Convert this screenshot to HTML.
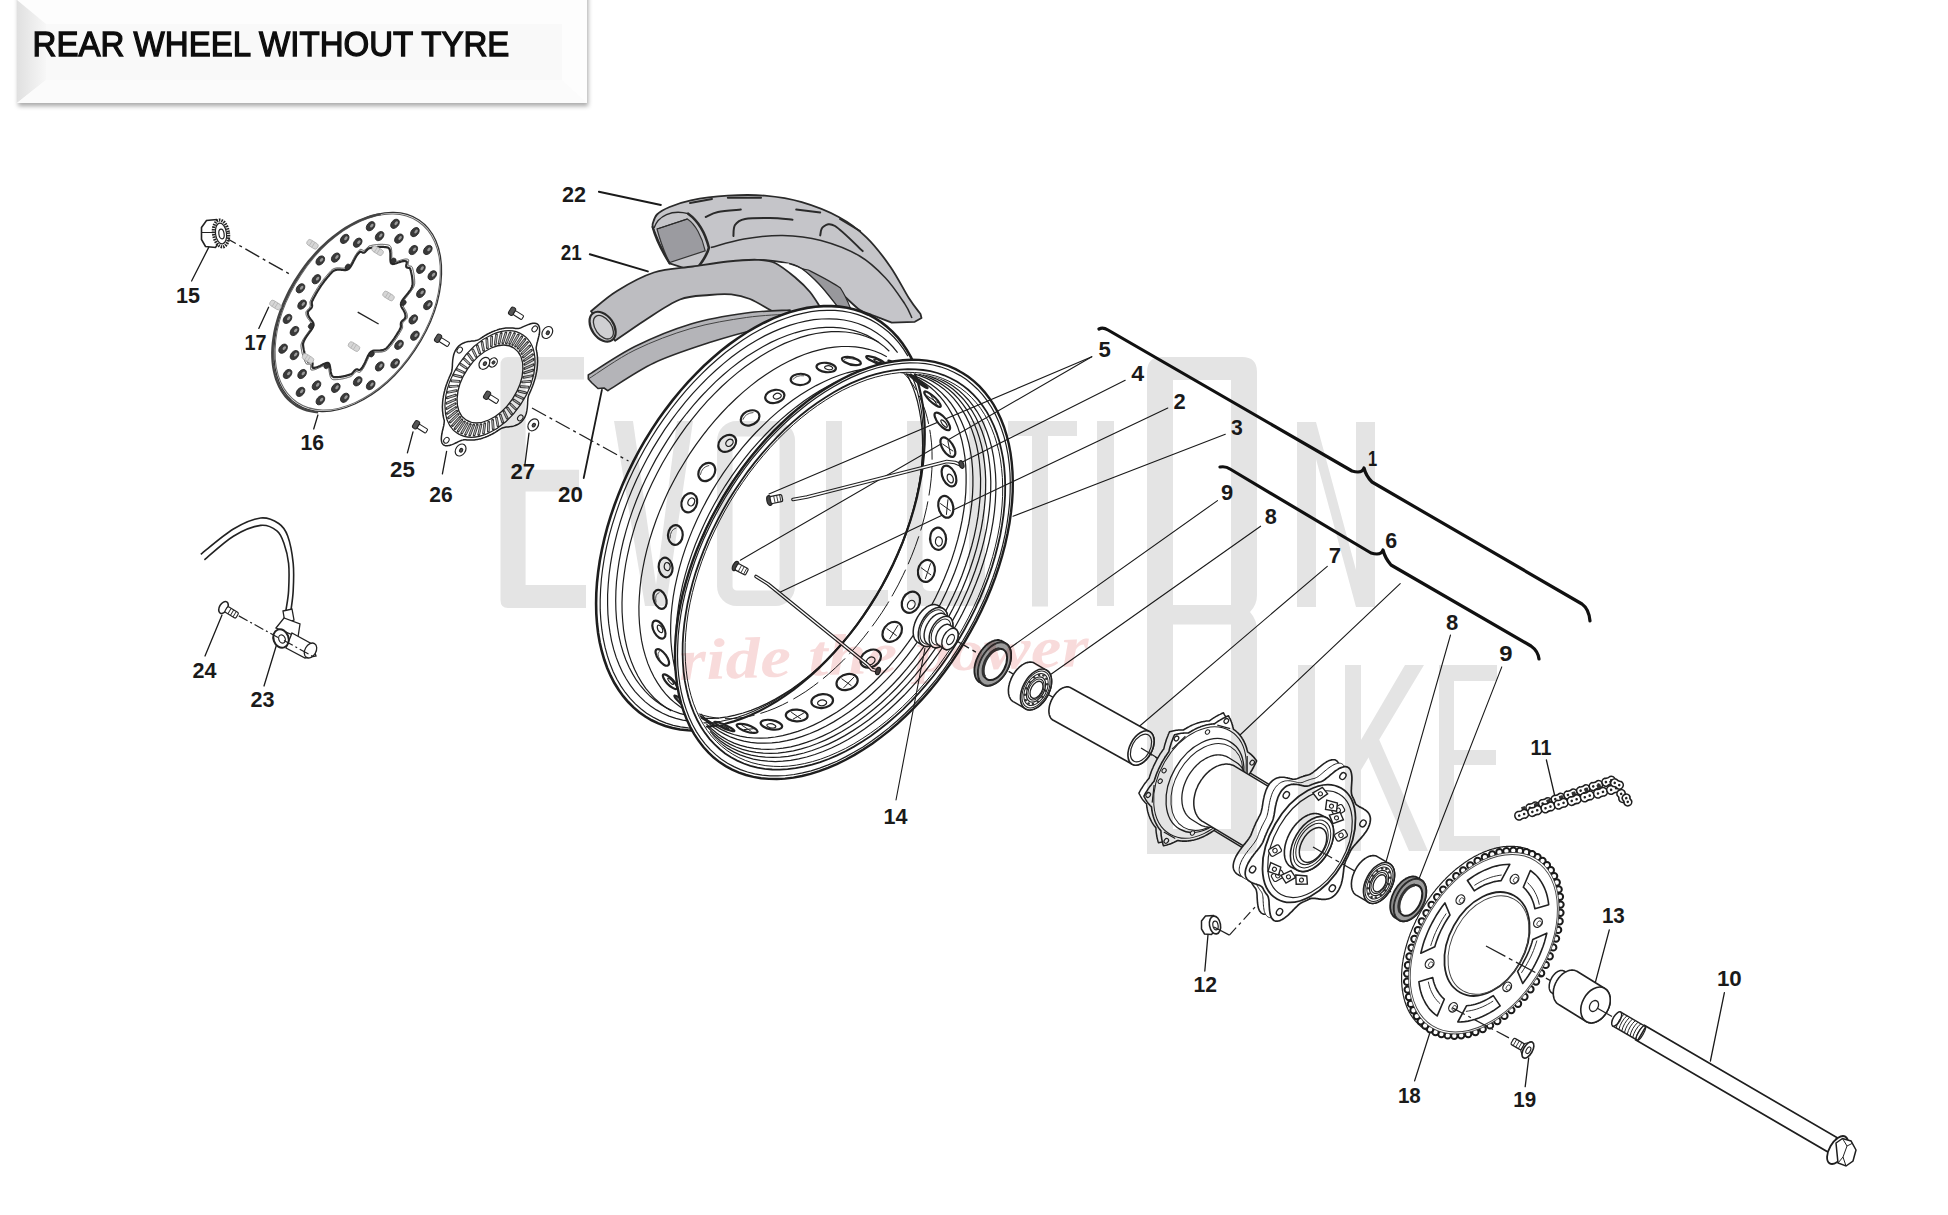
<!DOCTYPE html>
<html><head><meta charset="utf-8"><style>
html,body{margin:0;padding:0;background:#fff;width:1948px;height:1215px;overflow:hidden;}
#wrap{position:relative;width:1948px;height:1215px;background:#fff;}
svg{position:absolute;left:0;top:0;}
.lb{font-family:"Liberation Sans",sans-serif;font-weight:bold;font-size:21.5px;fill:#1a1a1a;}
</style></head><body><div id="wrap">
<svg width="1948" height="1215" viewBox="0 0 1948 1215"><path d="M652.6,224 C653.3,222.4 654.2,217.3 657,214.5 C659.8,211.7 664,209.4 669.6,207 C675.2,204.6 681.2,202.2 690.9,200.3 C700.6,198.4 715.5,196.5 727.8,195.7 C740.1,194.9 752.5,194.6 764.8,195.7 C777.1,196.8 789.5,198.6 801.8,202.2 C814.1,205.8 827.9,211.2 838.7,217 C849.5,222.8 857.8,229 866.4,237.3 C875,245.6 883.4,256.7 890.5,266.9 C897.6,277.1 904,290.4 909,298.3 C914,306.2 918.6,311.4 920.5,314 L921.5,318 L914.8,321.8 L891.7,322.6 C888.4,321.3 877.4,317.1 872,315 C866.6,312.9 864.4,313.1 859.6,309.8 C854.8,306.5 848.4,299.7 843,295 C837.6,290.3 834.4,286 827.5,281.6 C820.6,277.2 808.3,271.8 801.9,268.8 C795.5,265.8 796.5,265.1 789,263.6 C781.5,262.1 767.7,259.9 757,259.8 C746.3,259.7 735.7,261.1 725,263 C714.3,264.9 698.2,269.9 692.8,271.3 L694.8,271.5 L669.6,263.4 L660,245 L652.6,227 Z" fill="#c5c5c9" stroke="#2a2a2a" stroke-width="1.8" stroke-linejoin="round"/>
<path d="M657,229 L687.4,219 C695,224 702,236 705.2,250.8 L669.6,262.6 C664,252 660,240 657,229 Z" fill="#9b9ba0" stroke="#333" stroke-width="1.2" />
<path d="M654,228 C658,216 672,209 688.2,213.7" fill="none" stroke="#2a2a2a" stroke-width="1.4" />
<path d="M657,229 L687.4,219" fill="none" stroke="#2a2a2a" stroke-width="1.2" />
<path d="M688.2,213.7 C697,220 705,232 708.9,247.8 C707,256 700,265 694.8,271.5" fill="none" stroke="#2a2a2a" stroke-width="2.6" stroke-linecap="round"/>
<path d="M652.6,227 C656,240 663,253 669.6,263.4" fill="none" stroke="#2a2a2a" stroke-width="2.2" stroke-linecap="round"/>
<path d="M710.8,247.6 C716.3,246.2 732,241 744,239 C756,237 769.8,235.2 782.6,235.4 C795.4,235.7 808.2,237.1 821,240.5 C833.8,243.9 848.9,249.8 859.6,256 C870.3,262.2 877.8,269.8 885.3,277.7 C892.8,285.6 900,296.7 904.5,303.4 C909,310.1 910.8,315.6 912,318" fill="none" stroke="#2a2a2a" stroke-width="1.5" />
<path d="M705.7,217 C707.8,216.2 712.1,213.2 718,212 C723.9,210.8 737,210 740.8,209.6" fill="none" stroke="#2a2a2a" stroke-width="2.0" stroke-linecap="round"/>
<path d="M733.4,236 C733.7,234.2 733.1,227.8 735,225 C736.9,222.2 739.2,220.2 745,219 C750.8,217.8 762.1,217.9 770,218 C777.9,218.1 788.8,219.4 792.5,219.7" fill="none" stroke="#2a2a2a" stroke-width="2.0" stroke-linecap="round"/>
<path d="M796.2,209.6 C800.2,210.1 816.2,212 820.2,212.5" fill="none" stroke="#2a2a2a" stroke-width="2.0" stroke-linecap="round"/>
<path d="M820.2,235.4 C820.7,234 820.5,228.6 823,227 C825.5,225.4 828.4,222 835,226 C841.6,230 858.1,246.9 862.7,251.1" fill="none" stroke="#2a2a2a" stroke-width="2.0" stroke-linecap="round"/>
<path d="M727.8,197.8 C733.3,197.8 755.5,197.8 761,197.8" fill="none" stroke="#2a2a2a" stroke-width="2.0" stroke-linecap="round"/>
<path d="M690,203 C693.7,202.3 708.3,199.7 712,199" fill="none" stroke="#2a2a2a" stroke-width="2.0" stroke-linecap="round"/>
<path d="M840,219 C843.3,221 856.7,229 860,231" fill="none" stroke="#2a2a2a" stroke-width="2.0" stroke-linecap="round"/>
<path d="M801.9,268.8 L808.3,270 C820,276 832,282 840.4,288 C845,295 848,302 850.6,308.5 L839,308.5 C830,297 818,282 801.9,268.8 Z" fill="#98989c" stroke="#2a2a2a" stroke-width="1.2" />
<path d="M775,263 L789,263.6 L801.9,268.8 C818,282 830,297 839,308.5 L821,308.5 C812,296 805,287 795.5,277.7 C788,271 782,266 775,263 Z" fill="#fff" stroke="none" stroke-width="0" />
<path d="M789,263.6 C791.1,264.5 796.7,265.2 801.9,268.8 C807.1,272.4 813.8,278.4 820,285 C826.2,291.6 835.8,304.6 839,308.5" fill="none" stroke="#2a2a2a" stroke-width="1.3" />
<path d="M591,311.2 C595.3,307.8 606.5,297.3 617,290.9 C627.5,284.4 641.3,276.6 653.9,272.5 C666.5,268.4 680.5,268.3 692.8,266.5 C705.1,264.7 717.1,262.6 727.8,261.5 C738.5,260.4 749.1,259.6 757,259.8 C764.9,260.1 768.6,260 775,263 C781.4,266 789.7,272.9 795.5,277.7 C801.3,282.5 805.6,286.6 810,292 C814.4,297.4 820,307 822,310 L800,318 L785,318 C782.5,316.6 775.6,313 769.8,309.8 C764,306.6 756.4,301.6 750,299 C743.6,296.4 738.1,295.1 731.3,294.4 C724.5,293.7 717.9,294.1 709.4,295 C700.9,295.9 690.8,295.3 680,299.5 C669.2,303.7 655.5,313.5 644.7,320.4 C633.9,327.3 620,337.4 615.1,340.8 Z" fill="#bdbdc1" stroke="#2a2a2a" stroke-width="1.8" stroke-linejoin="round"/>
<ellipse cx="602.6" cy="326.7" rx="16.5" ry="11" transform="rotate(55 602.6 326.7)" fill="#cfcfd2" stroke="#2a2a2a" stroke-width="2.2" />
<ellipse cx="603.4" cy="327.2" rx="13.2" ry="8" transform="rotate(55 603.4 327.2)" fill="none" stroke="#333" stroke-width="1.3" />
<path d="M588.3,375 C596.1,370.2 618.3,354.8 635.4,346.3 C652.5,337.8 672.4,329.6 690.9,324 C709.4,318.4 729.8,315.3 746.3,313 C762.8,310.7 782.7,310.5 790,310 L790,325 C784.3,325.8 769,326.8 755.6,329.7 C742.2,332.6 726.4,337.1 709.4,342.6 C692.4,348.2 670.8,355 653.9,363 C637,371 615.4,386.1 607.7,390.7 L604,388 L598,388.5 L592,383 L588.3,379 Z" fill="#b4b4b8" stroke="#2a2a2a" stroke-width="1.6" stroke-linejoin="round"/>
<path d="M588.3,379 C596.1,374.2 617.9,358.4 635,350 C652.1,341.6 672.4,333.9 690.9,328.5 C709.4,323.1 729.8,319.9 746.3,317.5 C762.8,315.1 782.7,314.6 790,314" fill="none" stroke="#444" stroke-width="1.0" />
<ellipse cx="761.7" cy="518.3" rx="230" ry="140" transform="rotate(-61 761.7 518.3)" fill="#fff"/>
<ellipse cx="843.9" cy="569.4" rx="229.5" ry="140.8" transform="rotate(-59 843.9 569.4)" fill="#fff"/>
<path d="M873.2,317.1 L962.1,372.7 L725.7,766.1 L650.2,719.5 Z" fill="#fff"/>
<text x="562" y="201.7" textLength="24" lengthAdjust="spacingAndGlyphs" class="lb">22</text>
<text x="560.8" y="260.3" textLength="20.9" lengthAdjust="spacingAndGlyphs" class="lb">21</text>
<text x="176" y="303.4" textLength="24" lengthAdjust="spacingAndGlyphs" class="lb">15</text>
<text x="244.5" y="350" textLength="22" lengthAdjust="spacingAndGlyphs" class="lb">17</text>
<text x="300.5" y="450" textLength="23.5" lengthAdjust="spacingAndGlyphs" class="lb">16</text>
<text x="390.1" y="477" textLength="24.8" lengthAdjust="spacingAndGlyphs" class="lb">25</text>
<text x="429.3" y="501.8" textLength="23.4" lengthAdjust="spacingAndGlyphs" class="lb">26</text>
<text x="510.5" y="479.4" textLength="24.7" lengthAdjust="spacingAndGlyphs" class="lb">27</text>
<text x="558" y="502" textLength="24.8" lengthAdjust="spacingAndGlyphs" class="lb">20</text>
<text x="1098.5" y="357.2" textLength="12.3" lengthAdjust="spacingAndGlyphs" class="lb">5</text>
<text x="1131.3" y="381.3" textLength="12.9" lengthAdjust="spacingAndGlyphs" class="lb">4</text>
<text x="1173.5" y="408.5" textLength="12.2" lengthAdjust="spacingAndGlyphs" class="lb">2</text>
<text x="1230.9" y="435.2" textLength="11.8" lengthAdjust="spacingAndGlyphs" class="lb">3</text>
<text x="1367.9" y="465.7" textLength="9.2" lengthAdjust="spacingAndGlyphs" class="lb">1</text>
<text x="1221.1" y="499.5" textLength="12.2" lengthAdjust="spacingAndGlyphs" class="lb">9</text>
<text x="1264.8" y="524.2" textLength="12.1" lengthAdjust="spacingAndGlyphs" class="lb">8</text>
<text x="1385.3" y="547.8" textLength="11.9" lengthAdjust="spacingAndGlyphs" class="lb">6</text>
<text x="1328.8" y="563.2" textLength="12.3" lengthAdjust="spacingAndGlyphs" class="lb">7</text>
<text x="1445.9" y="629.9" textLength="12.3" lengthAdjust="spacingAndGlyphs" class="lb">8</text>
<text x="1499.2" y="660.7" textLength="13.3" lengthAdjust="spacingAndGlyphs" class="lb">9</text>
<text x="1530.6" y="754.6" textLength="20.8" lengthAdjust="spacingAndGlyphs" class="lb">11</text>
<text x="883.5" y="824" textLength="24" lengthAdjust="spacingAndGlyphs" class="lb">14</text>
<text x="192.5" y="678" textLength="24" lengthAdjust="spacingAndGlyphs" class="lb">24</text>
<text x="250.5" y="707" textLength="24" lengthAdjust="spacingAndGlyphs" class="lb">23</text>
<text x="1193.5" y="991.8" textLength="23.5" lengthAdjust="spacingAndGlyphs" class="lb">12</text>
<text x="1601.9" y="923" textLength="22.9" lengthAdjust="spacingAndGlyphs" class="lb">13</text>
<text x="1716.9" y="985.6" textLength="24.8" lengthAdjust="spacingAndGlyphs" class="lb">10</text>
<text x="1397.9" y="1102.8" textLength="22.9" lengthAdjust="spacingAndGlyphs" class="lb">18</text>
<text x="1513.2" y="1107.4" textLength="22.9" lengthAdjust="spacingAndGlyphs" class="lb">19</text>
<line x1="598.9" y1="191.7" x2="660.9" y2="204.9" stroke="#1a1a1a" stroke-width="2.0" stroke-linecap="round"/>
<line x1="589.8" y1="254.2" x2="647.8" y2="271.4" stroke="#1a1a1a" stroke-width="2.0" stroke-linecap="round"/>
<line x1="191.6" y1="281" x2="208.7" y2="247.4" stroke="#1a1a1a" stroke-width="1.3" stroke-linecap="round"/>
<line x1="258.8" y1="328.4" x2="268.6" y2="307.3" stroke="#1a1a1a" stroke-width="1.3" stroke-linecap="round"/>
<line x1="317.9" y1="415" x2="313.7" y2="429" stroke="#1a1a1a" stroke-width="1.3" stroke-linecap="round"/>
<line x1="407.4" y1="452.8" x2="413" y2="431.8" stroke="#1a1a1a" stroke-width="1.3" stroke-linecap="round"/>
<line x1="442.4" y1="473.8" x2="446.6" y2="451.4" stroke="#1a1a1a" stroke-width="1.3" stroke-linecap="round"/>
<line x1="525" y1="464" x2="529" y2="433.2" stroke="#1a1a1a" stroke-width="1.3" stroke-linecap="round"/>
<line x1="583.7" y1="478" x2="601.9" y2="389.9" stroke="#1a1a1a" stroke-width="1.8" stroke-linecap="round"/>
<line x1="1091.8" y1="356.7" x2="769" y2="494" stroke="#1a1a1a" stroke-width="1.1" stroke-linecap="round"/>
<line x1="1091.8" y1="356.7" x2="740.3" y2="560.2" stroke="#1a1a1a" stroke-width="1.1" stroke-linecap="round"/>
<line x1="1125.2" y1="380.3" x2="962.9" y2="461.7" stroke="#1a1a1a" stroke-width="1.1" stroke-linecap="round"/>
<line x1="1167.8" y1="408" x2="779.9" y2="592.3" stroke="#1a1a1a" stroke-width="1.1" stroke-linecap="round"/>
<line x1="1225.3" y1="434.2" x2="1013" y2="516.3" stroke="#1a1a1a" stroke-width="1.1" stroke-linecap="round"/>
<line x1="1217.5" y1="500.6" x2="1000" y2="655" stroke="#1a1a1a" stroke-width="1.1" stroke-linecap="round"/>
<line x1="1260.6" y1="526.2" x2="1040" y2="682" stroke="#1a1a1a" stroke-width="1.1" stroke-linecap="round"/>
<line x1="1327.3" y1="566.3" x2="1135" y2="730" stroke="#1a1a1a" stroke-width="1.1" stroke-linecap="round"/>
<line x1="1400.2" y1="583.7" x2="1240" y2="735" stroke="#1a1a1a" stroke-width="1.1" stroke-linecap="round"/>
<line x1="1450.5" y1="635" x2="1386" y2="862" stroke="#1a1a1a" stroke-width="1.1" stroke-linecap="round"/>
<line x1="1501.8" y1="666.9" x2="1417" y2="884" stroke="#1a1a1a" stroke-width="1.1" stroke-linecap="round"/>
<line x1="1546.4" y1="760" x2="1554.8" y2="796" stroke="#1a1a1a" stroke-width="1.3" stroke-linecap="round"/>
<line x1="1204.8" y1="971" x2="1208" y2="934.6" stroke="#1a1a1a" stroke-width="1.3" stroke-linecap="round"/>
<line x1="1609.3" y1="929.9" x2="1595.5" y2="981.8" stroke="#1a1a1a" stroke-width="1.3" stroke-linecap="round"/>
<line x1="1724.4" y1="992.6" x2="1710.4" y2="1061" stroke="#1a1a1a" stroke-width="1.3" stroke-linecap="round"/>
<line x1="1414.6" y1="1080.9" x2="1429.6" y2="1033.6" stroke="#1a1a1a" stroke-width="1.3" stroke-linecap="round"/>
<line x1="1525.2" y1="1086.6" x2="1528.7" y2="1057.8" stroke="#1a1a1a" stroke-width="1.3" stroke-linecap="round"/>
<line x1="896" y1="800" x2="925" y2="648" stroke="#1a1a1a" stroke-width="1.1" stroke-linecap="round"/>
<line x1="205" y1="656" x2="222" y2="615" stroke="#1a1a1a" stroke-width="1.3" stroke-linecap="round"/>
<line x1="264" y1="686" x2="278" y2="640" stroke="#1a1a1a" stroke-width="1.3" stroke-linecap="round"/>
<path d="M1099,329 Q1103,327 1108,330 L1352,471 Q1362,474 1364,468 Q1366,476 1372,482 L1582,604 Q1589,609 1590,621" fill="none" stroke="#111" stroke-width="3.2" stroke-linejoin="round" stroke-linecap="round"/>
<path d="M1220,467 Q1226,466 1230,469 L1371,553 Q1381,556 1383,550 Q1385,558 1391,565 L1531,646 Q1538,651 1539,659" fill="none" stroke="#111" stroke-width="3.2" stroke-linejoin="round" stroke-linecap="round"/>
<defs>
<mask id="mOut" maskUnits="userSpaceOnUse" x="0" y="0" width="1948" height="1215"><rect width="1948" height="1215" fill="#fff"/><ellipse cx="843.9" cy="569.4" rx="229.5" ry="140.8" transform="rotate(-59.0 843.9 569.4)" fill="#000"/></mask>
<clipPath id="cIn"><ellipse cx="843.9" cy="569.4" rx="214.6" ry="131.6" transform="rotate(-59.0 843.9 569.4)"/></clipPath>
</defs>
<g mask="url(#mOut)">
<path d="M755,716 L746.3,719.8 L737.6,723.1 L729,725.7 L720.5,727.8 L712,729.3 L703.8,730.3 L695.7,730.6 L687.8,730.3 L680,729.5 L672.5,728.1 L665.3,726 L658.3,723.4 L651.7,720.3 L645.3,716.5 L639.2,712.2 L633.5,707.4 L628.2,702 L623.2,696.2 L618.6,689.8 L614.4,683 L610.6,675.7 L607.2,667.9 L604.3,659.8 L601.8,651.2 L599.7,642.3 L598.1,633 L597,623.5 L596.3,613.6 L596.1,603.4 L596.3,593 L597,582.5 L598.2,571.7 L599.8,560.8 L601.9,549.7 L604.4,538.6 L607.3,527.4 L610.7,516.2 L614.5,505 L618.7,493.9 L623.3,482.8 L628.3,471.8 L633.7,460.9 L639.4,450.2 L645.4,439.7 L651.8,429.4 L658.5,419.3 L665.5,409.6 L672.7,400.1 L680.2,391 L688,382.2 L695.9,373.8 L704,365.8 L712.3,358.2 L720.7,351.1 L729.2,344.4 L737.8,338.2 L746.5,332.5 L755.2,327.4 L764,322.7 L772.7,318.6 L781.4,315.1 L790,312.1 L798.6,309.8 L807.1,307.9 L815.4,306.7 L823.6,306.1 L831.6,306.1 L839.5,306.6 L847.1,307.7 L854.4,309.5 L861.5,311.8 L868.4,314.7 L874.9,318.1 L881.1,322.1 L887,326.7 L892.6,331.8 L897.7,337.4 L902.5,343.5 L906.9,350.1 L910.9,357.2 L914.5,364.7" fill="none" stroke="#1e1e1e" stroke-width="2.6" />
<path d="M728.4,724.3 L720,726.2 L711.8,727.5 L703.7,728.2 L695.7,728.4 L688,727.9 L680.5,726.9 L673.2,725.3 L666.1,723.1 L659.3,720.4 L652.8,717.1 L646.6,713.2 L640.8,708.8 L635.3,703.9 L630.1,698.4 L625.3,692.5 L620.9,686.1 L616.9,679.2 L613.3,671.9 L610.1,664.1 L607.4,655.9 L605.1,647.4 L603.2,638.5 L601.8,629.2 L600.8,619.7 L600.2,609.9 L600.2,599.8 L600.6,589.5 L601.4,579 L602.7,568.3 L604.4,557.5 L606.6,546.6 L609.2,535.7 L612.3,524.6 L615.8,513.6 L619.6,502.6 L623.9,491.6 L628.6,480.7 L633.6,469.9 L639.1,459.2 L644.8,448.7 L650.9,438.5 L657.3,428.4 L664,418.6 L671,409 L678.2,399.8 L685.7,390.9 L693.4,382.4 L701.2,374.3 L709.3,366.5 L717.5,359.2 L725.8,352.3 L734.3,345.9 L742.8,340 L751.4,334.6 L760,329.7 L768.6,325.3 L777.2,321.4 L785.7,318.2 L794.3,315.4 L802.7,313.3 L811,311.7 L819.1,310.7 L827.2,310.3 L835,310.4 L842.6,311.2 L850.1,312.5 L857.2,314.4 L864.2,316.9 L870.8,319.9 L877.1,323.5 L883.1,327.7 L888.8,332.3 L894.2,337.5 L899.1,343.2 L903.7,349.4 L907.9,356.1" fill="none" stroke="#1e1e1e" stroke-width="1.2" />
<path d="M705,721.9 L697.4,721.8 L689.9,721.2 L682.7,720.1 L675.8,718.3 L669,716.1 L662.6,713.3 L656.4,709.9 L650.5,706 L645,701.6 L639.8,696.7 L634.9,691.3 L630.4,685.4 L626.3,679 L622.5,672.3 L619.2,665 L616.2,657.4 L613.7,649.4 L611.6,641.1 L610,632.4 L608.7,623.4 L607.9,614.1 L607.6,604.5 L607.6,594.7 L608.2,584.7 L609.1,574.5 L610.5,564.2 L612.3,553.7 L614.6,543.2 L617.2,532.6 L620.3,521.9 L623.8,511.3 L627.7,500.6 L632,490.1 L636.6,479.6 L641.6,469.2 L646.9,459 L652.6,448.9 L658.6,439.1 L664.8,429.4 L671.4,420.1 L678.2,411 L685.3,402.2 L692.6,393.7 L700.1,385.6 L707.7,377.9 L715.6,370.5 L723.5,363.6 L731.6,357.1 L739.8,351.1 L748,345.6 L756.3,340.5 L764.6,335.9 L773,331.9 L781.3,328.4 L789.5,325.4 L797.7,323 L805.8,321.1 L813.8,319.7 L821.6,319 L829.3,318.8 L836.8,319.1 L844.1,320 L851.2,321.5 L858,323.5 L864.6,326.1 L870.9,329.2 L876.9,332.9 L882.6,337.1 L888,341.8 L893,347 L897.6,352.6" fill="none" stroke="#1e1e1e" stroke-width="1.2" />
<path d="M686.3,715.2 L679.6,713.4 L673.2,711 L667,708.1 L661.1,704.7 L655.5,700.8 L650.2,696.3 L645.3,691.4 L640.7,686 L636.4,680.2 L632.6,673.9 L629.1,667.2 L625.9,660 L623.2,652.5 L620.9,644.7 L619,636.5 L617.6,627.9 L616.5,619.1 L615.9,610 L615.7,600.7 L615.9,591.1 L616.5,581.4 L617.6,571.5 L619.1,561.4 L621,551.2 L623.3,541 L626.1,530.7 L629.2,520.4 L632.7,510.1 L636.6,499.8 L640.9,489.6 L645.5,479.5 L650.5,469.5 L655.7,459.6 L661.4,449.9 L667.3,440.4 L673.4,431.2 L679.9,422.2 L686.6,413.5 L693.5,405.1 L700.7,397 L708,389.3 L715.5,381.9 L723.1,375 L730.9,368.4 L738.8,362.3 L746.7,356.6 L754.8,351.4 L762.8,346.7 L770.9,342.4 L778.9,338.7 L787,335.5 L795,332.8 L802.9,330.6 L810.7,329 L818.4,327.9 L825.9,327.3 L833.3,327.3 L840.5,327.9 L847.5,329 L854.3,330.6 L860.8,332.7 L867.1,335.4 L873.1,338.7 L878.8,342.4 L884.3,346.6 L889.3,351.3" fill="none" stroke="#1e1e1e" stroke-width="1.2" />
<path d="M671.3,710.9 L665.5,707.3 L660.1,703.3 L655,698.8 L650.2,693.7 L645.7,688.3 L641.6,682.4 L637.9,676 L634.5,669.3 L631.5,662.1 L628.9,654.6 L626.8,646.8 L625,638.6 L623.6,630.1 L622.7,621.3 L622.1,612.2 L622,603 L622.3,593.5 L623,583.8 L624.2,574 L625.7,564 L627.7,554 L630,543.8 L632.8,533.6 L635.9,523.4 L639.5,513.2 L643.4,503.1 L647.6,493 L652.2,483 L657.2,473.1 L662.4,463.3 L668,453.8 L673.9,444.4 L680,435.3 L686.4,426.4 L693.1,417.8 L700,409.4 L707,401.4 L714.3,393.8 L721.7,386.5 L729.3,379.6 L737,373.1 L744.8,367 L752.7,361.4 L760.6,356.2 L768.6,351.4 L776.6,347.2 L784.6,343.4 L792.6,340.2 L800.5,337.4 L808.4,335.2 L816.1,333.5 L823.8,332.3 L831.3,331.7 L838.6,331.6 L845.8,332 L852.8,333 L859.6,334.4 L866.1,336.5 L872.4,339 L878.4,342" fill="none" stroke="#1e1e1e" stroke-width="1.2" />
<path d="M685.9,710.5 L680.4,707 L675.2,703.1 L670.2,698.7 L665.6,693.9 L661.4,688.6 L657.5,682.9 L653.9,676.8 L650.7,670.3 L647.8,663.4 L645.4,656.2 L643.3,648.6 L641.6,640.7 L640.4,632.5 L639.5,624 L639,615.3 L638.9,606.4 L639.3,597.3 L640,588 L641.1,578.5 L642.7,569 L644.6,559.3 L646.9,549.6 L649.6,539.8 L652.7,530 L656.1,520.2 L659.9,510.4 L664.1,500.7 L668.5,491.1 L673.3,481.7 L678.4,472.3 L683.9,463.2 L689.5,454.2 L695.5,445.4 L701.7,436.9 L708.1,428.6 L714.8,420.7 L721.6,413 L728.6,405.7 L735.8,398.7 L743.1,392.1 L750.6,385.9 L758.1,380.1 L765.7,374.7 L773.4,369.7 L781.1,365.2 L788.8,361.2 L796.5,357.6 L804.2,354.5 L811.9,351.9 L819.4,349.8 L826.9,348.2 L834.3,347.1 L841.5,346.5 L848.6,346.5 L855.5,346.9 L862.2,347.9 L868.7,349.3 L875,351.3 L881.1,353.8 L886.8,356.8" fill="none" stroke="#1e1e1e" stroke-width="1.2" />
<path d="M716.4,729.4 L710.9,725.8 L705.7,721.8 L700.9,717.4 L696.3,712.4 L692.1,707.1 L688.3,701.3 L684.8,695.2 L681.6,688.6 L678.9,681.7 L676.5,674.4 L674.5,666.8 L673,658.9 L671.8,650.7 L671,642.2 L670.6,633.5 L670.7,624.6 L671.1,615.5 L672,606.2 L673.2,596.8 L674.9,587.2 L677,577.6 L679.4,567.9 L682.2,558.1 L685.4,548.4 L689,538.6 L692.9,528.9 L697.2,519.3 L701.8,509.8 L706.7,500.4 L711.9,491.1 L717.5,482 L723.3,473.1 L729.4,464.5 L735.7,456.1 L742.2,447.9 L749,440 L755.9,432.5 L763.1,425.3 L770.3,418.4 L777.7,411.9 L785.3,405.8 L792.9,400.1 L800.6,394.8 L808.3,390 L816.1,385.6 L823.9,381.7 L831.6,378.2 L839.4,375.3 L847.1,372.8 L854.7,370.8 L862.2,369.3 L869.6,368.3 L876.8,367.9 L883.9,367.9 L890.8,368.5 L897.5,369.5 L904,371.1 L910.3,373.2 L916.3,375.7 L922.1,378.8" fill="none" stroke="#1e1e1e" stroke-width="1.2" />
<path d="M723,742.9 L717.3,739.2 L711.9,735 L706.9,730.3 L702.2,725.2 L697.8,719.6 L693.9,713.6 L690.2,707.1 L687,700.3 L684.2,693.1 L681.8,685.5 L679.7,677.6 L678.1,669.4 L676.9,660.8 L676.2,652 L675.8,643 L675.9,633.7 L676.4,624.2 L677.4,614.6 L678.7,604.8 L680.5,594.9 L682.6,584.9 L685.2,574.8 L688.2,564.7 L691.6,554.6 L695.3,544.5 L699.5,534.4 L704,524.4 L708.8,514.5 L714,504.8 L719.4,495.2 L725.2,485.8 L731.3,476.6 L737.7,467.6 L744.3,458.9 L751.1,450.4 L758.2,442.3 L765.5,434.5 L772.9,427 L780.5,419.9 L788.2,413.2 L796.1,406.9 L804,401 L812.1,395.6 L820.1,390.6 L828.2,386.1 L836.4,382 L844.5,378.5 L852.5,375.5 L860.5,372.9 L868.4,370.9 L876.2,369.4 L883.9,368.4 L891.5,368 L898.8,368.1 L906,368.7 L913,369.8 L919.8,371.5 L926.3,373.7 L932.5,376.4 L938.5,379.6" fill="none" stroke="#1e1e1e" stroke-width="1.2" />
<path d="M725.8,748.6 L720,744.9 L714.6,740.6 L709.5,735.8 L704.7,730.6 L700.3,724.9 L696.2,718.8 L692.6,712.3 L689.3,705.3 L686.5,698 L684,690.3 L682,682.2 L680.3,673.8 L679.1,665.2 L678.4,656.2 L678.1,647 L678.2,637.6 L678.7,628 L679.7,618.1 L681,608.2 L682.9,598.1 L685.1,588 L687.7,577.7 L690.8,567.5 L694.2,557.2 L698.1,546.9 L702.3,536.7 L706.9,526.6 L711.8,516.6 L717.1,506.7 L722.7,496.9 L728.6,487.4 L734.8,478 L741.2,468.9 L748,460.1 L755,451.5 L762.2,443.2 L769.6,435.3 L777.1,427.8 L784.9,420.6 L792.8,413.8 L800.8,407.4 L808.8,401.4 L817,395.9 L825.2,390.9 L833.5,386.3 L841.7,382.2 L850,378.6 L858.2,375.5 L866.3,373 L874.3,370.9 L882.3,369.4 L890.1,368.5 L897.8,368 L905.3,368.1 L912.6,368.8 L919.7,370 L926.5,371.7 L933.2,373.9 L939.5,376.7 L945.6,379.9" fill="none" stroke="#1e1e1e" stroke-width="1.2" />
<ellipse cx="0" cy="0" rx="1" ry="1" transform="matrix(-4.8 -3.6 6.6 4 697.7 717.5)" fill="#fff" stroke="#222" stroke-width="2.2" vector-effect="non-scaling-stroke"/>
<ellipse cx="0.18" cy="0.18" rx="0.42" ry="0.42" transform="matrix(-4.8 -3.6 6.6 4 697.7 717.5)" fill="none" stroke="#222" stroke-width="1.2" vector-effect="non-scaling-stroke"/>
<ellipse cx="0" cy="0" rx="1" ry="1" transform="matrix(-3.8 -5 6.6 4 682 702)" fill="#fff" stroke="#222" stroke-width="2.2" vector-effect="non-scaling-stroke"/>
<path d="M-0.6,-0.5 Q0.2,-0.9 0.7,-0.2" transform="matrix(-3.8 -5 6.6 4 682 702)" fill="none" stroke="#444" stroke-width="0.9" vector-effect="non-scaling-stroke"/>
<ellipse cx="0" cy="0" rx="1" ry="1" transform="matrix(-2.7 -6.2 6.6 4 670 681.7)" fill="#fff" stroke="#222" stroke-width="2.2" vector-effect="non-scaling-stroke"/>
<ellipse cx="0.18" cy="0.18" rx="0.42" ry="0.42" transform="matrix(-2.7 -6.2 6.6 4 670 681.7)" fill="none" stroke="#222" stroke-width="1.2" vector-effect="non-scaling-stroke"/>
<ellipse cx="0" cy="0" rx="1" ry="1" transform="matrix(-1.5 -7.3 6.6 4 662.3 657.4)" fill="#fff" stroke="#222" stroke-width="2.2" vector-effect="non-scaling-stroke"/>
<path d="M-0.6,-0.5 Q0.2,-0.9 0.7,-0.2" transform="matrix(-1.5 -7.3 6.6 4 662.3 657.4)" fill="none" stroke="#444" stroke-width="0.9" vector-effect="non-scaling-stroke"/>
<ellipse cx="0" cy="0" rx="1" ry="1" transform="matrix(-0.3 -8.1 6.6 4 658.9 629.6)" fill="#fff" stroke="#222" stroke-width="2.2" vector-effect="non-scaling-stroke"/>
<ellipse cx="0.18" cy="0.18" rx="0.42" ry="0.42" transform="matrix(-0.3 -8.1 6.6 4 658.9 629.6)" fill="none" stroke="#222" stroke-width="1.2" vector-effect="non-scaling-stroke"/>
<ellipse cx="0" cy="0" rx="1" ry="1" transform="matrix(1 -8.6 6.6 4 660 599.4)" fill="#fff" stroke="#222" stroke-width="2.2" vector-effect="non-scaling-stroke"/>
<path d="M-0.6,-0.5 Q0.2,-0.9 0.7,-0.2" transform="matrix(1 -8.6 6.6 4 660 599.4)" fill="none" stroke="#444" stroke-width="0.9" vector-effect="non-scaling-stroke"/>
<ellipse cx="0" cy="0" rx="1" ry="1" transform="matrix(2.2 -8.9 6.6 4 665.6 567.5)" fill="#fff" stroke="#222" stroke-width="2.2" vector-effect="non-scaling-stroke"/>
<ellipse cx="0.18" cy="0.18" rx="0.42" ry="0.42" transform="matrix(2.2 -8.9 6.6 4 665.6 567.5)" fill="none" stroke="#222" stroke-width="1.2" vector-effect="non-scaling-stroke"/>
<ellipse cx="0" cy="0" rx="1" ry="1" transform="matrix(3.3 -9 6.6 4 675.4 535)" fill="#fff" stroke="#222" stroke-width="2.2" vector-effect="non-scaling-stroke"/>
<path d="M-0.6,-0.5 Q0.2,-0.9 0.7,-0.2" transform="matrix(3.3 -9 6.6 4 675.4 535)" fill="none" stroke="#444" stroke-width="0.9" vector-effect="non-scaling-stroke"/>
<ellipse cx="0" cy="0" rx="1" ry="1" transform="matrix(4.4 -8.7 6.6 4 689.3 502.8)" fill="#fff" stroke="#222" stroke-width="2.2" vector-effect="non-scaling-stroke"/>
<ellipse cx="0.18" cy="0.18" rx="0.42" ry="0.42" transform="matrix(4.4 -8.7 6.6 4 689.3 502.8)" fill="none" stroke="#222" stroke-width="1.2" vector-effect="non-scaling-stroke"/>
<ellipse cx="0" cy="0" rx="1" ry="1" transform="matrix(5.3 -8.2 6.6 4 706.8 472)" fill="#fff" stroke="#222" stroke-width="2.2" vector-effect="non-scaling-stroke"/>
<path d="M-0.6,-0.5 Q0.2,-0.9 0.7,-0.2" transform="matrix(5.3 -8.2 6.6 4 706.8 472)" fill="none" stroke="#444" stroke-width="0.9" vector-effect="non-scaling-stroke"/>
<ellipse cx="0" cy="0" rx="1" ry="1" transform="matrix(6 -7.5 6.6 4 727.2 443.4)" fill="#fff" stroke="#222" stroke-width="2.2" vector-effect="non-scaling-stroke"/>
<ellipse cx="0.18" cy="0.18" rx="0.42" ry="0.42" transform="matrix(6 -7.5 6.6 4 727.2 443.4)" fill="none" stroke="#222" stroke-width="1.2" vector-effect="non-scaling-stroke"/>
<ellipse cx="0" cy="0" rx="1" ry="1" transform="matrix(6.6 -6.5 6.6 4 750.1 417.9)" fill="#fff" stroke="#222" stroke-width="2.2" vector-effect="non-scaling-stroke"/>
<path d="M-0.6,-0.5 Q0.2,-0.9 0.7,-0.2" transform="matrix(6.6 -6.5 6.6 4 750.1 417.9)" fill="none" stroke="#444" stroke-width="0.9" vector-effect="non-scaling-stroke"/>
<ellipse cx="0" cy="0" rx="1" ry="1" transform="matrix(7 -5.3 6.6 4 774.8 396.4)" fill="#fff" stroke="#222" stroke-width="2.2" vector-effect="non-scaling-stroke"/>
<ellipse cx="0.18" cy="0.18" rx="0.42" ry="0.42" transform="matrix(7 -5.3 6.6 4 774.8 396.4)" fill="none" stroke="#222" stroke-width="1.2" vector-effect="non-scaling-stroke"/>
<ellipse cx="0" cy="0" rx="1" ry="1" transform="matrix(7.1 -4 6.6 4 800.4 379.4)" fill="#fff" stroke="#222" stroke-width="2.2" vector-effect="non-scaling-stroke"/>
<path d="M-0.6,-0.5 Q0.2,-0.9 0.7,-0.2" transform="matrix(7.1 -4 6.6 4 800.4 379.4)" fill="none" stroke="#444" stroke-width="0.9" vector-effect="non-scaling-stroke"/>
<ellipse cx="0" cy="0" rx="1" ry="1" transform="matrix(7.1 -2.5 6.6 4 826.2 367.5)" fill="#fff" stroke="#222" stroke-width="2.2" vector-effect="non-scaling-stroke"/>
<ellipse cx="0.18" cy="0.18" rx="0.42" ry="0.42" transform="matrix(7.1 -2.5 6.6 4 826.2 367.5)" fill="none" stroke="#222" stroke-width="1.2" vector-effect="non-scaling-stroke"/>
<ellipse cx="0" cy="0" rx="1" ry="1" transform="matrix(6.8 -1 6.6 4 851.4 361)" fill="#fff" stroke="#222" stroke-width="2.2" vector-effect="non-scaling-stroke"/>
<path d="M-0.6,-0.5 Q0.2,-0.9 0.7,-0.2" transform="matrix(6.8 -1 6.6 4 851.4 361)" fill="none" stroke="#444" stroke-width="0.9" vector-effect="non-scaling-stroke"/>
<ellipse cx="0" cy="0" rx="1" ry="1" transform="matrix(6.3 0.6 6.6 4 875.3 360.1)" fill="#fff" stroke="#222" stroke-width="2.2" vector-effect="non-scaling-stroke"/>
<ellipse cx="0.18" cy="0.18" rx="0.42" ry="0.42" transform="matrix(6.3 0.6 6.6 4 875.3 360.1)" fill="none" stroke="#222" stroke-width="1.2" vector-effect="non-scaling-stroke"/>
<ellipse cx="0" cy="0" rx="1" ry="1" transform="matrix(5.6 2.1 6.6 4 897.1 365)" fill="#fff" stroke="#222" stroke-width="2.2" vector-effect="non-scaling-stroke"/>
<path d="M-0.6,-0.5 Q0.2,-0.9 0.7,-0.2" transform="matrix(5.6 2.1 6.6 4 897.1 365)" fill="none" stroke="#444" stroke-width="0.9" vector-effect="non-scaling-stroke"/>
</g>
<g clip-path="url(#cIn)">
<path d="M848.9,311.6 L856.1,313.5 L863,316 L869.6,319.1 L875.9,322.8 L881.9,327 L887.6,331.7 L892.9,336.9 L897.8,342.7 L902.4,348.9 L906.6,355.7 L910.3,362.8 L913.7,370.5 L916.6,378.5 L919.1,386.9 L921.1,395.7 L922.7,404.8 L923.9,414.2 L924.6,424 L924.8,434 L924.6,444.2 L923.9,454.7 L922.8,465.3 L921.3,476 L919.2,486.9 L916.8,497.9 L913.9,508.9 L910.6,520 L906.8,531 L902.7,542.1 L898.1,553 L893.2,563.9 L887.9,574.6 L882.3,585.2 L876.3,595.5 L870,605.7 L863.4,615.6 L856.6,625.3 L849.4,634.6 L842,643.6 L834.4,652.3 L826.6,660.6 L818.6,668.5 L810.4,676 L802.1,683 L793.7,689.6 L785.2,695.7 L776.6,701.3 L768,706.4 L759.4,711 L750.8,715 L742.2,718.5 L733.7,721.4 L725.2,723.8 L716.8,725.5 L708.6,726.7 L700.5,727.3 L692.6,727.4 L684.9,726.8 L677.4,725.7 L670.1,723.9 L663.1,721.6 L656.4,718.8 L650,715.4 L643.8,711.4 L638,706.9 L632.6,701.8" fill="none" stroke="#1e1e1e" stroke-width="2.2" />
<path d="M849.8,320 L856.8,321.9 L863.5,324.4 L869.9,327.4 L876,330.9 L881.8,335 L887.3,339.6 L892.4,344.7 L897.2,350.3 L901.6,356.4 L905.7,362.9 L909.3,369.8 L912.5,377.2 L915.4,385 L917.8,393.2 L919.7,401.7 L921.3,410.5 L922.4,419.7 L923,429.1 L923.3,438.8 L923.1,448.8 L922.4,458.9 L921.3,469.2 L919.8,479.6 L917.8,490.2 L915.4,500.8 L912.6,511.5 L909.3,522.2 L905.7,532.9 L901.7,543.6 L897.3,554.2 L892.5,564.7 L887.3,575.1 L881.9,585.3 L876.1,595.4 L869.9,605.2 L863.5,614.9 L856.8,624.2 L849.9,633.3 L842.7,642 L835.3,650.4 L827.7,658.4 L820,666.1 L812,673.3 L804,680.1 L795.8,686.5 L787.6,692.4 L779.2,697.8 L770.9,702.7 L762.5,707.1 L754.2,711 L745.8,714.4 L737.5,717.2 L729.3,719.5 L721.2,721.2 L713.3,722.3 L705.4,722.9 L697.8,722.9 L690.3,722.4 L683,721.3 L676,719.6 L669.2,717.3 L662.6,714.6 L656.4,711.2 L650.5,707.4 L644.8,703 L639.6,698.1" fill="none" stroke="#1e1e1e" stroke-width="1.1" />
<path d="M852,330.6 L858.7,332.5 L865.2,334.9 L871.3,337.8 L877.2,341.2 L882.8,345.1 L888.1,349.6 L893,354.5 L897.6,359.9 L901.9,365.7 L905.8,372 L909.2,378.7 L912.4,385.9 L915.1,393.4 L917.4,401.2 L919.2,409.5 L920.7,418 L921.8,426.8 L922.4,435.9 L922.6,445.2 L922.4,454.8 L921.7,464.5 L920.6,474.5 L919.1,484.5 L917.2,494.7 L914.9,504.9 L912.1,515.2 L909,525.5 L905.5,535.8 L901.6,546.1 L897.3,556.3 L892.7,566.4 L887.7,576.4 L882.4,586.3 L876.8,596 L870.9,605.4 L864.7,614.7 L858.2,623.7 L851.5,632.4 L844.6,640.8 L837.5,648.8 L830.1,656.6 L822.6,663.9 L815,670.9 L807.2,677.4 L799.3,683.5 L791.4,689.2 L783.3,694.4 L775.3,699.1 L767.2,703.4 L759.1,707.1 L751.1,710.3 L743.1,713 L735.2,715.2 L727.4,716.8 L719.7,717.9 L712.2,718.4 L704.8,718.4 L697.6,717.9 L690.6,716.8 L683.8,715.1 L677.2,713 L670.9,710.3 L664.9,707.1 L659.2,703.3 L653.8,699.1 L648.7,694.4" fill="none" stroke="#1e1e1e" stroke-width="1.25" />
<path d="M865.7,350.9 L872,352.7 L878.1,355 L884,357.8 L889.6,361.1 L894.9,364.9 L899.9,369.2 L904.6,373.9 L908.9,379 L912.9,384.6 L916.6,390.7 L919.8,397.1 L922.7,403.9 L925.3,411 L927.4,418.5 L929.2,426.3 L930.5,434.5 L931.5,442.9 L932,451.5 L932.1,460.4 L931.9,469.5 L931.2,478.8 L930.1,488.2 L928.6,497.7 L926.7,507.4 L924.4,517.1 L921.8,526.9 L918.7,536.6 L915.3,546.4 L911.5,556.2 L907.4,565.9 L902.9,575.4 L898.2,584.9 L893.1,594.2 L887.7,603.4 L882,612.4 L876,621.1 L869.8,629.6 L863.4,637.8 L856.7,645.8 L849.9,653.4 L842.9,660.7 L835.7,667.6 L828.4,674.2 L820.9,680.4 L813.4,686.1 L805.8,691.5 L798.1,696.3 L790.4,700.8 L782.7,704.7 L775,708.2 L767.3,711.2 L759.7,713.7 L752.2,715.7 L744.7,717.2 L737.4,718.2 L730.2,718.7 L723.2,718.6 L716.3,718 L709.7,716.9 L703.2,715.3 L697,713.2 L691,710.6 L685.3,707.5 L679.9,703.9 L674.8,699.9 L670,695.3" fill="none" stroke="#1e1e1e" stroke-width="1.0" stroke-dasharray="30 6"/>
<path d="M901,372.6 L907.3,374.5 L913.4,376.9 L919.2,379.8 L924.8,383.2 L930,387 L935,391.4 L939.6,396.2 L943.9,401.4 L947.8,407 L951.4,413.1 L954.6,419.6 L957.5,426.4 L959.9,433.6 L962,441.1 L963.6,449 L964.9,457.1 L965.7,465.5 L966.1,474.2 L966.1,483.1 L965.8,492.2 L965,501.4 L963.7,510.8 L962.1,520.4 L960.1,530 L957.7,539.7 L954.9,549.4 L951.8,559.1 L948.2,568.8 L944.3,578.5 L940.1,588.1 L935.5,597.7 L930.5,607.1 L925.3,616.3 L919.8,625.4 L914,634.3 L907.9,642.9 L901.6,651.3 L895.1,659.4 L888.3,667.3 L881.3,674.8 L874.2,682 L866.9,688.8 L859.5,695.3 L852,701.3 L844.4,706.9 L836.7,712.2 L828.9,716.9 L821.2,721.2 L813.4,725.1 L805.7,728.5 L797.9,731.4 L790.3,733.7 L782.7,735.6 L775.2,737 L767.9,737.9 L760.7,738.2 L753.6,738 L746.8,737.4 L740.1,736.2 L733.7,734.5 L727.5,732.3 L721.6,729.6 L715.9,726.4 L710.5,722.7 L705.4,718.6 L700.7,713.9" fill="none" stroke="#1e1e1e" stroke-width="1.25" />
<path d="M907.2,373.8 L913.6,375.7 L919.8,378.1 L925.7,381.1 L931.3,384.5 L936.6,388.5 L941.6,392.9 L946.2,397.7 L950.6,403 L954.5,408.7 L958.2,414.9 L961.4,421.4 L964.2,428.3 L966.7,435.6 L968.8,443.3 L970.4,451.2 L971.7,459.4 L972.5,467.9 L972.9,476.7 L972.9,485.7 L972.5,494.9 L971.7,504.2 L970.4,513.7 L968.8,523.4 L966.7,533.1 L964.3,542.9 L961.4,552.7 L958.2,562.6 L954.6,572.4 L950.6,582.2 L946.3,591.9 L941.7,601.5 L936.7,611 L931.4,620.3 L925.8,629.5 L919.9,638.5 L913.7,647.2 L907.3,655.7 L900.7,663.9 L893.8,671.8 L886.8,679.4 L879.5,686.6 L872.2,693.5 L864.7,700 L857,706.1 L849.3,711.8 L841.5,717.1 L833.7,721.9 L825.8,726.2 L818,730.1 L810.1,733.5 L802.3,736.4 L794.5,738.8 L786.9,740.7 L779.3,742.1 L771.9,742.9 L764.6,743.2 L757.5,743.1 L750.5,742.4 L743.8,741.1 L737.3,739.4 L731,737.2 L725,734.4 L719.3,731.2 L713.9,727.4 L708.7,723.2 L703.9,718.6" fill="none" stroke="#1e1e1e" stroke-width="1.25" />
<path d="M913.9,373.9 L920.4,375.9 L926.7,378.4 L932.7,381.4 L938.4,384.9 L943.8,388.9 L948.8,393.4 L953.6,398.4 L958,403.8 L962,409.6 L965.7,415.9 L968.9,422.5 L971.8,429.6 L974.3,437 L976.4,444.7 L978.1,452.8 L979.3,461.2 L980.1,469.8 L980.6,478.8 L980.5,487.9 L980.1,497.2 L979.2,506.7 L978,516.4 L976.3,526.2 L974.2,536.1 L971.7,546 L968.7,556 L965.4,566 L961.8,576 L957.7,585.9 L953.3,595.8 L948.5,605.6 L943.4,615.2 L938,624.7 L932.3,634 L926.3,643.1 L920,652 L913.5,660.6 L906.7,668.9 L899.7,677 L892.5,684.7 L885.2,692 L877.7,699 L870,705.6 L862.2,711.8 L854.4,717.6 L846.4,722.9 L838.5,727.8 L830.5,732.2 L822.4,736.1 L814.5,739.5 L806.5,742.4 L798.6,744.9 L790.8,746.8 L783.1,748.1 L775.5,749 L768.1,749.3 L760.9,749.1 L753.8,748.4 L747,747.1 L740.4,745.4 L734,743.1 L727.9,740.3 L722.1,736.9 L716.6,733.1 L711.4,728.8 L706.5,724.1" fill="none" stroke="#1e1e1e" stroke-width="1.25" />
<path d="M918.4,374 L925,376 L931.3,378.6 L937.4,381.6 L943.1,385.2 L948.6,389.3 L953.7,393.8 L958.5,398.8 L962.9,404.3 L967,410.2 L970.7,416.5 L974,423.2 L976.9,430.4 L979.4,437.9 L981.5,445.7 L983.2,453.9 L984.4,462.4 L985.3,471.1 L985.7,480.1 L985.6,489.4 L985.2,498.8 L984.3,508.4 L983,518.2 L981.3,528.1 L979.1,538.1 L976.6,548.1 L973.6,558.2 L970.3,568.3 L966.5,578.4 L962.4,588.5 L957.9,598.4 L953.1,608.3 L947.9,618.1 L942.5,627.6 L936.7,637 L930.6,646.2 L924.2,655.2 L917.6,663.9 L910.7,672.3 L903.7,680.4 L896.4,688.2 L888.9,695.6 L881.3,702.7 L873.6,709.3 L865.7,715.6 L857.7,721.4 L849.7,726.8 L841.6,731.7 L833.5,736.1 L825.4,740.1 L817.3,743.5 L809.3,746.5 L801.3,748.9 L793.4,750.8 L785.6,752.2 L778,753.1 L770.5,753.4 L763.2,753.2 L756,752.4 L749.1,751.1 L742.4,749.3 L736,747 L729.8,744.1 L723.9,740.8 L718.4,736.9 L713.1,732.6 L708.2,727.8" fill="none" stroke="#1e1e1e" stroke-width="1.25" />
<path d="M922.9,374.1 L929.5,376.2 L935.9,378.8 L942,381.9 L947.9,385.5 L953.4,389.6 L958.5,394.2 L963.4,399.2 L967.9,404.8 L972,410.8 L975.7,417.2 L979,424 L982,431.2 L984.5,438.8 L986.6,446.7 L988.3,455 L989.5,463.5 L990.4,472.4 L990.8,481.5 L990.7,490.8 L990.2,500.4 L989.3,510.1 L988,520 L986.3,530 L984.1,540.1 L981.5,550.3 L978.5,560.5 L975.1,570.7 L971.3,580.9 L967.1,591 L962.6,601.1 L957.7,611.1 L952.4,620.9 L946.9,630.6 L941,640.1 L934.8,649.4 L928.4,658.4 L921.7,667.2 L914.8,675.7 L907.6,683.9 L900.2,691.7 L892.7,699.2 L885,706.3 L877.1,713.1 L869.2,719.4 L861.1,725.2 L853,730.6 L844.8,735.6 L836.6,740.1 L828.4,744.1 L820.2,747.5 L812.1,750.5 L804,753 L796,754.9 L788.2,756.3 L780.4,757.1 L772.8,757.4 L765.4,757.2 L758.2,756.4 L751.2,755.1 L744.5,753.3 L738,750.9 L731.7,748 L725.8,744.6 L720.2,740.7 L714.8,736.3 L709.9,731.4" fill="none" stroke="#1e1e1e" stroke-width="1.25" />
<path d="M927.4,374.2 L934.1,376.3 L940.5,378.9 L946.7,382.1 L952.6,385.7 L958.2,389.9 L963.4,394.6 L968.3,399.7 L972.8,405.3 L976.9,411.3 L980.7,417.8 L984.1,424.7 L987,432 L989.6,439.7 L991.7,447.7 L993.4,456.1 L994.6,464.7 L995.5,473.7 L995.9,482.9 L995.8,492.3 L995.3,502 L994.4,511.8 L993,521.8 L991.2,531.9 L989,542.1 L986.4,552.4 L983.3,562.7 L979.9,573 L976,583.3 L971.8,593.6 L967.2,603.7 L962.3,613.8 L956.9,623.7 L951.3,633.5 L945.4,643.1 L939.1,652.5 L932.6,661.6 L925.8,670.5 L918.8,679.1 L911.5,687.3 L904.1,695.3 L896.4,702.8 L888.6,710 L880.7,716.8 L872.6,723.1 L864.5,729.1 L856.3,734.5 L848,739.5 L839.7,744 L831.4,748 L823.1,751.5 L814.9,754.5 L806.7,757 L798.7,758.9 L790.7,760.3 L782.9,761.2 L775.2,761.5 L767.7,761.2 L760.4,760.4 L753.3,759.1 L746.5,757.2 L739.9,754.8 L733.6,751.9 L727.6,748.4 L722,744.5 L716.6,740 L711.6,735.1" fill="none" stroke="#1e1e1e" stroke-width="1.25" />
<ellipse cx="0" cy="0" rx="1" ry="1" transform="matrix(4.9 4.8 7.4 4.5 918.7 381.5)" fill="#fff" stroke="#222" stroke-width="2.2" vector-effect="non-scaling-stroke"/>
<ellipse cx="0.18" cy="0.18" rx="0.42" ry="0.42" transform="matrix(4.9 4.8 7.4 4.5 918.7 381.5)" fill="none" stroke="#222" stroke-width="1.2" vector-effect="non-scaling-stroke"/>
<ellipse cx="0" cy="0" rx="1" ry="1" transform="matrix(3.7 6.3 7.4 4.5 932.5 399.2)" fill="#fff" stroke="#222" stroke-width="2.2" vector-effect="non-scaling-stroke"/>
<path d="M-0.8,0.1 L0.7,0.25 M0,-0.75 L0.1,0.7" transform="matrix(3.7 6.3 7.4 4.5 932.5 399.2)" fill="none" stroke="#222" stroke-width="1.0" vector-effect="non-scaling-stroke"/>
<ellipse cx="0" cy="0" rx="1" ry="1" transform="matrix(2.4 7.6 7.4 4.5 942.3 421.4)" fill="#fff" stroke="#222" stroke-width="2.2" vector-effect="non-scaling-stroke"/>
<ellipse cx="0.18" cy="0.18" rx="0.42" ry="0.42" transform="matrix(2.4 7.6 7.4 4.5 942.3 421.4)" fill="none" stroke="#222" stroke-width="1.2" vector-effect="non-scaling-stroke"/>
<ellipse cx="0" cy="0" rx="1" ry="1" transform="matrix(1 8.6 7.4 4.5 947.9 447.2)" fill="#fff" stroke="#222" stroke-width="2.2" vector-effect="non-scaling-stroke"/>
<path d="M-0.8,0.1 L0.7,0.25 M0,-0.75 L0.1,0.7" transform="matrix(1 8.6 7.4 4.5 947.9 447.2)" fill="none" stroke="#222" stroke-width="1.0" vector-effect="non-scaling-stroke"/>
<ellipse cx="0" cy="0" rx="1" ry="1" transform="matrix(-0.4 9.4 7.4 4.5 949 476)" fill="#fff" stroke="#222" stroke-width="2.2" vector-effect="non-scaling-stroke"/>
<ellipse cx="0.18" cy="0.18" rx="0.42" ry="0.42" transform="matrix(-0.4 9.4 7.4 4.5 949 476)" fill="none" stroke="#222" stroke-width="1.2" vector-effect="non-scaling-stroke"/>
<ellipse cx="0" cy="0" rx="1" ry="1" transform="matrix(-1.8 9.9 7.4 4.5 945.8 506.8)" fill="#fff" stroke="#222" stroke-width="2.2" vector-effect="non-scaling-stroke"/>
<path d="M-0.8,0.1 L0.7,0.25 M0,-0.75 L0.1,0.7" transform="matrix(-1.8 9.9 7.4 4.5 945.8 506.8)" fill="none" stroke="#222" stroke-width="1.0" vector-effect="non-scaling-stroke"/>
<ellipse cx="0" cy="0" rx="1" ry="1" transform="matrix(-3.1 10.1 7.4 4.5 938.1 538.8)" fill="#fff" stroke="#222" stroke-width="2.2" vector-effect="non-scaling-stroke"/>
<ellipse cx="0.18" cy="0.18" rx="0.42" ry="0.42" transform="matrix(-3.1 10.1 7.4 4.5 938.1 538.8)" fill="none" stroke="#222" stroke-width="1.2" vector-effect="non-scaling-stroke"/>
<ellipse cx="0" cy="0" rx="1" ry="1" transform="matrix(-4.3 10 7.4 4.5 926.4 570.9)" fill="#fff" stroke="#222" stroke-width="2.2" vector-effect="non-scaling-stroke"/>
<path d="M-0.8,0.1 L0.7,0.25 M0,-0.75 L0.1,0.7" transform="matrix(-4.3 10 7.4 4.5 926.4 570.9)" fill="none" stroke="#222" stroke-width="1.0" vector-effect="non-scaling-stroke"/>
<ellipse cx="0" cy="0" rx="1" ry="1" transform="matrix(-5.4 9.6 7.4 4.5 910.9 602.2)" fill="#fff" stroke="#222" stroke-width="2.2" vector-effect="non-scaling-stroke"/>
<ellipse cx="0.18" cy="0.18" rx="0.42" ry="0.42" transform="matrix(-5.4 9.6 7.4 4.5 910.9 602.2)" fill="none" stroke="#222" stroke-width="1.2" vector-effect="non-scaling-stroke"/>
<ellipse cx="0" cy="0" rx="1" ry="1" transform="matrix(-6.4 8.9 7.4 4.5 892.2 631.8)" fill="#fff" stroke="#222" stroke-width="2.2" vector-effect="non-scaling-stroke"/>
<path d="M-0.8,0.1 L0.7,0.25 M0,-0.75 L0.1,0.7" transform="matrix(-6.4 8.9 7.4 4.5 892.2 631.8)" fill="none" stroke="#222" stroke-width="1.0" vector-effect="non-scaling-stroke"/>
<ellipse cx="0" cy="0" rx="1" ry="1" transform="matrix(-7.1 7.9 7.4 4.5 870.7 658.6)" fill="#fff" stroke="#222" stroke-width="2.2" vector-effect="non-scaling-stroke"/>
<ellipse cx="0.18" cy="0.18" rx="0.42" ry="0.42" transform="matrix(-7.1 7.9 7.4 4.5 870.7 658.6)" fill="none" stroke="#222" stroke-width="1.2" vector-effect="non-scaling-stroke"/>
<ellipse cx="0" cy="0" rx="1" ry="1" transform="matrix(-7.6 6.7 7.4 4.5 847.1 682)" fill="#fff" stroke="#222" stroke-width="2.2" vector-effect="non-scaling-stroke"/>
<path d="M-0.8,0.1 L0.7,0.25 M0,-0.75 L0.1,0.7" transform="matrix(-7.6 6.7 7.4 4.5 847.1 682)" fill="none" stroke="#222" stroke-width="1.0" vector-effect="non-scaling-stroke"/>
<ellipse cx="0" cy="0" rx="1" ry="1" transform="matrix(-7.9 5.3 7.4 4.5 822.2 701.1)" fill="#fff" stroke="#222" stroke-width="2.2" vector-effect="non-scaling-stroke"/>
<ellipse cx="0.18" cy="0.18" rx="0.42" ry="0.42" transform="matrix(-7.9 5.3 7.4 4.5 822.2 701.1)" fill="none" stroke="#222" stroke-width="1.2" vector-effect="non-scaling-stroke"/>
<ellipse cx="0" cy="0" rx="1" ry="1" transform="matrix(-8 3.7 7.4 4.5 796.7 715.5)" fill="#fff" stroke="#222" stroke-width="2.2" vector-effect="non-scaling-stroke"/>
<path d="M-0.8,0.1 L0.7,0.25 M0,-0.75 L0.1,0.7" transform="matrix(-8 3.7 7.4 4.5 796.7 715.5)" fill="none" stroke="#222" stroke-width="1.0" vector-effect="non-scaling-stroke"/>
<ellipse cx="0" cy="0" rx="1" ry="1" transform="matrix(-7.8 2 7.4 4.5 771.4 724.7)" fill="#fff" stroke="#222" stroke-width="2.2" vector-effect="non-scaling-stroke"/>
<ellipse cx="0.18" cy="0.18" rx="0.42" ry="0.42" transform="matrix(-7.8 2 7.4 4.5 771.4 724.7)" fill="none" stroke="#222" stroke-width="1.2" vector-effect="non-scaling-stroke"/>
<ellipse cx="0" cy="0" rx="1" ry="1" transform="matrix(-7.4 0.2 7.4 4.5 747.1 728.4)" fill="#fff" stroke="#222" stroke-width="2.2" vector-effect="non-scaling-stroke"/>
<path d="M-0.8,0.1 L0.7,0.25 M0,-0.75 L0.1,0.7" transform="matrix(-7.4 0.2 7.4 4.5 747.1 728.4)" fill="none" stroke="#222" stroke-width="1.0" vector-effect="non-scaling-stroke"/>
<ellipse cx="0" cy="0" rx="1" ry="1" transform="matrix(-6.7 -1.5 7.4 4.5 724.4 726.5)" fill="#fff" stroke="#222" stroke-width="2.2" vector-effect="non-scaling-stroke"/>
<ellipse cx="0.18" cy="0.18" rx="0.42" ry="0.42" transform="matrix(-6.7 -1.5 7.4 4.5 724.4 726.5)" fill="none" stroke="#222" stroke-width="1.2" vector-effect="non-scaling-stroke"/>
<ellipse cx="0" cy="0" rx="1" ry="1" transform="matrix(-5.9 -3.2 7.4 4.5 704.2 719)" fill="#fff" stroke="#222" stroke-width="2.2" vector-effect="non-scaling-stroke"/>
<path d="M-0.8,0.1 L0.7,0.25 M0,-0.75 L0.1,0.7" transform="matrix(-5.9 -3.2 7.4 4.5 704.2 719)" fill="none" stroke="#222" stroke-width="1.0" vector-effect="non-scaling-stroke"/>
</g>
<path d="M962.1,372.7 L968.3,376.7 L974.1,381.3 L979.5,386.4 L984.6,392.1 L989.3,398.2 L993.6,404.7 L997.5,411.7 L1001,419.2 L1004,427 L1006.6,435.3 L1008.8,443.9 L1010.5,452.9 L1011.7,462.2 L1012.5,471.7 L1012.8,481.6 L1012.7,491.7 L1012.1,502 L1011,512.4 L1009.5,523.1 L1007.5,533.8 L1005.1,544.7 L1002.2,555.6 L998.9,566.6 L995.2,577.6 L991.1,588.5 L986.5,599.4 L981.6,610.3 L976.3,621 L970.6,631.5 L964.6,641.9 L958.2,652.1 L951.6,662.1 L944.6,671.8 L937.4,681.2 L929.9,690.4 L922.2,699.2 L914.2,707.6 L906.1,715.7 L897.8,723.3 L889.3,730.6 L880.7,737.4 L872.1,743.7 L863.3,749.6 L854.5,754.9 L845.7,759.8 L836.8,764.1 L828,767.9 L819.2,771.2 L810.5,773.9 L801.9,776 L793.4,777.6 L785,778.6 L776.8,779 L768.8,778.9 L761,778.2 L753.4,776.9 L746,775 L739,772.6 L732.2,769.6 L725.7,766.1 L719.5,762.1 L713.7,757.5 L708.3,752.4 L703.2,746.7 L698.5,740.6 L694.2,734.1 L690.3,727.1 L686.8,719.6 L683.8,711.8 L681.2,703.5 L679,694.9 L677.3,685.9 L676.1,676.6 L675.3,667.1 L675,657.2 L675.1,647.1 L675.7,636.8 L676.8,626.4 L678.3,615.7 L680.3,605 L682.7,594.1 L685.6,583.2 L688.9,572.2 L692.6,561.2 L696.7,550.3 L701.3,539.4 L706.2,528.5 L711.5,517.8 L717.2,507.3 L723.2,496.9 L729.6,486.7 L736.2,476.7 L743.2,467 L750.4,457.6 L757.9,448.4 L765.6,439.6 L773.6,431.2 L781.7,423.1 L790,415.5 L798.5,408.2 L807.1,401.4 L815.7,395.1 L824.5,389.2 L833.3,383.9 L842.1,379 L851,374.7 L859.8,370.9 L868.6,367.6 L877.3,364.9 L885.9,362.8 L894.4,361.2 L902.8,360.2 L911,359.8 L919,359.9 L926.8,360.6 L934.4,361.9 L941.8,363.8 L948.8,366.2 L955.6,369.2 L962.1,372.7" fill="none" stroke="#1e1e1e" stroke-width="2.4" />
<path d="M960.3,375.6 L966.4,379.6 L972.1,384.2 L977.5,389.2 L982.5,394.7 L987.1,400.7 L991.4,407.2 L995.2,414.1 L998.6,421.4 L1001.6,429.2 L1004.2,437.3 L1006.3,445.8 L1008,454.6 L1009.2,463.8 L1010,473.2 L1010.3,482.9 L1010.1,492.8 L1009.6,503 L1008.5,513.3 L1007,523.8 L1005.1,534.4 L1002.7,545.1 L999.9,555.8 L996.6,566.6 L992.9,577.5 L988.9,588.2 L984.4,599 L979.5,609.6 L974.3,620.2 L968.7,630.6 L962.8,640.8 L956.5,650.9 L950,660.7 L943.1,670.3 L936,679.6 L928.6,688.5 L921,697.2 L913.2,705.5 L905.1,713.5 L897,721 L888.6,728.1 L880.2,734.8 L871.6,741.1 L863,746.9 L854.3,752.1 L845.6,756.9 L836.9,761.2 L828.2,764.9 L819.6,768.1 L811,770.8 L802.5,772.9 L794.1,774.5 L785.9,775.5 L777.8,775.9 L769.9,775.8 L762.2,775.1 L754.7,773.8 L747.5,772 L740.5,769.6 L733.9,766.6 L727.5,763.2 L721.4,759.2 L715.7,754.6 L710.3,749.6 L705.3,744.1 L700.7,738.1 L696.4,731.6 L692.6,724.7 L689.2,717.4 L686.2,709.6 L683.6,701.5 L681.5,693 L679.8,684.2 L678.6,675 L677.8,665.6 L677.5,655.9 L677.7,646 L678.2,635.8 L679.3,625.5 L680.8,615 L682.7,604.4 L685.1,593.7 L687.9,583 L691.2,572.2 L694.9,561.3 L698.9,550.6 L703.4,539.8 L708.3,529.2 L713.5,518.6 L719.1,508.2 L725,498 L731.3,487.9 L737.8,478.1 L744.7,468.5 L751.8,459.2 L759.2,450.3 L766.8,441.6 L774.6,433.3 L782.7,425.3 L790.8,417.8 L799.2,410.7 L807.6,404 L816.2,397.7 L824.8,391.9 L833.5,386.7 L842.2,381.9 L850.9,377.6 L859.6,373.9 L868.2,370.7 L876.8,368 L885.3,365.9 L893.7,364.3 L901.9,363.3 L910,362.9 L917.9,363 L925.6,363.7 L933.1,365 L940.3,366.8 L947.3,369.2 L953.9,372.2 L960.3,375.6" fill="none" stroke="#1e1e1e" stroke-width="1.2" />
<path d="M956.8,381.5 L962.7,385.4 L968.2,389.8 L973.4,394.7 L978.3,400 L982.8,405.9 L986.9,412.1 L990.6,418.8 L993.9,425.9 L996.8,433.4 L999.3,441.3 L1001.3,449.6 L1003,458.1 L1004.2,467 L1004.9,476.1 L1005.2,485.5 L1005.1,495.2 L1004.5,505 L1003.5,515 L1002,525.2 L1000.2,535.4 L997.8,545.8 L995.1,556.3 L992,566.7 L988.4,577.2 L984.4,587.7 L980.1,598.1 L975.4,608.4 L970.3,618.6 L964.9,628.7 L959.2,638.7 L953.1,648.4 L946.7,657.9 L940.1,667.2 L933.2,676.2 L926,684.9 L918.6,693.3 L911,701.4 L903.3,709.1 L895.3,716.4 L887.3,723.3 L879.1,729.8 L870.8,735.9 L862.4,741.4 L854,746.6 L845.6,751.2 L837.1,755.4 L828.7,759 L820.3,762.1 L812,764.7 L803.8,766.7 L795.6,768.2 L787.7,769.2 L779.8,769.6 L772.2,769.5 L764.7,768.8 L757.4,767.6 L750.4,765.8 L743.7,763.5 L737.2,760.6 L731,757.3 L725.1,753.4 L719.6,749 L714.4,744.1 L709.5,738.8 L705,732.9 L700.9,726.7 L697.2,720 L693.9,712.9 L691,705.4 L688.5,697.5 L686.5,689.2 L684.8,680.7 L683.6,671.8 L682.9,662.7 L682.6,653.3 L682.7,643.6 L683.3,633.8 L684.3,623.8 L685.8,613.6 L687.6,603.4 L690,593 L692.7,582.5 L695.8,572.1 L699.4,561.6 L703.4,551.1 L707.7,540.7 L712.4,530.4 L717.5,520.2 L722.9,510.1 L728.6,500.1 L734.7,490.4 L741.1,480.9 L747.7,471.6 L754.6,462.6 L761.8,453.9 L769.2,445.5 L776.8,437.4 L784.5,429.7 L792.5,422.4 L800.5,415.5 L808.7,409 L817,402.9 L825.4,397.4 L833.8,392.2 L842.2,387.6 L850.7,383.4 L859.1,379.8 L867.5,376.7 L875.8,374.1 L884,372.1 L892.2,370.6 L900.1,369.6 L908,369.2 L915.6,369.3 L923.1,370 L930.4,371.2 L937.4,373 L944.1,375.3 L950.6,378.2 L956.8,381.5" fill="none" stroke="#1e1e1e" stroke-width="1.8" />
<path d="M955,384.5 L960.8,388.3 L966.3,392.6 L971.4,397.4 L976.2,402.7 L980.6,408.4 L984.6,414.6 L988.3,421.2 L991.5,428.2 L994.4,435.6 L996.8,443.3 L998.9,451.4 L1000.5,459.9 L1001.6,468.6 L1002.4,477.6 L1002.7,486.8 L1002.6,496.3 L1002,506 L1001,515.9 L999.6,525.9 L997.7,536 L995.4,546.2 L992.7,556.5 L989.6,566.8 L986.1,577.1 L982.2,587.4 L978,597.6 L973.3,607.8 L968.3,617.9 L963,627.8 L957.3,637.6 L951.4,647.2 L945.1,656.5 L938.6,665.7 L931.8,674.5 L924.7,683.1 L917.5,691.4 L910,699.3 L902.3,706.9 L894.5,714.1 L886.6,720.9 L878.5,727.3 L870.4,733.2 L862.1,738.7 L853.9,743.8 L845.6,748.4 L837.2,752.4 L828.9,756 L820.7,759.1 L812.5,761.6 L804.4,763.6 L796.4,765.1 L788.5,766.1 L780.8,766.5 L773.3,766.3 L765.9,765.7 L758.8,764.4 L751.9,762.7 L745.3,760.4 L738.9,757.6 L732.8,754.3 L727,750.5 L721.5,746.2 L716.4,741.4 L711.6,736.1 L707.2,730.4 L703.2,724.2 L699.5,717.6 L696.3,710.6 L693.4,703.2 L691,695.5 L688.9,687.4 L687.3,678.9 L686.2,670.2 L685.4,661.2 L685.1,652 L685.2,642.5 L685.8,632.8 L686.8,622.9 L688.2,612.9 L690.1,602.8 L692.4,592.6 L695.1,582.3 L698.2,572 L701.7,561.7 L705.6,551.4 L709.8,541.2 L714.5,531 L719.5,520.9 L724.8,511 L730.5,501.2 L736.4,491.6 L742.7,482.3 L749.2,473.1 L756,464.3 L763.1,455.7 L770.3,447.4 L777.8,439.5 L785.5,431.9 L793.3,424.7 L801.2,417.9 L809.3,411.5 L817.4,405.6 L825.7,400.1 L833.9,395 L842.2,390.4 L850.6,386.4 L858.9,382.8 L867.1,379.7 L875.3,377.2 L883.4,375.2 L891.4,373.7 L899.3,372.7 L907,372.3 L914.5,372.5 L921.9,373.1 L929,374.4 L935.9,376.1 L942.5,378.4 L948.9,381.2 L955,384.5" fill="none" stroke="#1e1e1e" stroke-width="1.0" />
<line x1="221.9" y1="235.6" x2="292" y2="275.5" stroke="#222" stroke-width="1.4" stroke-dasharray="16 4 3 4"/>
<ellipse cx="357.7" cy="312" rx="110.5" ry="68.8" transform="rotate(-56.3 357.7 312)" fill="#fff" stroke="#333" stroke-width="1.3" />
<ellipse cx="357.7" cy="312" rx="108.8" ry="67.8" transform="rotate(-56.3 357.7 312)" fill="none" stroke="#666" stroke-width="1.0" />
<path d="M318.2,412.2 L314.3,411.9 L310.5,411.2 L306.8,410.3 L303.3,409.1 L299.9,407.6 L296.7,405.9 L293.7,403.9 L290.8,401.6 L288.1,399.1 L285.6,396.4 L283.3,393.4 L281.2,390.2 L279.3,386.8 L277.7,383.1 L276.2,379.3 L275,375.3 L274,371.1 L273.2,366.7 L272.7,362.2 L272.4,357.6 L272.3,352.8 L272.5,347.9 L272.9,342.9 L273.6,337.9 L274.4,332.7 L275.5,327.5 L276.9,322.3 L278.4,317.1 L280.2,311.8 L282.2,306.5 L284.4,301.3 L286.8,296 L289.3,290.9 L292.1,285.8 L295.1,280.7 L298.2,275.8 L301.5,270.9 L304.9,266.2 L308.5,261.6 L312.2,257.2 L316.1,252.9 L320,248.7 L324.1,244.8 L328.3,241 L332.5,237.5 L336.8,234.2 L341.1,231 L345.5,228.1 L349.9,225.5 L354.4,223.1 L358.8,220.9 L363.3,219 L367.7,217.4 L372.1,216 L376.4,214.9 L380.7,214.1" fill="none" stroke="#444" stroke-width="2.4" />
<ellipse cx="414.9" cy="232.1" rx="5.2" ry="3.6" transform="rotate(-50 414.9 232.1)" fill="#3a3a3a" stroke="#222" stroke-width="0.8" />
<ellipse cx="416.1" cy="231.5" rx="2.2" ry="1.3" transform="rotate(-50 416.1 231.5)" fill="#9a9a9a" stroke="none" stroke-width="0" />
<ellipse cx="427.8" cy="250" rx="5.2" ry="3.6" transform="rotate(-50 427.8 250)" fill="#3a3a3a" stroke="#222" stroke-width="0.8" />
<ellipse cx="429" cy="249.4" rx="2.2" ry="1.3" transform="rotate(-50 429 249.4)" fill="#9a9a9a" stroke="none" stroke-width="0" />
<ellipse cx="432.3" cy="275.3" rx="5.2" ry="3.6" transform="rotate(-50 432.3 275.3)" fill="#3a3a3a" stroke="#222" stroke-width="0.8" />
<ellipse cx="433.5" cy="274.7" rx="2.2" ry="1.3" transform="rotate(-50 433.5 274.7)" fill="#9a9a9a" stroke="none" stroke-width="0" />
<ellipse cx="427.9" cy="305.1" rx="5.2" ry="3.6" transform="rotate(-50 427.9 305.1)" fill="#3a3a3a" stroke="#222" stroke-width="0.8" />
<ellipse cx="429.1" cy="304.5" rx="2.2" ry="1.3" transform="rotate(-50 429.1 304.5)" fill="#9a9a9a" stroke="none" stroke-width="0" />
<ellipse cx="414.9" cy="335.7" rx="5.2" ry="3.6" transform="rotate(-50 414.9 335.7)" fill="#3a3a3a" stroke="#222" stroke-width="0.8" />
<ellipse cx="416.1" cy="335.1" rx="2.2" ry="1.3" transform="rotate(-50 416.1 335.1)" fill="#9a9a9a" stroke="none" stroke-width="0" />
<ellipse cx="395.1" cy="363.5" rx="5.2" ry="3.6" transform="rotate(-50 395.1 363.5)" fill="#3a3a3a" stroke="#222" stroke-width="0.8" />
<ellipse cx="396.3" cy="362.9" rx="2.2" ry="1.3" transform="rotate(-50 396.3 362.9)" fill="#9a9a9a" stroke="none" stroke-width="0" />
<ellipse cx="370.7" cy="385.1" rx="5.2" ry="3.6" transform="rotate(-50 370.7 385.1)" fill="#3a3a3a" stroke="#222" stroke-width="0.8" />
<ellipse cx="371.9" cy="384.5" rx="2.2" ry="1.3" transform="rotate(-50 371.9 384.5)" fill="#9a9a9a" stroke="none" stroke-width="0" />
<ellipse cx="344.8" cy="397.8" rx="5.2" ry="3.6" transform="rotate(-50 344.8 397.8)" fill="#3a3a3a" stroke="#222" stroke-width="0.8" />
<ellipse cx="346" cy="397.2" rx="2.2" ry="1.3" transform="rotate(-50 346 397.2)" fill="#9a9a9a" stroke="none" stroke-width="0" />
<ellipse cx="320.4" cy="400.2" rx="5.2" ry="3.6" transform="rotate(-50 320.4 400.2)" fill="#3a3a3a" stroke="#222" stroke-width="0.8" />
<ellipse cx="321.6" cy="399.6" rx="2.2" ry="1.3" transform="rotate(-50 321.6 399.6)" fill="#9a9a9a" stroke="none" stroke-width="0" />
<ellipse cx="300.5" cy="391.9" rx="5.2" ry="3.6" transform="rotate(-50 300.5 391.9)" fill="#3a3a3a" stroke="#222" stroke-width="0.8" />
<ellipse cx="301.7" cy="391.3" rx="2.2" ry="1.3" transform="rotate(-50 301.7 391.3)" fill="#9a9a9a" stroke="none" stroke-width="0" />
<ellipse cx="287.6" cy="374" rx="5.2" ry="3.6" transform="rotate(-50 287.6 374)" fill="#3a3a3a" stroke="#222" stroke-width="0.8" />
<ellipse cx="288.8" cy="373.4" rx="2.2" ry="1.3" transform="rotate(-50 288.8 373.4)" fill="#9a9a9a" stroke="none" stroke-width="0" />
<ellipse cx="283.1" cy="348.7" rx="5.2" ry="3.6" transform="rotate(-50 283.1 348.7)" fill="#3a3a3a" stroke="#222" stroke-width="0.8" />
<ellipse cx="284.3" cy="348.1" rx="2.2" ry="1.3" transform="rotate(-50 284.3 348.1)" fill="#9a9a9a" stroke="none" stroke-width="0" />
<ellipse cx="287.5" cy="318.9" rx="5.2" ry="3.6" transform="rotate(-50 287.5 318.9)" fill="#3a3a3a" stroke="#222" stroke-width="0.8" />
<ellipse cx="288.7" cy="318.3" rx="2.2" ry="1.3" transform="rotate(-50 288.7 318.3)" fill="#9a9a9a" stroke="none" stroke-width="0" />
<ellipse cx="300.5" cy="288.3" rx="5.2" ry="3.6" transform="rotate(-50 300.5 288.3)" fill="#3a3a3a" stroke="#222" stroke-width="0.8" />
<ellipse cx="301.7" cy="287.7" rx="2.2" ry="1.3" transform="rotate(-50 301.7 287.7)" fill="#9a9a9a" stroke="none" stroke-width="0" />
<ellipse cx="320.3" cy="260.5" rx="5.2" ry="3.6" transform="rotate(-50 320.3 260.5)" fill="#3a3a3a" stroke="#222" stroke-width="0.8" />
<ellipse cx="321.5" cy="259.9" rx="2.2" ry="1.3" transform="rotate(-50 321.5 259.9)" fill="#9a9a9a" stroke="none" stroke-width="0" />
<ellipse cx="344.7" cy="238.9" rx="5.2" ry="3.6" transform="rotate(-50 344.7 238.9)" fill="#3a3a3a" stroke="#222" stroke-width="0.8" />
<ellipse cx="345.9" cy="238.3" rx="2.2" ry="1.3" transform="rotate(-50 345.9 238.3)" fill="#9a9a9a" stroke="none" stroke-width="0" />
<ellipse cx="370.6" cy="226.2" rx="5.2" ry="3.6" transform="rotate(-50 370.6 226.2)" fill="#3a3a3a" stroke="#222" stroke-width="0.8" />
<ellipse cx="371.8" cy="225.6" rx="2.2" ry="1.3" transform="rotate(-50 371.8 225.6)" fill="#9a9a9a" stroke="none" stroke-width="0" />
<ellipse cx="395" cy="223.8" rx="5.2" ry="3.6" transform="rotate(-50 395 223.8)" fill="#3a3a3a" stroke="#222" stroke-width="0.8" />
<ellipse cx="396.2" cy="223.2" rx="2.2" ry="1.3" transform="rotate(-50 396.2 223.2)" fill="#9a9a9a" stroke="none" stroke-width="0" />
<ellipse cx="413.3" cy="250" rx="5.2" ry="3.6" transform="rotate(-50 413.3 250)" fill="#3a3a3a" stroke="#222" stroke-width="0.8" />
<ellipse cx="414.5" cy="249.4" rx="2.2" ry="1.3" transform="rotate(-50 414.5 249.4)" fill="#9a9a9a" stroke="none" stroke-width="0" />
<ellipse cx="420.9" cy="268.9" rx="5.2" ry="3.6" transform="rotate(-50 420.9 268.9)" fill="#3a3a3a" stroke="#222" stroke-width="0.8" />
<ellipse cx="422.1" cy="268.3" rx="2.2" ry="1.3" transform="rotate(-50 422.1 268.3)" fill="#9a9a9a" stroke="none" stroke-width="0" />
<ellipse cx="420.9" cy="293" rx="5.2" ry="3.6" transform="rotate(-50 420.9 293)" fill="#3a3a3a" stroke="#222" stroke-width="0.8" />
<ellipse cx="422.1" cy="292.4" rx="2.2" ry="1.3" transform="rotate(-50 422.1 292.4)" fill="#9a9a9a" stroke="none" stroke-width="0" />
<ellipse cx="413.3" cy="319.4" rx="5.2" ry="3.6" transform="rotate(-50 413.3 319.4)" fill="#3a3a3a" stroke="#222" stroke-width="0.8" />
<ellipse cx="414.5" cy="318.8" rx="2.2" ry="1.3" transform="rotate(-50 414.5 318.8)" fill="#9a9a9a" stroke="none" stroke-width="0" />
<ellipse cx="399" cy="344.8" rx="5.2" ry="3.6" transform="rotate(-50 399 344.8)" fill="#3a3a3a" stroke="#222" stroke-width="0.8" />
<ellipse cx="400.2" cy="344.2" rx="2.2" ry="1.3" transform="rotate(-50 400.2 344.2)" fill="#9a9a9a" stroke="none" stroke-width="0" />
<ellipse cx="379.7" cy="366.4" rx="5.2" ry="3.6" transform="rotate(-50 379.7 366.4)" fill="#3a3a3a" stroke="#222" stroke-width="0.8" />
<ellipse cx="380.9" cy="365.8" rx="2.2" ry="1.3" transform="rotate(-50 380.9 365.8)" fill="#9a9a9a" stroke="none" stroke-width="0" />
<ellipse cx="357.7" cy="381.3" rx="5.2" ry="3.6" transform="rotate(-50 357.7 381.3)" fill="#3a3a3a" stroke="#222" stroke-width="0.8" />
<ellipse cx="358.9" cy="380.7" rx="2.2" ry="1.3" transform="rotate(-50 358.9 380.7)" fill="#9a9a9a" stroke="none" stroke-width="0" />
<ellipse cx="335.8" cy="387.9" rx="5.2" ry="3.6" transform="rotate(-50 335.8 387.9)" fill="#3a3a3a" stroke="#222" stroke-width="0.8" />
<ellipse cx="337" cy="387.3" rx="2.2" ry="1.3" transform="rotate(-50 337 387.3)" fill="#9a9a9a" stroke="none" stroke-width="0" />
<ellipse cx="316.5" cy="385.4" rx="5.2" ry="3.6" transform="rotate(-50 316.5 385.4)" fill="#3a3a3a" stroke="#222" stroke-width="0.8" />
<ellipse cx="317.7" cy="384.8" rx="2.2" ry="1.3" transform="rotate(-50 317.7 384.8)" fill="#9a9a9a" stroke="none" stroke-width="0" />
<ellipse cx="302.1" cy="374" rx="5.2" ry="3.6" transform="rotate(-50 302.1 374)" fill="#3a3a3a" stroke="#222" stroke-width="0.8" />
<ellipse cx="303.3" cy="373.4" rx="2.2" ry="1.3" transform="rotate(-50 303.3 373.4)" fill="#9a9a9a" stroke="none" stroke-width="0" />
<ellipse cx="294.5" cy="355.1" rx="5.2" ry="3.6" transform="rotate(-50 294.5 355.1)" fill="#3a3a3a" stroke="#222" stroke-width="0.8" />
<ellipse cx="295.7" cy="354.5" rx="2.2" ry="1.3" transform="rotate(-50 295.7 354.5)" fill="#9a9a9a" stroke="none" stroke-width="0" />
<ellipse cx="294.5" cy="331" rx="5.2" ry="3.6" transform="rotate(-50 294.5 331)" fill="#3a3a3a" stroke="#222" stroke-width="0.8" />
<ellipse cx="295.7" cy="330.4" rx="2.2" ry="1.3" transform="rotate(-50 295.7 330.4)" fill="#9a9a9a" stroke="none" stroke-width="0" />
<ellipse cx="302.1" cy="304.6" rx="5.2" ry="3.6" transform="rotate(-50 302.1 304.6)" fill="#3a3a3a" stroke="#222" stroke-width="0.8" />
<ellipse cx="303.3" cy="304" rx="2.2" ry="1.3" transform="rotate(-50 303.3 304)" fill="#9a9a9a" stroke="none" stroke-width="0" />
<ellipse cx="316.4" cy="279.2" rx="5.2" ry="3.6" transform="rotate(-50 316.4 279.2)" fill="#3a3a3a" stroke="#222" stroke-width="0.8" />
<ellipse cx="317.6" cy="278.6" rx="2.2" ry="1.3" transform="rotate(-50 317.6 278.6)" fill="#9a9a9a" stroke="none" stroke-width="0" />
<ellipse cx="335.7" cy="257.6" rx="5.2" ry="3.6" transform="rotate(-50 335.7 257.6)" fill="#3a3a3a" stroke="#222" stroke-width="0.8" />
<ellipse cx="336.9" cy="257" rx="2.2" ry="1.3" transform="rotate(-50 336.9 257)" fill="#9a9a9a" stroke="none" stroke-width="0" />
<ellipse cx="357.7" cy="242.7" rx="5.2" ry="3.6" transform="rotate(-50 357.7 242.7)" fill="#3a3a3a" stroke="#222" stroke-width="0.8" />
<ellipse cx="358.9" cy="242.1" rx="2.2" ry="1.3" transform="rotate(-50 358.9 242.1)" fill="#9a9a9a" stroke="none" stroke-width="0" />
<ellipse cx="379.6" cy="236.1" rx="5.2" ry="3.6" transform="rotate(-50 379.6 236.1)" fill="#3a3a3a" stroke="#222" stroke-width="0.8" />
<ellipse cx="380.8" cy="235.5" rx="2.2" ry="1.3" transform="rotate(-50 380.8 235.5)" fill="#9a9a9a" stroke="none" stroke-width="0" />
<ellipse cx="398.9" cy="238.6" rx="5.2" ry="3.6" transform="rotate(-50 398.9 238.6)" fill="#3a3a3a" stroke="#222" stroke-width="0.8" />
<ellipse cx="400.1" cy="238" rx="2.2" ry="1.3" transform="rotate(-50 400.1 238)" fill="#9a9a9a" stroke="none" stroke-width="0" />
<path d="M390.8,262.4 L390.9,262.8 L391.1,263.1 L391.3,263.3 L391.5,263.6 L391.8,263.7 L392.1,263.8 L392.5,263.9 L392.9,264 L393.3,263.9 L393.7,263.9 L394.2,263.8 L394.7,263.7 L395.2,263.5 L395.8,263.4 L396.4,263.2 L397,263 L397.6,262.7 L398.2,262.5 L398.9,262.3 L399.5,262.1 L400.2,261.9 L400.8,261.7 L401.5,261.5 L402.1,261.3 L402.7,261.2 L403.3,261.1 L403.9,261.1 L404.4,261 L405,261 L405.4,261.1 L405.9,261.2 L406.3,261.4 L406.6,261.6 L406.8,262 L406.8,262.6 L406.7,263.2 L406.5,264 L406.4,264.7 L406.2,265.3 L406.2,266 L406.2,266.5 L406.3,266.9 L406.5,267.2 L406.9,267.5 L407.3,267.6 L407.8,267.7 L408.3,267.8 L408.8,267.9 L409.3,268 L409.7,268.2 L410,268.5 L410.2,268.8 L410.4,269.3 L410.5,269.7 L410.6,270.1 L410.8,270.6 L410.9,271 L411,271.5 L411.1,271.9 L411.2,272.4 L411.3,272.8 L411.4,273.3 L411.5,273.7 L411.6,274.2 L411.7,274.6 L411.8,275.1 L411.9,275.6 L412,276.1 L412,276.5 L412.1,277 L412.2,277.5 L412.2,278 L412.3,278.5 L412.3,279 L412.4,279.4 L412.4,279.9 L412.5,280.4 L412.5,280.9 L412.5,281.4 L412.6,281.9 L412.6,282.5 L412.6,283 L412.6,283.5 L412.6,284 L412.6,284.5 L412.5,285.1 L412.4,285.6 L412.2,286.2 L412,286.9 L411.8,287.5 L411.4,288.1 L411.1,288.8 L410.7,289.5 L410.3,290.1 L409.8,290.8 L409.3,291.5 L408.8,292.2 L408.3,292.9 L407.8,293.6 L407.2,294.2 L406.7,294.9 L406.2,295.6 L405.6,296.2 L405.1,296.8 L404.6,297.4 L404.1,298 L403.6,298.6 L403.2,299.2 L402.8,299.8 L402.4,300.3 L402.1,300.8 L401.8,301.3 L401.6,301.8 L401.3,302.3 L401.2,302.8 L401.1,303.3 L401,303.7 L400.9,304.2 L400.9,304.6 L401,305 L401.1,305.5 L401.2,305.9 L401.3,306.3 L401.5,306.8 L401.7,307.2 L402,307.7 L402.2,308.1 L402.5,308.6 L402.8,309 L403.1,309.5 L403.4,310 L403.7,310.5 L403.9,311 L404.2,311.5 L404.5,312.1 L404.7,312.6 L404.9,313.1 L405.1,313.7 L405.2,314.3 L405.4,314.8 L405.4,315.4 L405.5,316 L405.5,316.6 L405.4,317.1 L405.3,317.7 L405,318.3 L404.6,318.8 L404.1,319.3 L403.5,319.8 L402.9,320.3 L402.4,320.8 L401.9,321.3 L401.5,321.8 L401.2,322.3 L401,322.9 L400.9,323.4 L400.8,324 L400.8,324.7 L400.9,325.3 L400.9,325.9 L400.9,326.6 L400.8,327.2 L400.7,327.8 L400.4,328.4 L400.1,328.9 L399.8,329.5 L399.5,330 L399.2,330.6 L398.9,331.1 L398.5,331.7 L398.2,332.2 L397.9,332.7 L397.6,333.3 L397.2,333.8 L396.9,334.4 L396.6,334.9 L396.2,335.4 L395.9,335.9 L395.5,336.5 L395.2,337 L394.8,337.5 L394.5,338.1 L394.1,338.6 L393.8,339.1 L393.4,339.6 L393,340.1 L392.7,340.6 L392.3,341.1 L391.9,341.7 L391.5,342.2 L391.2,342.7 L390.8,343.2 L390.4,343.7 L390,344.2 L389.6,344.6 L389.2,345.1 L388.8,345.6 L388.4,346.1 L388,346.6 L387.6,347.1 L387.2,347.5 L386.8,348 L386.3,348.4 L385.8,348.7 L385.3,349 L384.8,349.3 L384.2,349.6 L383.6,349.8 L383.1,350 L382.5,350.1 L381.9,350.2 L381.3,350.3 L380.6,350.4 L380,350.5 L379.4,350.5 L378.8,350.5 L378.2,350.5 L377.6,350.5 L377,350.5 L376.5,350.5 L375.9,350.5 L375.4,350.5 L374.8,350.5 L374.3,350.6 L373.8,350.6 L373.4,350.7 L372.9,350.8 L372.5,351 L372,351.2 L371.6,351.4 L371.2,351.6 L370.8,351.9 L370.5,352.2 L370.1,352.6 L369.8,353 L369.4,353.5 L369.1,354 L368.8,354.5 L368.5,355.1 L368.2,355.7 L367.8,356.3 L367.5,357 L367.2,357.7 L366.9,358.4 L366.6,359.1 L366.2,359.9 L365.9,360.6 L365.5,361.4 L365.2,362.2 L364.8,363 L364.4,363.7 L364,364.5 L363.6,365.2 L363.2,365.9 L362.8,366.6 L362.4,367.3 L362,367.9 L361.5,368.4 L361,369 L360.6,369.5 L360.1,369.8 L359.6,370 L359.2,370 L358.7,369.9 L358.2,369.8 L357.7,369.6 L357.3,369.4 L356.8,369.3 L356.4,369.4 L355.9,369.5 L355.4,369.8 L355,370.2 L354.5,370.7 L354,371.3 L353.5,371.9 L353,372.5 L352.5,373.1 L352,373.6 L351.5,374 L351,374.2 L350.6,374.4 L350.1,374.5 L349.6,374.7 L349.1,374.8 L348.7,375 L348.2,375.1 L347.7,375.3 L347.2,375.4 L346.8,375.5 L346.3,375.7 L345.8,375.8 L345.4,375.9 L344.9,376 L344.4,376.1 L344,376.2 L343.5,376.3 L343,376.4 L342.6,376.5 L342.1,376.6 L341.7,376.6 L341.2,376.7 L340.8,376.8 L340.3,376.8 L339.8,376.9 L339.4,377 L338.9,377 L338.5,377 L338,377.1 L337.6,377.1 L337.1,377.1 L336.7,377.2 L336.3,377.2 L335.8,377.2 L335.4,377.2 L334.9,377.2 L334.5,377.2 L334.1,377.2 L333.7,377.1 L333.3,376.9 L333,376.7 L332.6,376.4 L332.3,376.1 L332.1,375.7 L331.8,375.3 L331.6,374.8 L331.4,374.3 L331.2,373.7 L331,373.1 L330.9,372.5 L330.8,371.9 L330.6,371.2 L330.5,370.6 L330.5,369.9 L330.4,369.3 L330.3,368.6 L330.2,368 L330.1,367.4 L330,366.8 L329.9,366.2 L329.8,365.7 L329.7,365.2 L329.6,364.8 L329.4,364.3 L329.2,364 L329,363.7 L328.8,363.4 L328.6,363.2 L328.3,363 L328,362.9 L327.6,362.9 L327.3,362.9 L326.9,362.9 L326.4,363 L326,363.1 L325.5,363.3 L324.9,363.5 L324.4,363.7 L323.8,364 L323.2,364.3 L322.6,364.6 L322,364.9 L321.4,365.2 L320.7,365.6 L320.1,365.9 L319.4,366.2 L318.7,366.5 L318.1,366.8 L317.4,367 L316.8,367.3 L316.2,367.5 L315.6,367.6 L315,367.7 L314.5,367.8 L314,367.8 L313.5,367.8 L313,367.8 L312.7,367.6 L312.5,367.2 L312.4,366.7 L312.4,366.1 L312.4,365.4 L312.5,364.7 L312.6,364.1 L312.6,363.5 L312.5,363 L312.3,362.6 L312,362.4 L311.7,362.2 L311.2,362.1 L310.7,362.1 L310.1,362.2 L309.5,362.2 L309,362.2 L308.6,362.1 L308.2,361.9 L307.9,361.5 L307.7,361.2 L307.5,360.8 L307.3,360.4 L307.1,360 L307,359.6 L306.8,359.3 L306.6,358.9 L306.4,358.5 L306.3,358.1 L306.1,357.7 L305.9,357.3 L305.8,356.8 L305.6,356.4 L305.5,356 L305.3,355.6 L305.2,355.2 L305,354.7 L304.9,354.3 L304.8,353.9 L304.6,353.4 L304.5,353 L304.4,352.5 L304.3,352.1 L304.2,351.6 L304.1,351.2 L304,350.7 L303.9,350.3 L303.8,349.8 L303.7,349.4 L303.6,348.9 L303.5,348.4 L303.4,347.9 L303.4,347.5 L303.3,347 L303.2,346.5 L303.2,346 L303.1,345.5 L303.1,345 L303,344.5 L303.1,344 L303.1,343.4 L303.3,342.8 L303.5,342.2 L303.7,341.6 L304,340.9 L304.3,340.3 L304.6,339.6 L305,338.9 L305.4,338.2 L305.9,337.5 L306.3,336.7 L306.8,336 L307.3,335.3 L307.8,334.6 L308.3,333.9 L308.8,333.2 L309.3,332.6 L309.8,331.9 L310.3,331.2 L310.8,330.6 L311.2,330 L311.6,329.4 L312,328.8 L312.3,328.3 L312.6,327.7 L312.9,327.2 L313.1,326.7 L313.3,326.2 L313.4,325.7 L313.5,325.3 L313.5,324.8 L313.6,324.4 L313.5,324 L313.4,323.6 L313.3,323.2 L313.1,322.8 L312.9,322.4 L312.7,322 L312.5,321.6 L312.2,321.2 L311.9,320.8 L311.6,320.4 L311.2,320 L310.9,319.5 L310.6,319.1 L310.2,318.7 L309.9,318.2 L309.6,317.7 L309.3,317.3 L309,316.8 L308.7,316.3 L308.5,315.8 L308.3,315.2 L308.1,314.7 L308,314.2 L307.9,313.6 L307.9,313.1 L307.8,312.5 L307.9,311.9 L308.2,311.4 L308.6,310.8 L309.1,310.3 L309.6,309.7 L310.2,309.2 L310.7,308.7 L311.2,308.1 L311.6,307.6 L311.8,307.1 L312,306.5 L312.1,306 L312.1,305.4 L312,304.8 L311.9,304.2 L311.8,303.6 L311.8,303 L311.8,302.3 L311.9,301.8 L312.1,301.2 L312.4,300.6 L312.7,300.1 L313,299.5 L313.2,298.9 L313.5,298.4 L313.8,297.8 L314.1,297.3 L314.4,296.7 L314.7,296.2 L315,295.6 L315.3,295.1 L315.6,294.5 L315.9,294 L316.2,293.4 L316.5,292.9 L316.9,292.3 L317.2,291.8 L317.5,291.3 L317.8,290.7 L318.2,290.2 L318.5,289.6 L318.8,289.1 L319.2,288.6 L319.5,288.1 L319.9,287.5 L320.2,287 L320.6,286.5 L320.9,285.9 L321.3,285.4 L321.6,284.9 L322,284.4 L322.4,283.9 L322.7,283.4 L323.1,282.9 L323.5,282.3 L323.9,281.8 L324.2,281.3 L324.6,280.8 L325,280.3 L325.4,279.8 L325.8,279.4 L326.2,278.9 L326.6,278.4 L327,277.9 L327.4,277.4 L327.8,276.9 L328.2,276.4 L328.6,276 L329,275.5 L329.4,275 L329.8,274.6 L330.2,274.1 L330.6,273.6 L331,273.2 L331.5,272.7 L331.9,272.3 L332.3,271.8 L332.8,271.4 L333.3,271.1 L333.8,270.8 L334.3,270.5 L334.8,270.3 L335.4,270.1 L335.9,269.9 L336.5,269.8 L337.1,269.7 L337.7,269.6 L338.3,269.6 L338.8,269.6 L339.4,269.6 L340,269.7 L340.6,269.7 L341.2,269.8 L341.7,269.8 L342.3,269.9 L342.8,270 L343.4,270 L343.9,270.1 L344.4,270.1 L344.9,270.1 L345.4,270.1 L345.8,270.1 L346.3,270 L346.7,269.9 L347.1,269.8 L347.6,269.6 L348,269.4 L348.3,269.2 L348.7,268.9 L349.1,268.5 L349.5,268.1 L349.8,267.7 L350.2,267.2 L350.5,266.7 L350.9,266.2 L351.2,265.6 L351.6,265 L351.9,264.3 L352.3,263.6 L352.7,262.9 L353,262.2 L353.4,261.4 L353.8,260.7 L354.2,259.9 L354.6,259.2 L355,258.4 L355.4,257.7 L355.9,256.9 L356.3,256.2 L356.8,255.5 L357.2,254.9 L357.7,254.2 L358.1,253.7 L358.6,253.1 L359.1,252.6 L359.6,252.2 L360.1,251.8 L360.5,251.7 L361,251.7 L361.4,251.9 L361.9,252.1 L362.3,252.4 L362.7,252.6 L363.2,252.7 L363.6,252.7 L364.1,252.6 L364.5,252.4 L365,252.1 L365.5,251.6 L366,251 L366.5,250.4 L367.1,249.9 L367.6,249.3 L368.1,248.9 L368.6,248.5 L369.1,248.3 L369.6,248.2 L370,248.1 L370.5,248 L371,247.9 L371.4,247.8 L371.9,247.7 L372.4,247.6 L372.8,247.5 L373.3,247.4 L373.7,247.4 L374.2,247.3 L374.6,247.2 L375.1,247.2 L375.6,247.1 L376,247 L376.5,247 L376.9,247 L377.4,246.9 L377.8,246.9 L378.3,246.9 L378.7,246.8 L379.1,246.8 L379.6,246.8 L380,246.8 L380.5,246.8 L380.9,246.8 L381.3,246.8 L381.8,246.8 L382.2,246.8 L382.6,246.9 L383,246.9 L383.5,246.9 L383.9,247 L384.3,247 L384.7,247.1 L385.1,247.1 L385.6,247.2 L386,247.2 L386.4,247.3 L386.8,247.4 L387.2,247.4 L387.6,247.5 L388,247.6 L388.3,247.8 L388.7,248.1 L389,248.3 L389.2,248.7 L389.5,249.1 L389.7,249.6 L389.9,250.1 L390,250.6 L390.1,251.2 L390.2,251.8 L390.3,252.5 L390.4,253.1 L390.4,253.8 L390.4,254.5 L390.4,255.2 L390.4,255.9 L390.4,256.6 L390.4,257.3 L390.4,258 L390.4,258.7 L390.4,259.3 L390.4,259.9 L390.5,260.5 L390.5,261 L390.6,261.5 L390.7,262 L390.8,262.4Z" fill="none" stroke="#2a2a2a" stroke-width="2.2" />
<path d="M392.3,260.1 L392.5,260.5 L392.7,260.8 L392.9,261.1 L393.1,261.3 L393.4,261.5 L393.7,261.6 L394.1,261.7 L394.5,261.7 L394.9,261.7 L395.4,261.7 L395.9,261.6 L396.4,261.5 L396.9,261.4 L397.5,261.2 L398.1,261 L398.7,260.8 L399.3,260.6 L400,260.4 L400.6,260.2 L401.3,260 L402,259.8 L402.6,259.6 L403.3,259.4 L403.9,259.3 L404.5,259.2 L405.1,259.1 L405.7,259 L406.3,259 L406.8,259.1 L407.3,259.1 L407.7,259.3 L408.2,259.4 L408.5,259.7 L408.6,260.1 L408.7,260.7 L408.6,261.4 L408.4,262.1 L408.3,262.8 L408.2,263.5 L408.1,264.1 L408.1,264.7 L408.2,265.1 L408.5,265.4 L408.8,265.7 L409.2,265.9 L409.7,266 L410.3,266.1 L410.8,266.2 L411.3,266.3 L411.7,266.5 L412,266.8 L412.2,267.2 L412.4,267.6 L412.5,268.1 L412.7,268.5 L412.8,269 L412.9,269.4 L413,269.9 L413.2,270.4 L413.3,270.8 L413.4,271.3 L413.5,271.8 L413.6,272.3 L413.7,272.7 L413.8,273.2 L413.9,273.7 L413.9,274.2 L414,274.7 L414.1,275.2 L414.2,275.7 L414.2,276.2 L414.3,276.7 L414.4,277.2 L414.4,277.7 L414.5,278.2 L414.5,278.7 L414.6,279.2 L414.6,279.8 L414.6,280.3 L414.7,280.8 L414.7,281.3 L414.7,281.9 L414.7,282.4 L414.7,282.9 L414.7,283.5 L414.6,284 L414.5,284.6 L414.3,285.2 L414.1,285.9 L413.9,286.5 L413.5,287.2 L413.2,287.9 L412.8,288.6 L412.4,289.3 L411.9,290 L411.4,290.7 L410.9,291.4 L410.4,292.1 L409.9,292.8 L409.3,293.5 L408.8,294.2 L408.2,294.9 L407.7,295.5 L407.2,296.2 L406.7,296.8 L406.2,297.4 L405.7,298 L405.3,298.6 L404.9,299.2 L404.5,299.8 L404.1,300.3 L403.8,300.8 L403.6,301.4 L403.4,301.9 L403.2,302.4 L403.1,302.8 L403,303.3 L403,303.8 L403,304.3 L403,304.7 L403.1,305.2 L403.2,305.6 L403.3,306.1 L403.5,306.5 L403.7,307 L403.9,307.5 L404.2,307.9 L404.5,308.4 L404.7,308.9 L405,309.4 L405.3,309.9 L405.6,310.4 L405.9,311 L406.1,311.5 L406.4,312.1 L406.6,312.6 L406.8,313.2 L407,313.8 L407.1,314.3 L407.2,314.9 L407.3,315.5 L407.3,316.1 L407.3,316.7 L407.3,317.3 L407.1,317.9 L406.8,318.5 L406.4,319.1 L405.9,319.6 L405.3,320.1 L404.7,320.6 L404.1,321.1 L403.6,321.7 L403.2,322.2 L402.9,322.7 L402.7,323.3 L402.6,323.9 L402.5,324.5 L402.5,325.2 L402.6,325.8 L402.6,326.5 L402.6,327.1 L402.5,327.8 L402.3,328.4 L402,329 L401.7,329.6 L401.4,330.1 L401.1,330.7 L400.8,331.3 L400.4,331.8 L400.1,332.4 L399.8,333 L399.4,333.5 L399.1,334.1 L398.8,334.7 L398.4,335.2 L398.1,335.8 L397.7,336.3 L397.3,336.9 L397,337.4 L396.6,338 L396.3,338.5 L395.9,339 L395.5,339.6 L395.1,340.1 L394.8,340.7 L394.4,341.2 L394,341.7 L393.6,342.3 L393.2,342.8 L392.8,343.3 L392.4,343.8 L392.1,344.4 L391.7,344.9 L391.3,345.4 L390.8,345.9 L390.4,346.4 L390,346.9 L389.6,347.4 L389.2,347.9 L388.8,348.4 L388.4,348.9 L387.9,349.3 L387.4,349.8 L386.9,350.1 L386.4,350.5 L385.8,350.8 L385.3,351 L384.7,351.3 L384.1,351.5 L383.5,351.6 L382.8,351.8 L382.2,351.9 L381.6,352 L381,352 L380.3,352.1 L379.7,352.1 L379.1,352.1 L378.5,352.2 L377.9,352.2 L377.3,352.2 L376.7,352.2 L376.2,352.2 L375.6,352.3 L375.1,352.3 L374.6,352.4 L374.1,352.5 L373.6,352.6 L373.1,352.8 L372.7,353 L372.3,353.2 L371.9,353.5 L371.5,353.8 L371.1,354.1 L370.7,354.5 L370.3,354.9 L370,355.4 L369.6,355.9 L369.3,356.4 L369,357 L368.6,357.6 L368.3,358.3 L368,359 L367.6,359.7 L367.3,360.4 L366.9,361.2 L366.6,361.9 L366.2,362.7 L365.9,363.5 L365.5,364.3 L365.1,365.1 L364.7,365.8 L364.3,366.6 L363.9,367.3 L363.5,368.1 L363,368.8 L362.6,369.4 L362.1,370 L361.7,370.6 L361.2,371.2 L360.7,371.7 L360.2,372 L359.7,372.2 L359.2,372.3 L358.7,372.2 L358.2,372 L357.7,371.8 L357.3,371.7 L356.8,371.6 L356.3,371.6 L355.8,371.8 L355.4,372.1 L354.9,372.5 L354.4,373 L353.9,373.6 L353.4,374.2 L352.8,374.9 L352.3,375.4 L351.8,375.9 L351.3,376.3 L350.8,376.6 L350.3,376.7 L349.8,376.9 L349.3,377.1 L348.8,377.2 L348.3,377.4 L347.8,377.5 L347.3,377.7 L346.8,377.8 L346.4,378 L345.9,378.1 L345.4,378.2 L344.9,378.3 L344.4,378.5 L343.9,378.6 L343.5,378.7 L343,378.8 L342.5,378.9 L342,379 L341.5,379 L341.1,379.1 L340.6,379.2 L340.1,379.3 L339.6,379.3 L339.2,379.4 L338.7,379.4 L338.2,379.5 L337.8,379.5 L337.3,379.6 L336.8,379.6 L336.4,379.6 L335.9,379.6 L335.4,379.7 L335,379.7 L334.5,379.7 L334.1,379.7 L333.6,379.7 L333.2,379.6 L332.8,379.5 L332.4,379.4 L332,379.2 L331.7,378.9 L331.3,378.6 L331.1,378.2 L330.8,377.7 L330.5,377.3 L330.3,376.7 L330.1,376.2 L330,375.6 L329.8,375 L329.6,374.3 L329.5,373.7 L329.4,373 L329.3,372.4 L329.2,371.7 L329.1,371.1 L329,370.4 L328.9,369.8 L328.8,369.2 L328.7,368.7 L328.6,368.1 L328.4,367.6 L328.3,367.2 L328.1,366.8 L327.9,366.4 L327.7,366.1 L327.5,365.8 L327.2,365.6 L326.9,365.4 L326.6,365.3 L326.2,365.3 L325.8,365.2 L325.4,365.3 L325,365.4 L324.5,365.5 L324,365.6 L323.5,365.8 L322.9,366.1 L322.3,366.3 L321.7,366.6 L321.1,366.9 L320.5,367.2 L319.8,367.5 L319.1,367.8 L318.5,368.1 L317.8,368.4 L317.1,368.7 L316.5,369 L315.8,369.3 L315.2,369.5 L314.5,369.7 L313.9,369.8 L313.3,369.9 L312.8,370 L312.3,370 L311.8,370 L311.3,369.9 L310.9,369.7 L310.7,369.3 L310.6,368.8 L310.6,368.2 L310.7,367.5 L310.7,366.8 L310.8,366.1 L310.8,365.5 L310.7,365 L310.5,364.6 L310.2,364.4 L309.8,364.2 L309.3,364.1 L308.8,364.1 L308.2,364.1 L307.7,364.1 L307.1,364.1 L306.7,364 L306.3,363.8 L306,363.4 L305.8,363 L305.6,362.7 L305.4,362.3 L305.2,361.9 L305,361.5 L304.8,361.1 L304.6,360.6 L304.5,360.2 L304.3,359.8 L304.1,359.4 L303.9,359 L303.8,358.6 L303.6,358.1 L303.5,357.7 L303.3,357.2 L303.2,356.8 L303,356.4 L302.9,355.9 L302.7,355.5 L302.6,355 L302.5,354.6 L302.4,354.1 L302.2,353.6 L302.1,353.2 L302,352.7 L301.9,352.2 L301.8,351.7 L301.7,351.3 L301.6,350.8 L301.5,350.3 L301.5,349.8 L301.4,349.3 L301.3,348.8 L301.2,348.3 L301.2,347.8 L301.1,347.3 L301,346.8 L301,346.3 L301,345.8 L301,345.2 L301.1,344.6 L301.2,344 L301.4,343.4 L301.6,342.7 L301.9,342.1 L302.2,341.4 L302.5,340.7 L302.9,339.9 L303.3,339.2 L303.8,338.5 L304.2,337.8 L304.7,337 L305.2,336.3 L305.7,335.6 L306.2,334.9 L306.7,334.1 L307.3,333.4 L307.7,332.8 L308.2,332.1 L308.7,331.4 L309.1,330.8 L309.5,330.2 L309.9,329.6 L310.2,329 L310.5,328.5 L310.8,327.9 L311,327.4 L311.2,326.9 L311.3,326.4 L311.4,325.9 L311.5,325.4 L311.5,325 L311.5,324.5 L311.4,324.1 L311.3,323.7 L311.1,323.3 L310.9,322.8 L310.7,322.4 L310.4,322 L310.2,321.6 L309.9,321.2 L309.6,320.7 L309.2,320.3 L308.9,319.9 L308.6,319.4 L308.2,318.9 L307.9,318.5 L307.6,318 L307.3,317.5 L307,317 L306.8,316.4 L306.5,315.9 L306.3,315.4 L306.2,314.8 L306,314.3 L306,313.7 L305.9,313.1 L305.9,312.5 L306,311.9 L306.3,311.4 L306.7,310.8 L307.2,310.2 L307.8,309.6 L308.3,309.1 L308.9,308.5 L309.3,308 L309.7,307.4 L310,306.9 L310.2,306.3 L310.3,305.7 L310.3,305.1 L310.2,304.5 L310.1,303.9 L310.1,303.2 L310,302.6 L310,302 L310.2,301.4 L310.4,300.8 L310.7,300.2 L311,299.6 L311.2,299 L311.5,298.4 L311.8,297.9 L312.1,297.3 L312.4,296.7 L312.7,296.1 L313,295.6 L313.4,295 L313.7,294.4 L314,293.9 L314.3,293.3 L314.6,292.7 L315,292.2 L315.3,291.6 L315.6,291 L316,290.5 L316.3,289.9 L316.6,289.3 L317,288.8 L317.3,288.2 L317.7,287.7 L318.1,287.1 L318.4,286.6 L318.8,286 L319.1,285.5 L319.5,285 L319.9,284.4 L320.3,283.9 L320.6,283.3 L321,282.8 L321.4,282.3 L321.8,281.7 L322.2,281.2 L322.6,280.7 L323,280.2 L323.3,279.6 L323.7,279.1 L324.1,278.6 L324.6,278.1 L325,277.6 L325.4,277.1 L325.8,276.6 L326.2,276.1 L326.6,275.6 L327,275.1 L327.4,274.6 L327.9,274.1 L328.3,273.6 L328.7,273.1 L329.2,272.6 L329.6,272.2 L330,271.7 L330.5,271.2 L330.9,270.7 L331.3,270.3 L331.8,269.9 L332.3,269.5 L332.8,269.2 L333.4,268.9 L333.9,268.6 L334.5,268.4 L335.1,268.3 L335.7,268.1 L336.3,268 L336.9,267.9 L337.5,267.9 L338.1,267.9 L338.7,267.9 L339.3,267.9 L339.9,267.9 L340.5,268 L341.1,268 L341.6,268.1 L342.2,268.1 L342.7,268.2 L343.3,268.2 L343.8,268.2 L344.3,268.2 L344.8,268.2 L345.3,268.2 L345.8,268.1 L346.2,268 L346.7,267.8 L347.1,267.7 L347.5,267.4 L347.9,267.2 L348.3,266.9 L348.7,266.5 L349.1,266.1 L349.5,265.7 L349.8,265.2 L350.2,264.6 L350.6,264.1 L350.9,263.5 L351.3,262.8 L351.7,262.2 L352.1,261.5 L352.4,260.8 L352.8,260 L353.2,259.3 L353.6,258.5 L354,257.7 L354.5,257 L354.9,256.2 L355.3,255.4 L355.8,254.7 L356.2,254 L356.7,253.3 L357.2,252.6 L357.7,252 L358.2,251.4 L358.6,250.8 L359.1,250.3 L359.6,249.9 L360.1,249.5 L360.6,249.4 L361.1,249.4 L361.6,249.5 L362,249.8 L362.5,250 L362.9,250.2 L363.4,250.4 L363.8,250.4 L364.3,250.3 L364.8,250 L365.3,249.7 L365.8,249.2 L366.3,248.6 L366.9,248 L367.4,247.5 L368,246.9 L368.5,246.4 L369,246.1 L369.5,245.9 L370,245.8 L370.5,245.7 L371,245.5 L371.5,245.4 L371.9,245.3 L372.4,245.2 L372.9,245.1 L373.4,245 L373.9,245 L374.3,244.9 L374.8,244.8 L375.3,244.7 L375.8,244.7 L376.2,244.6 L376.7,244.6 L377.2,244.5 L377.6,244.5 L378.1,244.4 L378.6,244.4 L379,244.4 L379.5,244.4 L380,244.3 L380.4,244.3 L380.9,244.3 L381.3,244.3 L381.8,244.3 L382.2,244.3 L382.7,244.3 L383.1,244.4 L383.6,244.4 L384,244.4 L384.4,244.4 L384.9,244.5 L385.3,244.5 L385.8,244.6 L386.2,244.6 L386.6,244.7 L387,244.8 L387.5,244.8 L387.9,244.9 L388.3,245 L388.7,245.1 L389.1,245.2 L389.5,245.4 L389.9,245.6 L390.2,245.9 L390.4,246.3 L390.7,246.7 L390.9,247.1 L391.1,247.6 L391.3,248.2 L391.4,248.8 L391.5,249.4 L391.6,250.1 L391.7,250.7 L391.7,251.4 L391.8,252.1 L391.8,252.8 L391.8,253.6 L391.8,254.3 L391.8,255 L391.8,255.7 L391.8,256.3 L391.9,257 L391.9,257.6 L391.9,258.2 L392,258.7 L392.1,259.2 L392.2,259.7 L392.3,260.1Z" fill="none" stroke="#444" stroke-width="1.0" />
<ellipse cx="393.4" cy="260.8" rx="3" ry="2.4" transform="rotate(-50 393.4 260.8)" fill="#333" stroke="#222" stroke-width="0.6" />
<ellipse cx="403.5" cy="302.8" rx="3" ry="2.4" transform="rotate(-50 403.5 302.8)" fill="#333" stroke="#222" stroke-width="0.6" />
<ellipse cx="371.6" cy="354.2" rx="3" ry="2.4" transform="rotate(-50 371.6 354.2)" fill="#333" stroke="#222" stroke-width="0.6" />
<ellipse cx="326.6" cy="365.9" rx="3" ry="2.4" transform="rotate(-50 326.6 365.9)" fill="#333" stroke="#222" stroke-width="0.6" />
<ellipse cx="311" cy="326" rx="3" ry="2.4" transform="rotate(-50 311 326)" fill="#333" stroke="#222" stroke-width="0.6" />
<ellipse cx="347.8" cy="266.8" rx="3" ry="2.4" transform="rotate(-50 347.8 266.8)" fill="#333" stroke="#222" stroke-width="0.6" />
<line x1="357.7" y1="312.2" x2="378.6" y2="324" stroke="#222" stroke-width="1.4" />
<g transform="translate(312.5 244.3) rotate(32)"><rect x="-6" y="-3" width="12" height="6" rx="2.5" fill="#d6d6d6" stroke="#b0b0b0" stroke-width="0.8"/><line x1="-2" y1="-3" x2="-2" y2="3" stroke="#b0b0b0" stroke-width="0.7"/><line x1="1" y1="-3" x2="1" y2="3" stroke="#b0b0b0" stroke-width="0.7"/></g>
<g transform="translate(275.4 305) rotate(32)"><rect x="-6" y="-3" width="12" height="6" rx="2.5" fill="#d6d6d6" stroke="#b0b0b0" stroke-width="0.8"/><line x1="-2" y1="-3" x2="-2" y2="3" stroke="#b0b0b0" stroke-width="0.7"/><line x1="1" y1="-3" x2="1" y2="3" stroke="#b0b0b0" stroke-width="0.7"/></g>
<g transform="translate(377.6 250.7) rotate(32)"><rect x="-6" y="-3" width="12" height="6" rx="2.5" fill="#d6d6d6" stroke="#b0b0b0" stroke-width="0.8"/><line x1="-2" y1="-3" x2="-2" y2="3" stroke="#b0b0b0" stroke-width="0.7"/><line x1="1" y1="-3" x2="1" y2="3" stroke="#b0b0b0" stroke-width="0.7"/></g>
<g transform="translate(388.5 296) rotate(32)"><rect x="-6" y="-3" width="12" height="6" rx="2.5" fill="#d6d6d6" stroke="#b0b0b0" stroke-width="0.8"/><line x1="-2" y1="-3" x2="-2" y2="3" stroke="#b0b0b0" stroke-width="0.7"/><line x1="1" y1="-3" x2="1" y2="3" stroke="#b0b0b0" stroke-width="0.7"/></g>
<g transform="translate(354 346.6) rotate(32)"><rect x="-6" y="-3" width="12" height="6" rx="2.5" fill="#d6d6d6" stroke="#b0b0b0" stroke-width="0.8"/><line x1="-2" y1="-3" x2="-2" y2="3" stroke="#b0b0b0" stroke-width="0.7"/><line x1="1" y1="-3" x2="1" y2="3" stroke="#b0b0b0" stroke-width="0.7"/></g>
<g transform="translate(308 358.4) rotate(32)"><rect x="-6" y="-3" width="12" height="6" rx="2.5" fill="#d6d6d6" stroke="#b0b0b0" stroke-width="0.8"/><line x1="-2" y1="-3" x2="-2" y2="3" stroke="#b0b0b0" stroke-width="0.7"/><line x1="1" y1="-3" x2="1" y2="3" stroke="#b0b0b0" stroke-width="0.7"/></g>
<g transform="translate(215.5 233.5)"><path d="M-14,-6 L-9,-13 L1,-14 L4,-8 L4,8 L0,14 L-10,13 L-14,6 Z" fill="#fff" stroke="#222" stroke-width="1.6"/><line x1="-14" y1="-1" x2="4" y2="-1" stroke="#222" stroke-width="1"/><ellipse cx="5.5" cy="0" rx="7.5" ry="13.5" transform="rotate(-8 5.5 0)" fill="#fff" stroke="#222" stroke-width="3.2" stroke-dasharray="1.5 1.0"/><ellipse cx="5.5" cy="0" rx="5.5" ry="10.5" transform="rotate(-8 5.5 0)" fill="#fff" stroke="#222" stroke-width="1.2"/><ellipse cx="6" cy="0.5" rx="2.6" ry="5" transform="rotate(-8 6 0.5)" fill="#fff" stroke="#222" stroke-width="1.2"/></g>
<path d="M530.6,323.8 L531.8,323.5 L532.9,323.3 L533.9,323.2 L534.9,323.3 L535.9,323.4 L536.7,323.7 L537.4,324.1 L538.1,324.7 L538.6,325.4 L539,326.2 L539.3,327.1 L539.5,328.1 L539.6,329.3 L539.6,330.5 L539.6,331.8 L539.4,333.1 L539.2,334.5 L538.9,335.9 L538.5,337.4 L538.2,338.8 L537.8,340.2 L537.5,341.5 L537.1,342.8 L536.8,344.1 L536.6,345.3 L536.4,346.4 L536.2,347.4 L536.2,348.4 L536.2,349.3 L536.4,350.1 L536.6,350.9 L536.7,351.7 L536.9,352.5 L537,353.3 L537.1,354.1 L537.2,355 L537.3,355.8 L537.4,356.7 L537.5,357.5 L537.5,358.4 L537.5,359.3 L537.6,360.1 L537.6,361 L537.6,361.9 L537.5,362.8 L537.5,363.8 L537.4,364.7 L537.4,365.6 L537.3,366.5 L537.2,367.5 L537.1,368.4 L537,369.3 L536.8,370.3 L536.7,371.2 L536.5,372.2 L536.3,373.2 L536.1,374.1 L535.9,375.1 L535.7,376 L535.4,377 L535.2,378 L534.9,379 L534.6,379.9 L534.4,380.9 L534,381.9 L533.7,382.9 L533.4,383.9 L533,384.8 L532.7,385.8 L532.3,386.8 L531.9,387.8 L531.5,388.8 L531.1,389.7 L530.7,390.7 L530.3,391.7 L529.8,392.6 L529.4,393.6 L528.9,394.6 L528.6,395.6 L528.3,396.6 L528.1,397.7 L527.9,398.8 L527.8,400 L527.7,401.1 L527.6,402.4 L527.6,403.7 L527.5,405 L527.4,406.3 L527.3,407.7 L527.1,409 L526.9,410.4 L526.6,411.8 L526.3,413.2 L525.9,414.5 L525.4,415.8 L524.8,417.1 L524.1,418.3 L523.4,419.4 L522.6,420.5 L521.7,421.5 L520.8,422.4 L519.7,423.2 L518.7,423.9 L517.6,424.5 L516.4,425 L515.3,425.5 L514.1,425.9 L512.9,426.2 L511.7,426.4 L510.6,426.6 L509.4,426.7 L508.3,426.9 L507.2,427 L506.2,427.1 L505.1,427.3 L504.2,427.5 L503.2,427.7 L502.3,428 L501.4,428.4 L500.6,428.8 L499.7,429.3 L498.9,429.9 L498.1,430.5 L497.3,431 L496.5,431.5 L495.6,432.1 L494.8,432.6 L494,433 L493.2,433.5 L492.3,434 L491.5,434.4 L490.7,434.8 L489.8,435.2 L489,435.6 L488.2,436 L487.4,436.4 L486.5,436.7 L485.7,437 L484.9,437.4 L484.1,437.6 L483.2,437.9 L482.4,438.2 L481.6,438.4 L480.8,438.7 L480,438.9 L479.2,439.1 L478.3,439.3 L477.5,439.4 L476.7,439.6 L475.9,439.7 L475.2,439.8 L474.4,439.9 L473.6,440 L472.8,440.1 L472,440.1 L471.3,440.1 L470.5,440.1 L469.8,440.1 L469,440.1 L468.3,440.1 L467.5,440 L466.8,439.9 L466.1,439.8 L465.4,439.7 L464.6,439.7 L463.8,439.7 L463,439.9 L462.1,440.1 L461.1,440.5 L460.1,440.9 L459,441.4 L457.9,441.9 L456.8,442.5 L455.6,443 L454.4,443.6 L453.2,444.1 L451.9,444.6 L450.7,445 L449.6,445.4 L448.4,445.6 L447.4,445.7 L446.4,445.8 L445.4,445.7 L444.6,445.4 L443.8,445 L443.1,444.5 L442.6,443.9 L442.1,443.1 L441.8,442.2 L441.5,441.2 L441.4,440.1 L441.3,438.9 L441.4,437.6 L441.5,436.3 L441.7,434.9 L442,433.5 L442.2,432.1 L442.5,430.7 L442.9,429.3 L443.2,427.9 L443.5,426.6 L443.8,425.4 L444,424.2 L444.1,423.1 L444.2,422.1 L444.3,421.1 L444.2,420.2 L444,419.4 L443.8,418.7 L443.6,417.9 L443.4,417.1 L443.3,416.3 L443.1,415.5 L443,414.7 L442.9,413.9 L442.8,413 L442.7,412.2 L442.6,411.3 L442.5,410.5 L442.5,409.6 L442.5,408.7 L442.4,407.9 L442.4,407 L442.4,406.1 L442.5,405.2 L442.5,404.2 L442.6,403.3 L442.6,402.4 L442.7,401.5 L442.8,400.5 L442.9,399.6 L443,398.7 L443.2,397.7 L443.3,396.8 L443.5,395.8 L443.7,394.8 L443.9,393.9 L444.1,392.9 L444.3,392 L444.6,391 L444.8,390 L445.1,389 L445.4,388.1 L445.6,387.1 L446,386.1 L446.3,385.1 L446.6,384.1 L447,383.2 L447.3,382.2 L447.7,381.2 L448.1,380.2 L448.5,379.2 L448.9,378.3 L449.3,377.3 L449.7,376.3 L450.2,375.4 L450.6,374.4 L451.1,373.4 L451.4,372.4 L451.7,371.4 L451.9,370.3 L452.1,369.2 L452.2,368 L452.3,366.9 L452.4,365.6 L452.4,364.3 L452.5,363 L452.6,361.7 L452.7,360.3 L452.9,359 L453.1,357.6 L453.4,356.2 L453.7,354.8 L454.1,353.5 L454.6,352.2 L455.2,350.9 L455.9,349.7 L456.6,348.6 L457.4,347.5 L458.3,346.5 L459.2,345.6 L460.3,344.8 L461.3,344.1 L462.4,343.5 L463.6,343 L464.7,342.5 L465.9,342.1 L467.1,341.8 L468.3,341.6 L469.4,341.4 L470.6,341.3 L471.7,341.1 L472.8,341 L473.8,340.9 L474.9,340.7 L475.8,340.5 L476.8,340.3 L477.7,340 L478.6,339.6 L479.4,339.2 L480.3,338.7 L481.1,338.1 L481.9,337.5 L482.7,337 L483.5,336.5 L484.4,335.9 L485.2,335.4 L486,335 L486.8,334.5 L487.7,334 L488.5,333.6 L489.3,333.2 L490.2,332.8 L491,332.4 L491.8,332 L492.6,331.6 L493.5,331.3 L494.3,331 L495.1,330.6 L495.9,330.4 L496.8,330.1 L497.6,329.8 L498.4,329.6 L499.2,329.3 L500,329.1 L500.8,328.9 L501.7,328.7 L502.5,328.6 L503.3,328.4 L504.1,328.3 L504.8,328.2 L505.6,328.1 L506.4,328 L507.2,327.9 L508,327.9 L508.7,327.9 L509.5,327.9 L510.2,327.9 L511,327.9 L511.7,327.9 L512.5,328 L513.2,328.1 L513.9,328.2 L514.6,328.3 L515.3,328.4 L516,328.5 L516.8,328.6 L517.5,328.6 L518.4,328.5 L519.3,328.3 L520.2,328 L521.3,327.6 L522.3,327.1 L523.4,326.6 L524.6,326.1 L525.8,325.6 L527,325.1 L528.2,324.6 L529.4,324.2 L530.6,323.8Z" fill="#fff" stroke="#222" stroke-width="1.5" />
<ellipse cx="534.7" cy="328.9" rx="3.2" ry="2.4" transform="rotate(-50 534.7 328.9)" fill="#fff" stroke="#222" stroke-width="1.0" />
<ellipse cx="520.3" cy="417.9" rx="3.2" ry="2.4" transform="rotate(-50 520.3 417.9)" fill="#fff" stroke="#222" stroke-width="1.0" />
<ellipse cx="446.4" cy="440.3" rx="3.2" ry="2.4" transform="rotate(-50 446.4 440.3)" fill="#fff" stroke="#222" stroke-width="1.0" />
<ellipse cx="459.7" cy="350.1" rx="3.2" ry="2.4" transform="rotate(-50 459.7 350.1)" fill="#fff" stroke="#222" stroke-width="1.0" />
<ellipse cx="490" cy="384" rx="59.1" ry="36.9" transform="rotate(-56 490 384)" fill="none" stroke="#222" stroke-width="1.2" />
<line x1="515.5" y1="346.2" x2="521.9" y2="336.7" stroke="#333" stroke-width="2.7" stroke-linecap="round"/>
<line x1="516" y1="345.4" x2="521.4" y2="337.5" stroke="#b0b0b0" stroke-width="1.1" stroke-linecap="round"/>
<line x1="518" y1="348.2" x2="525" y2="339.3" stroke="#333" stroke-width="2.7" stroke-linecap="round"/>
<line x1="518.5" y1="347.5" x2="524.4" y2="340" stroke="#b0b0b0" stroke-width="1.1" stroke-linecap="round"/>
<line x1="520.1" y1="350.7" x2="527.6" y2="342.4" stroke="#333" stroke-width="2.7" stroke-linecap="round"/>
<line x1="520.7" y1="350" x2="527.1" y2="343" stroke="#b0b0b0" stroke-width="1.1" stroke-linecap="round"/>
<line x1="521.9" y1="353.6" x2="529.8" y2="346" stroke="#333" stroke-width="2.7" stroke-linecap="round"/>
<line x1="522.5" y1="353" x2="529.2" y2="346.6" stroke="#b0b0b0" stroke-width="1.1" stroke-linecap="round"/>
<line x1="523.2" y1="356.9" x2="531.5" y2="350.1" stroke="#333" stroke-width="2.7" stroke-linecap="round"/>
<line x1="523.9" y1="356.3" x2="530.9" y2="350.6" stroke="#b0b0b0" stroke-width="1.1" stroke-linecap="round"/>
<line x1="524.2" y1="360.5" x2="532.7" y2="354.6" stroke="#333" stroke-width="2.7" stroke-linecap="round"/>
<line x1="524.8" y1="360" x2="532" y2="355.1" stroke="#b0b0b0" stroke-width="1.1" stroke-linecap="round"/>
<line x1="524.7" y1="364.4" x2="533.3" y2="359.5" stroke="#333" stroke-width="2.7" stroke-linecap="round"/>
<line x1="525.4" y1="364" x2="532.7" y2="359.9" stroke="#b0b0b0" stroke-width="1.1" stroke-linecap="round"/>
<line x1="524.7" y1="368.5" x2="533.4" y2="364.7" stroke="#333" stroke-width="2.7" stroke-linecap="round"/>
<line x1="525.4" y1="368.2" x2="532.7" y2="365" stroke="#b0b0b0" stroke-width="1.1" stroke-linecap="round"/>
<line x1="524.4" y1="372.9" x2="533" y2="370.1" stroke="#333" stroke-width="2.7" stroke-linecap="round"/>
<line x1="525" y1="372.7" x2="532.3" y2="370.3" stroke="#b0b0b0" stroke-width="1.1" stroke-linecap="round"/>
<line x1="523.6" y1="377.4" x2="532" y2="375.7" stroke="#333" stroke-width="2.7" stroke-linecap="round"/>
<line x1="524.2" y1="377.3" x2="531.3" y2="375.9" stroke="#b0b0b0" stroke-width="1.1" stroke-linecap="round"/>
<line x1="522.4" y1="382" x2="530.4" y2="381.4" stroke="#333" stroke-width="2.7" stroke-linecap="round"/>
<line x1="523" y1="381.9" x2="529.8" y2="381.5" stroke="#b0b0b0" stroke-width="1.1" stroke-linecap="round"/>
<line x1="520.7" y1="386.6" x2="528.4" y2="387.2" stroke="#333" stroke-width="2.7" stroke-linecap="round"/>
<line x1="521.3" y1="386.6" x2="527.8" y2="387.1" stroke="#b0b0b0" stroke-width="1.1" stroke-linecap="round"/>
<line x1="518.7" y1="391.1" x2="525.9" y2="392.9" stroke="#333" stroke-width="2.7" stroke-linecap="round"/>
<line x1="519.3" y1="391.3" x2="525.3" y2="392.8" stroke="#b0b0b0" stroke-width="1.1" stroke-linecap="round"/>
<line x1="516.3" y1="395.6" x2="522.9" y2="398.5" stroke="#333" stroke-width="2.7" stroke-linecap="round"/>
<line x1="516.9" y1="395.8" x2="522.4" y2="398.3" stroke="#b0b0b0" stroke-width="1.1" stroke-linecap="round"/>
<line x1="513.6" y1="399.9" x2="519.5" y2="403.9" stroke="#333" stroke-width="2.7" stroke-linecap="round"/>
<line x1="514.1" y1="400.3" x2="519.1" y2="403.6" stroke="#b0b0b0" stroke-width="1.1" stroke-linecap="round"/>
<line x1="510.6" y1="404.1" x2="515.8" y2="409.1" stroke="#333" stroke-width="2.7" stroke-linecap="round"/>
<line x1="511" y1="404.5" x2="515.4" y2="408.7" stroke="#b0b0b0" stroke-width="1.1" stroke-linecap="round"/>
<line x1="507.4" y1="407.9" x2="511.7" y2="413.9" stroke="#333" stroke-width="2.7" stroke-linecap="round"/>
<line x1="507.7" y1="408.4" x2="511.4" y2="413.5" stroke="#b0b0b0" stroke-width="1.1" stroke-linecap="round"/>
<line x1="503.9" y1="411.5" x2="507.3" y2="418.4" stroke="#333" stroke-width="2.7" stroke-linecap="round"/>
<line x1="504.2" y1="412.1" x2="507.1" y2="417.9" stroke="#b0b0b0" stroke-width="1.1" stroke-linecap="round"/>
<line x1="500.2" y1="414.8" x2="502.8" y2="422.5" stroke="#333" stroke-width="2.7" stroke-linecap="round"/>
<line x1="500.4" y1="415.4" x2="502.6" y2="421.8" stroke="#b0b0b0" stroke-width="1.1" stroke-linecap="round"/>
<line x1="496.4" y1="417.6" x2="498" y2="426" stroke="#333" stroke-width="2.7" stroke-linecap="round"/>
<line x1="496.6" y1="418.3" x2="497.9" y2="425.3" stroke="#b0b0b0" stroke-width="1.1" stroke-linecap="round"/>
<line x1="492.6" y1="420" x2="493.2" y2="429" stroke="#333" stroke-width="2.7" stroke-linecap="round"/>
<line x1="492.6" y1="420.7" x2="493.2" y2="428.3" stroke="#b0b0b0" stroke-width="1.1" stroke-linecap="round"/>
<line x1="488.7" y1="422" x2="488.3" y2="431.5" stroke="#333" stroke-width="2.7" stroke-linecap="round"/>
<line x1="488.7" y1="422.8" x2="488.4" y2="430.8" stroke="#b0b0b0" stroke-width="1.1" stroke-linecap="round"/>
<line x1="484.8" y1="423.5" x2="483.5" y2="433.4" stroke="#333" stroke-width="2.7" stroke-linecap="round"/>
<line x1="484.7" y1="424.3" x2="483.6" y2="432.6" stroke="#b0b0b0" stroke-width="1.1" stroke-linecap="round"/>
<line x1="481" y1="424.5" x2="478.7" y2="434.6" stroke="#333" stroke-width="2.7" stroke-linecap="round"/>
<line x1="480.8" y1="425.3" x2="478.9" y2="433.8" stroke="#b0b0b0" stroke-width="1.1" stroke-linecap="round"/>
<line x1="477.3" y1="425" x2="474.1" y2="435.2" stroke="#333" stroke-width="2.7" stroke-linecap="round"/>
<line x1="477" y1="425.8" x2="474.3" y2="434.4" stroke="#b0b0b0" stroke-width="1.1" stroke-linecap="round"/>
<line x1="473.7" y1="424.9" x2="469.7" y2="435.2" stroke="#333" stroke-width="2.7" stroke-linecap="round"/>
<line x1="473.4" y1="425.8" x2="470" y2="434.4" stroke="#b0b0b0" stroke-width="1.1" stroke-linecap="round"/>
<line x1="470.4" y1="424.4" x2="465.5" y2="434.5" stroke="#333" stroke-width="2.7" stroke-linecap="round"/>
<line x1="470" y1="425.2" x2="465.9" y2="433.7" stroke="#b0b0b0" stroke-width="1.1" stroke-linecap="round"/>
<line x1="467.3" y1="423.4" x2="461.6" y2="433.2" stroke="#333" stroke-width="2.7" stroke-linecap="round"/>
<line x1="466.9" y1="424.1" x2="462.1" y2="432.4" stroke="#b0b0b0" stroke-width="1.1" stroke-linecap="round"/>
<line x1="464.5" y1="421.8" x2="458.1" y2="431.3" stroke="#333" stroke-width="2.7" stroke-linecap="round"/>
<line x1="464" y1="422.6" x2="458.6" y2="430.5" stroke="#b0b0b0" stroke-width="1.1" stroke-linecap="round"/>
<line x1="462" y1="419.8" x2="455" y2="428.7" stroke="#333" stroke-width="2.7" stroke-linecap="round"/>
<line x1="461.5" y1="420.5" x2="455.6" y2="428" stroke="#b0b0b0" stroke-width="1.1" stroke-linecap="round"/>
<line x1="459.9" y1="417.3" x2="452.4" y2="425.6" stroke="#333" stroke-width="2.7" stroke-linecap="round"/>
<line x1="459.3" y1="418" x2="452.9" y2="425" stroke="#b0b0b0" stroke-width="1.1" stroke-linecap="round"/>
<line x1="458.1" y1="414.4" x2="450.2" y2="422" stroke="#333" stroke-width="2.7" stroke-linecap="round"/>
<line x1="457.5" y1="415" x2="450.8" y2="421.4" stroke="#b0b0b0" stroke-width="1.1" stroke-linecap="round"/>
<line x1="456.8" y1="411.1" x2="448.5" y2="417.9" stroke="#333" stroke-width="2.7" stroke-linecap="round"/>
<line x1="456.1" y1="411.7" x2="449.1" y2="417.4" stroke="#b0b0b0" stroke-width="1.1" stroke-linecap="round"/>
<line x1="455.8" y1="407.5" x2="447.3" y2="413.4" stroke="#333" stroke-width="2.7" stroke-linecap="round"/>
<line x1="455.2" y1="408" x2="448" y2="412.9" stroke="#b0b0b0" stroke-width="1.1" stroke-linecap="round"/>
<line x1="455.3" y1="403.6" x2="446.7" y2="408.5" stroke="#333" stroke-width="2.7" stroke-linecap="round"/>
<line x1="454.6" y1="404" x2="447.3" y2="408.1" stroke="#b0b0b0" stroke-width="1.1" stroke-linecap="round"/>
<line x1="455.3" y1="399.5" x2="446.6" y2="403.3" stroke="#333" stroke-width="2.7" stroke-linecap="round"/>
<line x1="454.6" y1="399.8" x2="447.3" y2="403" stroke="#b0b0b0" stroke-width="1.1" stroke-linecap="round"/>
<line x1="455.6" y1="395.1" x2="447" y2="397.9" stroke="#333" stroke-width="2.7" stroke-linecap="round"/>
<line x1="455" y1="395.3" x2="447.7" y2="397.7" stroke="#b0b0b0" stroke-width="1.1" stroke-linecap="round"/>
<line x1="456.4" y1="390.6" x2="448" y2="392.3" stroke="#333" stroke-width="2.7" stroke-linecap="round"/>
<line x1="455.8" y1="390.7" x2="448.7" y2="392.1" stroke="#b0b0b0" stroke-width="1.1" stroke-linecap="round"/>
<line x1="457.6" y1="386" x2="449.6" y2="386.6" stroke="#333" stroke-width="2.7" stroke-linecap="round"/>
<line x1="457" y1="386.1" x2="450.2" y2="386.5" stroke="#b0b0b0" stroke-width="1.1" stroke-linecap="round"/>
<line x1="459.3" y1="381.4" x2="451.6" y2="380.8" stroke="#333" stroke-width="2.7" stroke-linecap="round"/>
<line x1="458.7" y1="381.4" x2="452.2" y2="380.9" stroke="#b0b0b0" stroke-width="1.1" stroke-linecap="round"/>
<line x1="461.3" y1="376.9" x2="454.1" y2="375.1" stroke="#333" stroke-width="2.7" stroke-linecap="round"/>
<line x1="460.7" y1="376.7" x2="454.7" y2="375.2" stroke="#b0b0b0" stroke-width="1.1" stroke-linecap="round"/>
<line x1="463.7" y1="372.4" x2="457.1" y2="369.5" stroke="#333" stroke-width="2.7" stroke-linecap="round"/>
<line x1="463.1" y1="372.2" x2="457.6" y2="369.7" stroke="#b0b0b0" stroke-width="1.1" stroke-linecap="round"/>
<line x1="466.4" y1="368.1" x2="460.5" y2="364.1" stroke="#333" stroke-width="2.7" stroke-linecap="round"/>
<line x1="465.9" y1="367.7" x2="460.9" y2="364.4" stroke="#b0b0b0" stroke-width="1.1" stroke-linecap="round"/>
<line x1="469.4" y1="363.9" x2="464.2" y2="358.9" stroke="#333" stroke-width="2.7" stroke-linecap="round"/>
<line x1="469" y1="363.5" x2="464.6" y2="359.3" stroke="#b0b0b0" stroke-width="1.1" stroke-linecap="round"/>
<line x1="472.6" y1="360.1" x2="468.3" y2="354.1" stroke="#333" stroke-width="2.7" stroke-linecap="round"/>
<line x1="472.3" y1="359.6" x2="468.6" y2="354.5" stroke="#b0b0b0" stroke-width="1.1" stroke-linecap="round"/>
<line x1="476.1" y1="356.5" x2="472.7" y2="349.6" stroke="#333" stroke-width="2.7" stroke-linecap="round"/>
<line x1="475.8" y1="355.9" x2="472.9" y2="350.1" stroke="#b0b0b0" stroke-width="1.1" stroke-linecap="round"/>
<line x1="479.8" y1="353.2" x2="477.2" y2="345.5" stroke="#333" stroke-width="2.7" stroke-linecap="round"/>
<line x1="479.6" y1="352.6" x2="477.4" y2="346.2" stroke="#b0b0b0" stroke-width="1.1" stroke-linecap="round"/>
<line x1="483.6" y1="350.4" x2="482" y2="342" stroke="#333" stroke-width="2.7" stroke-linecap="round"/>
<line x1="483.4" y1="349.7" x2="482.1" y2="342.7" stroke="#b0b0b0" stroke-width="1.1" stroke-linecap="round"/>
<line x1="487.4" y1="348" x2="486.8" y2="339" stroke="#333" stroke-width="2.7" stroke-linecap="round"/>
<line x1="487.4" y1="347.3" x2="486.8" y2="339.7" stroke="#b0b0b0" stroke-width="1.1" stroke-linecap="round"/>
<line x1="491.3" y1="346" x2="491.7" y2="336.5" stroke="#333" stroke-width="2.7" stroke-linecap="round"/>
<line x1="491.3" y1="345.2" x2="491.6" y2="337.2" stroke="#b0b0b0" stroke-width="1.1" stroke-linecap="round"/>
<line x1="495.2" y1="344.5" x2="496.5" y2="334.6" stroke="#333" stroke-width="2.7" stroke-linecap="round"/>
<line x1="495.3" y1="343.7" x2="496.4" y2="335.4" stroke="#b0b0b0" stroke-width="1.1" stroke-linecap="round"/>
<line x1="499" y1="343.5" x2="501.3" y2="333.4" stroke="#333" stroke-width="2.7" stroke-linecap="round"/>
<line x1="499.2" y1="342.7" x2="501.1" y2="334.2" stroke="#b0b0b0" stroke-width="1.1" stroke-linecap="round"/>
<line x1="502.7" y1="343" x2="505.9" y2="332.8" stroke="#333" stroke-width="2.7" stroke-linecap="round"/>
<line x1="503" y1="342.2" x2="505.7" y2="333.6" stroke="#b0b0b0" stroke-width="1.1" stroke-linecap="round"/>
<line x1="506.3" y1="343.1" x2="510.3" y2="332.8" stroke="#333" stroke-width="2.7" stroke-linecap="round"/>
<line x1="506.6" y1="342.2" x2="510" y2="333.6" stroke="#b0b0b0" stroke-width="1.1" stroke-linecap="round"/>
<line x1="509.6" y1="343.6" x2="514.5" y2="333.5" stroke="#333" stroke-width="2.7" stroke-linecap="round"/>
<line x1="510" y1="342.8" x2="514.1" y2="334.3" stroke="#b0b0b0" stroke-width="1.1" stroke-linecap="round"/>
<line x1="512.7" y1="344.6" x2="518.4" y2="334.8" stroke="#333" stroke-width="2.7" stroke-linecap="round"/>
<line x1="513.1" y1="343.9" x2="517.9" y2="335.6" stroke="#b0b0b0" stroke-width="1.1" stroke-linecap="round"/>
<ellipse cx="490" cy="384" rx="43.2" ry="27" transform="rotate(-56 490 384)" fill="#fff" stroke="#222" stroke-width="1.3" />
<ellipse cx="493" cy="362.5" rx="5" ry="3.8" transform="rotate(-50 493 362.5)" fill="#fff" stroke="#222" stroke-width="1.2" />
<ellipse cx="493.5" cy="362.5" rx="1.8" ry="1.4" transform="rotate(-50 493.5 362.5)" fill="#444" stroke="#222" stroke-width="0.8" />
<line x1="532" y1="408" x2="628.5" y2="461" stroke="#222" stroke-width="1.3" stroke-dasharray="16 4 3 4"/>
<g transform="translate(512.5 311.5) rotate(32)"><rect x="-3" y="-4.2" width="5" height="8.4" rx="2" fill="#555" stroke="#222" stroke-width="1"/><rect x="2" y="-2.3" width="10" height="4.6" rx="1" fill="#fff" stroke="#222" stroke-width="1.1"/></g>
<g transform="translate(438.5 338.5) rotate(32)"><rect x="-3" y="-4.2" width="5" height="8.4" rx="2" fill="#555" stroke="#222" stroke-width="1"/><rect x="2" y="-2.3" width="10" height="4.6" rx="1" fill="#fff" stroke="#222" stroke-width="1.1"/></g>
<g transform="translate(487.5 395.5) rotate(32)"><rect x="-3" y="-4.2" width="5" height="8.4" rx="2" fill="#555" stroke="#222" stroke-width="1"/><rect x="2" y="-2.3" width="10" height="4.6" rx="1" fill="#fff" stroke="#222" stroke-width="1.1"/></g>
<g transform="translate(416.5 425) rotate(32)"><rect x="-3" y="-4.2" width="5" height="8.4" rx="2" fill="#555" stroke="#222" stroke-width="1"/><rect x="2" y="-2.3" width="10" height="4.6" rx="1" fill="#fff" stroke="#222" stroke-width="1.1"/></g>
<ellipse cx="547.3" cy="332.5" rx="6.5" ry="4.8" transform="rotate(-55 547.3 332.5)" fill="#fff" stroke="#222" stroke-width="1.2" />
<ellipse cx="547.8" cy="332.8" rx="2" ry="1.5" transform="rotate(-55 547.8 332.8)" fill="#555" stroke="#222" stroke-width="1.0" />
<ellipse cx="484.4" cy="363.3" rx="6.5" ry="4.8" transform="rotate(-55 484.4 363.3)" fill="#fff" stroke="#222" stroke-width="1.2" />
<ellipse cx="484.9" cy="363.6" rx="2" ry="1.5" transform="rotate(-55 484.9 363.6)" fill="#555" stroke="#222" stroke-width="1.0" />
<ellipse cx="533.3" cy="424.8" rx="6.5" ry="4.8" transform="rotate(-55 533.3 424.8)" fill="#fff" stroke="#222" stroke-width="1.2" />
<ellipse cx="533.8" cy="425.1" rx="2" ry="1.5" transform="rotate(-55 533.8 425.1)" fill="#555" stroke="#222" stroke-width="1.0" />
<ellipse cx="460.6" cy="450" rx="6.5" ry="4.8" transform="rotate(-55 460.6 450)" fill="#fff" stroke="#222" stroke-width="1.2" />
<ellipse cx="461.1" cy="450.3" rx="2" ry="1.5" transform="rotate(-55 461.1 450.3)" fill="#555" stroke="#222" stroke-width="1.0" />
<path d="M200.8,554.3 C206.2,550.1 223.4,535 233.4,529 C243.4,523 253.1,518.9 260.6,518 C268.2,517.1 274.2,520.5 278.7,523.5 C283.2,526.5 285.3,529.4 287.7,536 C290.1,542.6 292.3,554.3 293.2,563.4 C294.1,572.5 293.6,582.8 293.2,590.6 C292.8,598.4 291.4,606.8 291,610" fill="none" stroke="#222" stroke-width="1.6" />
<path d="M204.4,559.8 C209.2,555.9 224,541.9 233.4,536.2 C242.8,530.5 253.4,526.3 260.6,525.4 C267.9,524.5 273,527.8 276.9,530.8 C280.8,533.8 282.1,538.1 284,543.5 C285.9,548.9 287.8,555.5 288.6,563.4 C289.4,571.2 289,582.8 288.6,590.6 C288.2,598.4 286.4,606.8 286,610" fill="none" stroke="#222" stroke-width="1.6" />
<g><path d="M283,611 L292,609 L294,620 L285,623 Z" fill="#fff" stroke="#222" stroke-width="1.3"/><path d="M276,628 L284,618 L300,624 L298,637 Z" fill="#fff" stroke="#222" stroke-width="1.3"/><path d="M292,633 L312,644 L316,656 L305,658 L286,648 Z" fill="#fff" stroke="#222" stroke-width="1.3"/><ellipse cx="310.5" cy="650.5" rx="5.5" ry="8" transform="rotate(30 310.5 650.5)" fill="#fff" stroke="#222" stroke-width="1.3"/><ellipse cx="281" cy="638.5" rx="7.5" ry="9.5" transform="rotate(-20 281 638.5)" fill="#fff" stroke="#222" stroke-width="2"/><ellipse cx="282" cy="639" rx="3.2" ry="4.2" transform="rotate(-20 282 639)" fill="#fff" stroke="#222" stroke-width="1.2"/></g>
<line x1="238.8" y1="615.9" x2="278" y2="637.5" stroke="#222" stroke-width="1.2" stroke-dasharray="10 3 2 3"/>
<line x1="284" y1="640.5" x2="315" y2="657.6" stroke="#222" stroke-width="1.2" stroke-dasharray="10 3 2 3"/>
<g transform="translate(223.5 607.5) rotate(31)"><ellipse cx="0" cy="0" rx="4" ry="6.5" fill="#fff" stroke="#222" stroke-width="1.6"/><rect x="3" y="-3.2" width="13" height="6.4" rx="1.5" fill="#fff" stroke="#222" stroke-width="1.2"/><line x1="7" y1="-3" x2="7" y2="3" stroke="#222" stroke-width="0.9"/><line x1="10" y1="-3" x2="10" y2="3" stroke="#222" stroke-width="0.9"/><line x1="13" y1="-3" x2="13" y2="3" stroke="#222" stroke-width="0.9"/></g>
<path d="M793,499.5 L807,497 L946.8,461.5 L955,462.5 L961,465" fill="none" stroke="#222" stroke-width="3.6" stroke-linecap="round" stroke-linejoin="round"/>
<path d="M793,499.5 L807,497 L946.8,461.5 L955,462.5 L961,465" fill="none" stroke="#fff" stroke-width="1.4" stroke-linecap="round" stroke-linejoin="round"/>
<ellipse cx="961.5" cy="464.5" rx="2.2" ry="4" transform="rotate(-20 961.5 464.5)" fill="#444" stroke="#222" stroke-width="1.2" />
<g transform="translate(769.5 500.5) rotate(-12)"><ellipse cx="0" cy="0" rx="2.6" ry="5" fill="#444" stroke="#222" stroke-width="1.2"/><rect x="1" y="-3.6" width="12" height="7.2" rx="1.5" fill="#fff" stroke="#222" stroke-width="1.2"/><line x1="5" y1="-3.4" x2="5" y2="3.4" stroke="#222" stroke-width="0.8"/><line x1="8" y1="-3.4" x2="8" y2="3.4" stroke="#222" stroke-width="0.8"/><line x1="11" y1="-3.4" x2="11" y2="3.4" stroke="#222" stroke-width="0.8"/></g>
<path d="M756,576.5 L768,584 L868,665 L872,669.5 L878,671" fill="none" stroke="#222" stroke-width="3.6" stroke-linecap="round" stroke-linejoin="round"/>
<path d="M756,576.5 L768,584 L868,665 L872,669.5 L878,671" fill="none" stroke="#fff" stroke-width="1.4" stroke-linecap="round" stroke-linejoin="round"/>
<ellipse cx="878" cy="671" rx="2.2" ry="3.8" transform="rotate(20 878 671)" fill="#444" stroke="#222" stroke-width="1.2" />
<g transform="translate(735.5 566) rotate(28)"><ellipse cx="0" cy="0" rx="2.6" ry="5" fill="#444" stroke="#222" stroke-width="1.2"/><rect x="1" y="-3.6" width="12" height="7.2" rx="1.5" fill="#fff" stroke="#222" stroke-width="1.2"/><line x1="5" y1="-3.4" x2="5" y2="3.4" stroke="#222" stroke-width="0.8"/><line x1="8" y1="-3.4" x2="8" y2="3.4" stroke="#222" stroke-width="0.8"/><line x1="11" y1="-3.4" x2="11" y2="3.4" stroke="#222" stroke-width="0.8"/></g>
<line x1="950" y1="637" x2="1160" y2="760" stroke="#222" stroke-width="1.3" stroke-dasharray="22 4 4 4"/>
<path d="M918.1,642.5 L917.6,642.2 L917,641.8 L916.5,641.4 L916.1,640.9 L915.6,640.4 L915.2,639.8 L914.8,639.2 L914.5,638.6 L914.2,637.9 L913.9,637.1 L913.7,636.4 L913.5,635.6 L913.4,634.7 L913.3,633.9 L913.2,633 L913.2,632 L913.2,631.1 L913.3,630.2 L913.4,629.2 L913.5,628.2 L913.7,627.2 L913.9,626.2 L914.2,625.2 L914.5,624.1 L914.8,623.1 L915.2,622.1 L915.6,621.1 L916,620.1 L916.5,619.1 L917,618.1 L917.5,617.2 L918.1,616.2 L918.6,615.3 L919.3,614.4 L919.9,613.5 L920.5,612.7 L921.2,611.9 L921.9,611.1 L922.6,610.4 L923.4,609.6 L924.1,609 L924.9,608.4 L925.6,607.8 L926.4,607.2 L927.2,606.7 L927.9,606.3 L928.7,605.9 L929.5,605.5 L930.3,605.3 L931,605 L931.8,604.8 L932.5,604.7 L933.2,604.6 L934,604.6 L934.7,604.6 L935.3,604.6 L936,604.8 L936.7,604.9 L937.3,605.2 L937.9,605.5 L942.9,608.5 L942.9,608.5 L943.4,608.8 L944,609.2 L944.5,609.6 L944.9,610.1 L945.4,610.6 L945.8,611.2 L946.2,611.8 L946.5,612.4 L946.8,613.1 L947.1,613.9 L947.3,614.6 L947.5,615.4 L947.6,616.3 L947.7,617.1 L947.8,618 L947.8,619 L947.8,619.9 L947.7,620.8 L947.6,621.8 L947.5,622.8 L947.3,623.8 L947.1,624.8 L946.8,625.8 L946.5,626.9 L946.2,627.9 L945.8,628.9 L945.4,629.9 L945,630.9 L944.5,631.9 L944,632.9 L943.5,633.8 L942.9,634.8 L942.4,635.7 L941.7,636.6 L941.1,637.5 L940.5,638.3 L939.8,639.1 L939.1,639.9 L938.4,640.6 L937.6,641.4 L936.9,642 L936.1,642.6 L935.4,643.2 L934.6,643.8 L933.8,644.3 L933.1,644.7 L932.3,645.1 L931.5,645.5 L930.7,645.7 L930,646 L929.2,646.2 L928.5,646.3 L927.8,646.4 L927,646.4 L926.3,646.4 L925.7,646.4 L925,646.2 L924.3,646.1 L923.7,645.8 L923.1,645.5 Z" fill="#fff" stroke="#222" stroke-width="1.5" stroke-linejoin="round"/>
<ellipse cx="933" cy="627" rx="21" ry="12.5" transform="rotate(-62 933 627)" fill="#fff" stroke="#222" stroke-width="1.5" />
<ellipse cx="933" cy="627" rx="18.5" ry="11" transform="rotate(-62 933 627)" fill="none" stroke="#222" stroke-width="1.0" />
<path d="M928,644 L927.6,643.7 L927.1,643.4 L926.7,643.1 L926.4,642.7 L926,642.3 L925.7,641.8 L925.4,641.3 L925.1,640.8 L924.9,640.2 L924.7,639.7 L924.5,639 L924.4,638.4 L924.2,637.7 L924.2,637 L924.1,636.3 L924.1,635.6 L924.1,634.8 L924.2,634 L924.2,633.2 L924.4,632.4 L924.5,631.6 L924.7,630.8 L924.9,630 L925.1,629.2 L925.4,628.4 L925.7,627.5 L926,626.7 L926.4,625.9 L926.8,625.1 L927.2,624.3 L927.6,623.5 L928.1,622.8 L928.5,622 L929,621.3 L929.5,620.6 L930.1,619.9 L930.6,619.2 L931.2,618.6 L931.8,618 L932.3,617.4 L932.9,616.9 L933.5,616.4 L934.2,615.9 L934.8,615.5 L935.4,615.1 L936,614.7 L936.6,614.4 L937.3,614.1 L937.9,613.9 L938.5,613.7 L939.1,613.5 L939.7,613.4 L940.3,613.3 L940.9,613.3 L941.4,613.3 L942,613.3 L942.5,613.4 L943,613.6 L943.5,613.8 L944,614 L949,617 L949,617 L949.4,617.3 L949.9,617.6 L950.3,617.9 L950.6,618.3 L951,618.7 L951.3,619.2 L951.6,619.7 L951.9,620.2 L952.1,620.8 L952.3,621.3 L952.5,622 L952.6,622.6 L952.8,623.3 L952.8,624 L952.9,624.7 L952.9,625.4 L952.9,626.2 L952.8,627 L952.8,627.8 L952.6,628.6 L952.5,629.4 L952.3,630.2 L952.1,631 L951.9,631.8 L951.6,632.6 L951.3,633.5 L951,634.3 L950.6,635.1 L950.2,635.9 L949.8,636.7 L949.4,637.5 L948.9,638.2 L948.5,639 L948,639.7 L947.5,640.4 L946.9,641.1 L946.4,641.8 L945.8,642.4 L945.2,643 L944.7,643.6 L944.1,644.1 L943.5,644.6 L942.8,645.1 L942.2,645.5 L941.6,645.9 L941,646.3 L940.4,646.6 L939.7,646.9 L939.1,647.1 L938.5,647.3 L937.9,647.5 L937.3,647.6 L936.7,647.7 L936.1,647.7 L935.6,647.7 L935,647.7 L934.5,647.6 L934,647.4 L933.5,647.2 L933,647 Z" fill="#fff" stroke="#222" stroke-width="1.4" stroke-linejoin="round"/>
<ellipse cx="941" cy="632" rx="17" ry="10" transform="rotate(-62 941 632)" fill="#fff" stroke="#222" stroke-width="1.4" />
<ellipse cx="941" cy="632" rx="14" ry="8.3" transform="rotate(-62 941 632)" fill="none" stroke="#222" stroke-width="1.0" />
<path d="M938.6,645.2 L938.3,645 L938,644.8 L937.7,644.5 L937.4,644.2 L937.2,644 L937,643.6 L936.7,643.3 L936.6,642.9 L936.4,642.6 L936.2,642.2 L936.1,641.7 L936,641.3 L935.9,640.8 L935.9,640.3 L935.8,639.9 L935.8,639.4 L935.8,638.8 L935.8,638.3 L935.9,637.8 L935.9,637.2 L936,636.7 L936.2,636.1 L936.3,635.6 L936.5,635 L936.6,634.5 L936.8,633.9 L937.1,633.3 L937.3,632.8 L937.5,632.2 L937.8,631.7 L938.1,631.2 L938.4,630.7 L938.7,630.2 L939.1,629.7 L939.4,629.2 L939.8,628.7 L940.2,628.3 L940.5,627.9 L940.9,627.5 L941.3,627.1 L941.8,626.7 L942.2,626.4 L942.6,626.1 L943,625.8 L943.4,625.5 L943.9,625.3 L944.3,625 L944.7,624.9 L945.2,624.7 L945.6,624.6 L946,624.5 L946.4,624.4 L946.8,624.3 L947.2,624.3 L947.6,624.3 L948,624.4 L948.4,624.5 L948.7,624.6 L949.1,624.7 L949.4,624.8 L955.4,628.8 L955.4,628.8 L955.7,629 L956,629.2 L956.3,629.5 L956.6,629.8 L956.8,630 L957,630.4 L957.3,630.7 L957.4,631.1 L957.6,631.4 L957.8,631.8 L957.9,632.3 L958,632.7 L958.1,633.2 L958.1,633.7 L958.2,634.1 L958.2,634.6 L958.2,635.2 L958.2,635.7 L958.1,636.2 L958.1,636.8 L958,637.3 L957.8,637.9 L957.7,638.4 L957.5,639 L957.4,639.5 L957.2,640.1 L956.9,640.7 L956.7,641.2 L956.5,641.8 L956.2,642.3 L955.9,642.8 L955.6,643.3 L955.3,643.8 L954.9,644.3 L954.6,644.8 L954.2,645.3 L953.8,645.7 L953.5,646.1 L953.1,646.5 L952.7,646.9 L952.2,647.3 L951.8,647.6 L951.4,647.9 L951,648.2 L950.6,648.5 L950.1,648.7 L949.7,649 L949.3,649.1 L948.8,649.3 L948.4,649.4 L948,649.5 L947.6,649.6 L947.2,649.7 L946.8,649.7 L946.4,649.7 L946,649.6 L945.6,649.5 L945.3,649.4 L944.9,649.3 L944.6,649.2 Z" fill="#fff" stroke="#222" stroke-width="1.4" stroke-linejoin="round"/>
<ellipse cx="950" cy="639" rx="11.5" ry="7" transform="rotate(-62 950 639)" fill="#fff" stroke="#222" stroke-width="1.4" />
<ellipse cx="950.5" cy="639.5" rx="5.5" ry="3.3" transform="rotate(-62 950.5 639.5)" fill="#fff" stroke="#222" stroke-width="1.2" />
<path d="M980,682.5 L979.3,682.2 L978.7,681.7 L978.2,681.3 L977.6,680.7 L977.1,680.1 L976.7,679.5 L976.2,678.8 L975.9,678.1 L975.5,677.3 L975.2,676.5 L975,675.6 L974.8,674.7 L974.6,673.8 L974.5,672.8 L974.4,671.8 L974.4,670.8 L974.4,669.7 L974.4,668.6 L974.6,667.5 L974.7,666.4 L974.9,665.3 L975.1,664.2 L975.4,663.1 L975.8,661.9 L976.1,660.8 L976.5,659.6 L977,658.5 L977.5,657.4 L978,656.3 L978.6,655.2 L979.1,654.1 L979.8,653 L980.4,652 L981.1,651 L981.8,650 L982.6,649.1 L983.3,648.2 L984.1,647.3 L984.9,646.5 L985.7,645.7 L986.6,644.9 L987.4,644.2 L988.3,643.6 L989.1,643 L990,642.4 L990.9,642 L991.7,641.5 L992.6,641.1 L993.5,640.8 L994.3,640.5 L995.2,640.3 L996,640.2 L996.8,640.1 L997.6,640 L998.4,640 L999.2,640.1 L999.9,640.3 L1000.7,640.5 L1001.4,640.7 L1002,641.1 L1005.5,643.3 L1005.5,643.3 L1006.2,643.6 L1006.8,644.1 L1007.3,644.5 L1007.9,645.1 L1008.4,645.7 L1008.8,646.3 L1009.3,647 L1009.6,647.7 L1010,648.5 L1010.3,649.3 L1010.5,650.2 L1010.7,651.1 L1010.9,652 L1011,653 L1011.1,654 L1011.1,655 L1011.1,656.1 L1011.1,657.2 L1010.9,658.3 L1010.8,659.4 L1010.6,660.5 L1010.4,661.6 L1010.1,662.7 L1009.7,663.9 L1009.4,665 L1009,666.2 L1008.5,667.3 L1008,668.4 L1007.5,669.5 L1006.9,670.6 L1006.4,671.7 L1005.7,672.8 L1005.1,673.8 L1004.4,674.8 L1003.7,675.8 L1002.9,676.7 L1002.2,677.6 L1001.4,678.5 L1000.6,679.3 L999.8,680.1 L998.9,680.9 L998.1,681.6 L997.2,682.2 L996.4,682.8 L995.5,683.4 L994.6,683.8 L993.8,684.3 L992.9,684.7 L992,685 L991.2,685.3 L990.3,685.5 L989.5,685.6 L988.7,685.7 L987.9,685.8 L987.1,685.8 L986.3,685.7 L985.6,685.5 L984.8,685.3 L984.1,685.1 L983.5,684.7 Z" fill="#8a8a8a" stroke="#222" stroke-width="1.8" stroke-linejoin="round"/>
<ellipse cx="994.5" cy="664" rx="23.5" ry="14.1" transform="rotate(-62 994.5 664)" fill="#8a8a8a" stroke="#222" stroke-width="1.8" />
<ellipse cx="994.5" cy="664" rx="22.8" ry="13.7" transform="rotate(-62 994.5 664)" fill="#9c9c9c" stroke="#333" stroke-width="1.0" />
<ellipse cx="995.1" cy="664.4" rx="16.9" ry="10.2" transform="rotate(-62 995.1 664.4)" fill="#fff" stroke="#222" stroke-width="2.0" />
<path d="M984.6,676.8 L984.3,676.3 L984,675.7 L983.8,675.1 L983.6,674.5 L983.4,673.9 L983.3,673.2 L983.2,672.5 L983.2,671.8 L983.1,671 L983.1,670.2 L983.2,669.5 L983.2,668.7 L983.3,667.9 L983.5,667 L983.7,666.2 L983.9,665.4 L984.1,664.6 L984.4,663.7 L984.7,662.9 L985,662.1 L985.3,661.2 L985.7,660.4 L986.1,659.6 L986.6,658.8 L987,658.1 L987.5,657.3 L988,656.6 L988.5,655.9 L989.1,655.2 L989.6,654.5 L990.2,653.9 L990.8,653.3 L991.4,652.7 L992,652.2 L992.6,651.7 L993.2,651.2 L993.9,650.8 L994.5,650.4 L995.2,650 L995.8,649.7 L996.4,649.4 L997.1,649.2 L997.7,649 L998.3,648.9 L998.9,648.8 L999.5,648.7" fill="none" stroke="#333" stroke-width="3.0" />
<path d="M1013.7,701.9 L1013.1,701.6 L1012.5,701.2 L1012,700.7 L1011.5,700.2 L1011,699.7 L1010.6,699.1 L1010.2,698.4 L1009.8,697.7 L1009.5,697 L1009.2,696.2 L1009,695.4 L1008.8,694.6 L1008.6,693.7 L1008.5,692.8 L1008.5,691.9 L1008.4,690.9 L1008.4,689.9 L1008.5,688.9 L1008.6,687.9 L1008.7,686.8 L1008.9,685.8 L1009.2,684.7 L1009.4,683.7 L1009.7,682.6 L1010.1,681.5 L1010.5,680.5 L1010.9,679.4 L1011.3,678.4 L1011.8,677.3 L1012.3,676.3 L1012.9,675.3 L1013.5,674.3 L1014.1,673.3 L1014.7,672.4 L1015.4,671.5 L1016.1,670.6 L1016.8,669.8 L1017.6,668.9 L1018.3,668.2 L1019.1,667.4 L1019.9,666.7 L1020.6,666.1 L1021.4,665.5 L1022.2,664.9 L1023.1,664.4 L1023.9,663.9 L1024.7,663.5 L1025.5,663.1 L1026.3,662.8 L1027.1,662.6 L1027.9,662.4 L1028.7,662.2 L1029.5,662.1 L1030.2,662.1 L1031,662.1 L1031.7,662.2 L1032.4,662.3 L1033.1,662.5 L1033.7,662.8 L1034.3,663.1 L1046.3,670.1 L1046.3,670.1 L1046.9,670.4 L1047.5,670.8 L1048,671.3 L1048.5,671.8 L1049,672.3 L1049.4,672.9 L1049.8,673.6 L1050.2,674.3 L1050.5,675 L1050.8,675.8 L1051,676.6 L1051.2,677.4 L1051.4,678.3 L1051.5,679.2 L1051.5,680.1 L1051.6,681.1 L1051.6,682.1 L1051.5,683.1 L1051.4,684.1 L1051.3,685.2 L1051.1,686.2 L1050.8,687.3 L1050.6,688.3 L1050.3,689.4 L1049.9,690.5 L1049.5,691.5 L1049.1,692.6 L1048.7,693.6 L1048.2,694.7 L1047.7,695.7 L1047.1,696.7 L1046.5,697.7 L1045.9,698.7 L1045.3,699.6 L1044.6,700.5 L1043.9,701.4 L1043.2,702.2 L1042.4,703.1 L1041.7,703.8 L1040.9,704.6 L1040.1,705.3 L1039.4,705.9 L1038.6,706.5 L1037.8,707.1 L1036.9,707.6 L1036.1,708.1 L1035.3,708.5 L1034.5,708.9 L1033.7,709.2 L1032.9,709.4 L1032.1,709.6 L1031.3,709.8 L1030.5,709.9 L1029.8,709.9 L1029,709.9 L1028.3,709.8 L1027.6,709.7 L1026.9,709.5 L1026.3,709.2 L1025.7,708.9 Z" fill="#fff" stroke="#222" stroke-width="1.6" stroke-linejoin="round"/>
<ellipse cx="1036" cy="689.5" rx="22" ry="13.2" transform="rotate(-62 1036 689.5)" fill="#fff" stroke="#222" stroke-width="1.6" />
<ellipse cx="1036" cy="689.5" rx="19.8" ry="11.9" transform="rotate(-62 1036 689.5)" fill="none" stroke="#222" stroke-width="1.0" />
<ellipse cx="1036" cy="689.5" rx="17.2" ry="10.3" transform="rotate(-62 1036 689.5)" fill="none" stroke="#222" stroke-width="1.0" />
<circle cx="1043.4" cy="675.5" r="1.3" fill="#333"/>
<circle cx="1046.3" cy="678.8" r="1.3" fill="#333"/>
<circle cx="1047.2" cy="684.3" r="1.3" fill="#333"/>
<circle cx="1045.8" cy="690.7" r="1.3" fill="#333"/>
<circle cx="1042.5" cy="697" r="1.3" fill="#333"/>
<circle cx="1037.9" cy="701.7" r="1.3" fill="#333"/>
<circle cx="1032.9" cy="704" r="1.3" fill="#333"/>
<circle cx="1028.6" cy="703.5" r="1.3" fill="#333"/>
<circle cx="1025.7" cy="700.2" r="1.3" fill="#333"/>
<circle cx="1024.8" cy="694.7" r="1.3" fill="#333"/>
<circle cx="1026.2" cy="688.3" r="1.3" fill="#333"/>
<circle cx="1029.5" cy="682" r="1.3" fill="#333"/>
<circle cx="1034.1" cy="677.3" r="1.3" fill="#333"/>
<circle cx="1039.1" cy="675" r="1.3" fill="#333"/>
<ellipse cx="1036" cy="689.5" rx="13.6" ry="8.2" transform="rotate(-62 1036 689.5)" fill="none" stroke="#222" stroke-width="1.2" />
<ellipse cx="1036" cy="689.5" rx="11.4" ry="6.9" transform="rotate(-62 1036 689.5)" fill="none" stroke="#222" stroke-width="1.0" />
<ellipse cx="1036.5" cy="689.8" rx="9.2" ry="5.5" transform="rotate(-62 1036.5 689.8)" fill="#fff" stroke="#222" stroke-width="1.3" />
<path d="M1053.3,720.3 L1052.8,720 L1052.3,719.7 L1051.9,719.3 L1051.5,718.9 L1051.1,718.4 L1050.7,717.9 L1050.4,717.4 L1050.1,716.8 L1049.8,716.2 L1049.6,715.5 L1049.4,714.9 L1049.2,714.2 L1049.1,713.4 L1049,712.7 L1048.9,711.9 L1048.9,711.1 L1048.9,710.2 L1049,709.4 L1049.1,708.5 L1049.2,707.7 L1049.3,706.8 L1049.5,705.9 L1049.7,705 L1050,704.1 L1050.3,703.2 L1050.6,702.3 L1051,701.4 L1051.3,700.5 L1051.8,699.7 L1052.2,698.8 L1052.7,697.9 L1053.2,697.1 L1053.7,696.3 L1054.2,695.5 L1054.8,694.7 L1055.4,694 L1056,693.3 L1056.6,692.6 L1057.2,691.9 L1057.9,691.3 L1058.5,690.7 L1059.2,690.2 L1059.8,689.7 L1060.5,689.2 L1061.2,688.8 L1061.9,688.4 L1062.6,688 L1063.3,687.7 L1063.9,687.5 L1064.6,687.2 L1065.3,687.1 L1065.9,687 L1066.6,686.9 L1067.2,686.9 L1067.9,686.9 L1068.5,686.9 L1069,687.1 L1069.6,687.2 L1070.2,687.4 L1070.7,687.7 L1149.7,731.7 L1149.7,731.7 L1150.2,732 L1150.7,732.3 L1151.1,732.7 L1151.5,733.1 L1151.9,733.6 L1152.3,734.1 L1152.6,734.6 L1152.9,735.2 L1153.2,735.8 L1153.4,736.5 L1153.6,737.1 L1153.8,737.8 L1153.9,738.6 L1154,739.3 L1154.1,740.1 L1154.1,740.9 L1154.1,741.8 L1154,742.6 L1153.9,743.5 L1153.8,744.3 L1153.7,745.2 L1153.5,746.1 L1153.3,747 L1153,747.9 L1152.7,748.8 L1152.4,749.7 L1152,750.6 L1151.7,751.5 L1151.2,752.3 L1150.8,753.2 L1150.3,754.1 L1149.8,754.9 L1149.3,755.7 L1148.8,756.5 L1148.2,757.3 L1147.6,758 L1147,758.7 L1146.4,759.4 L1145.8,760.1 L1145.1,760.7 L1144.5,761.3 L1143.8,761.8 L1143.2,762.3 L1142.5,762.8 L1141.8,763.2 L1141.1,763.6 L1140.4,764 L1139.7,764.3 L1139.1,764.5 L1138.4,764.8 L1137.7,764.9 L1137.1,765 L1136.4,765.1 L1135.8,765.1 L1135.1,765.1 L1134.5,765.1 L1134,764.9 L1133.4,764.8 L1132.8,764.6 L1132.3,764.3 Z" fill="#fff" stroke="#222" stroke-width="1.6" stroke-linejoin="round"/>
<ellipse cx="1141" cy="748" rx="18.5" ry="11.1" transform="rotate(-62 1141 748)" fill="#fff" stroke="#222" stroke-width="1.6" />
<ellipse cx="1141" cy="748" rx="15" ry="9" transform="rotate(-62 1141 748)" fill="#fff" stroke="#222" stroke-width="1.2" />
<line x1="1141" y1="748" x2="1160" y2="759.5" stroke="#222" stroke-width="1.3" />
<path d="M1199,821.4 L1197.9,820.8 L1196.9,820 L1196,819.2 L1195.1,818.3 L1194.2,817.3 L1193.4,816.3 L1192.7,815.2 L1192,814 L1191.4,812.8 L1190.9,811.5 L1190.4,810.2 L1190,808.8 L1189.7,807.3 L1189.5,805.9 L1189.3,804.3 L1189.2,802.8 L1189.1,801.2 L1189.2,799.6 L1189.3,798 L1189.5,796.3 L1189.8,794.7 L1190.1,793 L1190.5,791.3 L1191,789.7 L1191.5,788 L1192.1,786.4 L1192.8,784.8 L1193.6,783.1 L1194.4,781.6 L1195.2,780 L1196.1,778.5 L1197.1,777 L1198.1,775.5 L1199.2,774.1 L1200.3,772.8 L1201.5,771.5 L1202.7,770.2 L1203.9,769.1 L1205.2,767.9 L1206.5,766.9 L1207.8,765.9 L1209.2,765 L1210.5,764.1 L1211.9,763.4 L1213.3,762.7 L1214.7,762.1 L1216.1,761.6 L1217.5,761.1 L1218.9,760.8 L1220.3,760.5 L1221.7,760.3 L1223.1,760.2 L1224.4,760.2 L1225.7,760.3 L1227,760.5 L1228.3,760.7 L1229.5,761 L1230.7,761.5 L1231.9,762 L1233,762.6 L1309,808.6 L1309,808.6 L1310.1,809.2 L1311.1,810 L1312,810.8 L1312.9,811.7 L1313.8,812.7 L1314.6,813.7 L1315.3,814.8 L1316,816 L1316.6,817.2 L1317.1,818.5 L1317.6,819.8 L1318,821.2 L1318.3,822.7 L1318.5,824.1 L1318.7,825.7 L1318.8,827.2 L1318.9,828.8 L1318.8,830.4 L1318.7,832 L1318.5,833.7 L1318.2,835.3 L1317.9,837 L1317.5,838.7 L1317,840.3 L1316.5,842 L1315.9,843.6 L1315.2,845.2 L1314.4,846.9 L1313.6,848.4 L1312.8,850 L1311.9,851.5 L1310.9,853 L1309.9,854.5 L1308.8,855.9 L1307.7,857.2 L1306.5,858.5 L1305.3,859.8 L1304.1,860.9 L1302.8,862.1 L1301.5,863.1 L1300.2,864.1 L1298.8,865 L1297.5,865.9 L1296.1,866.6 L1294.7,867.3 L1293.3,867.9 L1291.9,868.4 L1290.5,868.9 L1289.1,869.2 L1287.7,869.5 L1286.3,869.7 L1284.9,869.8 L1283.6,869.8 L1282.3,869.7 L1281,869.5 L1279.7,869.3 L1278.5,869 L1277.3,868.5 L1276.1,868 L1275,867.4 Z" fill="#fff" stroke="#222" stroke-width="1.5" stroke-linejoin="round"/>
<path d="M1227.7,722.9 L1227.9,724 L1228.2,725.1 L1228.4,726.1 L1229,726.6 L1229.6,727 L1230.2,727.5 L1230.8,728 L1231.4,728.5 L1231.9,729 L1232.5,729.5 L1233,730 L1233.6,730.6 L1234.1,731.2 L1234.6,731.8 L1235.1,732.4 L1235.5,733 L1236,733.6 L1236.5,734.3 L1236.9,734.9 L1237.3,735.6 L1237.8,736.3 L1238.2,737 L1238.5,737.7 L1238.9,738.4 L1239.3,739.1 L1239.6,739.9 L1240,740.6 L1240.3,741.4 L1240.6,742.2 L1240.9,743 L1241.2,743.8 L1241.4,744.6 L1241.7,745.5 L1241.9,746.3 L1242.2,747.1 L1242.4,748 L1242.6,748.9 L1243.3,749.4 L1244.1,749.9 L1244.8,750.5 L1245.6,751.1 L1246.3,751.7 L1247,752.4 L1247.7,753.1 L1248.4,753.8 L1249.1,754.6 L1249.7,755.4 L1250.4,756.2 L1251,757 L1251.6,757.9 L1251,759.3 L1250.3,760.6 L1249.7,761.9 L1249,763.2 L1248.4,764.5 L1247.7,765.7 L1247,767 L1246.2,768.2 L1245.5,769.4 L1244.8,770.5 L1244,771.7 L1243.3,772.8 L1242.5,773.9 L1242.3,774.9 L1242.1,775.9 L1241.8,776.9 L1241.6,778 L1241.3,779 L1241.1,780 L1240.8,781 L1240.5,782.1 L1240.2,783.1 L1239.8,784.1 L1239.5,785.1 L1239.1,786.1 L1238.8,787.2 L1238.4,788.2 L1238,789.2 L1237.6,790.2 L1237.1,791.2 L1236.7,792.2 L1236.3,793.2 L1235.8,794.2 L1235.3,795.2 L1234.8,796.2 L1234.3,797.1 L1233.8,798.1 L1233.3,799.1 L1232.8,800 L1232.2,801 L1231.7,801.9 L1231.1,802.9 L1230.5,803.8 L1230,804.8 L1229.4,805.7 L1228.7,806.6 L1228.1,807.5 L1227.5,808.4 L1226.9,809.3 L1226.2,810.1 L1225.5,811 L1224.9,811.9 L1224.2,812.7 L1223.5,813.6 L1222.8,814.4 L1222.1,815.2 L1221.4,816 L1220.7,816.8 L1220,817.6 L1219.2,818.4 L1218.5,819.1 L1217.7,819.9 L1217,820.6 L1216.2,821.3 L1215.4,822 L1214.7,822.7 L1213.9,823.4 L1213.1,824.1 L1212.3,824.8 L1211.5,825.4 L1210.7,826 L1209.9,826.6 L1209.1,827.2 L1208.3,827.8 L1207.4,828.4 L1206.6,829 L1205.8,829.5 L1205,830 L1204.1,830.5 L1203.3,831 L1202.4,831.5 L1201.6,832 L1200.8,832.4 L1199.9,832.9 L1199.1,833.3 L1198.2,833.7 L1197.4,834.1 L1196.5,834.4 L1195.7,834.8 L1194.8,835.1 L1194,835.4 L1193.1,835.7 L1192.3,836 L1191.4,836.3 L1190.6,836.5 L1189.7,836.8 L1188.9,837 L1188,837.2 L1187.2,837.3 L1186.3,837.5 L1185.5,837.6 L1184.7,837.8 L1183.8,837.9 L1183,838 L1182.2,838 L1181.4,838.1 L1180.6,838.1 L1179.7,838.1 L1178.9,838.1 L1178.1,838.1 L1177.3,838.1 L1176.5,838 L1175.8,838 L1175,837.9 L1174.2,837.8 L1173.4,837.6 L1172.7,837.5 L1171.6,838 L1170.6,838.6 L1169.5,839.1 L1168.5,839.6 L1167.4,840 L1166.3,840.5 L1165.2,840.9 L1164.1,841.3 L1163,841.6 L1161.9,842 L1160.7,842.3 L1159.6,842.5 L1158.5,842.8 L1158.1,841.7 L1157.8,840.6 L1157.5,839.4 L1157.2,838.3 L1157,837.1 L1156.7,836 L1156.6,834.8 L1156.4,833.7 L1156.2,832.5 L1156.1,831.3 L1156,830.2 L1156,829 L1155.9,827.8 L1155.4,827.2 L1154.9,826.6 L1154.5,826 L1154,825.4 L1153.5,824.7 L1153.1,824.1 L1152.7,823.4 L1152.2,822.7 L1151.8,822 L1151.5,821.3 L1151.1,820.6 L1150.7,819.9 L1150.4,819.1 L1150,818.4 L1149.7,817.6 L1149.4,816.8 L1149.1,816 L1148.8,815.2 L1148.6,814.4 L1148.3,813.5 L1148.1,812.7 L1147.8,811.9 L1147.6,811 L1147.4,810.1 L1147.3,809.3 L1147.1,808.4 L1146.9,807.5 L1146.8,806.6 L1146.7,805.7 L1146.6,804.7 L1146.5,803.8 L1145.8,803.2 L1145.1,802.5 L1144.5,801.8 L1143.8,801 L1143.2,800.3 L1142.6,799.5 L1142,798.6 L1141.5,797.8 L1140.9,796.9 L1140.4,796 L1139.9,795 L1139.4,794.1 L1138.9,793.1 L1139.6,791.8 L1140.3,790.5 L1141.1,789.2 L1141.9,788 L1142.6,786.8 L1143.4,785.6 L1144.2,784.4 L1145,783.3 L1145.9,782.2 L1146.7,781.1 L1147.5,780 L1148.4,779 L1149.2,778 L1149.5,776.9 L1149.8,775.9 L1150.2,774.9 L1150.5,773.9 L1150.9,772.9 L1151.2,771.8 L1151.6,770.8 L1152,769.8 L1152.4,768.8 L1152.9,767.8 L1153.3,766.8 L1153.7,765.8 L1154.2,764.8 L1154.7,763.8 L1155.2,762.8 L1155.7,761.9 L1156.2,760.9 L1156.7,759.9 L1157.2,759 L1157.8,758 L1158.3,757.1 L1158.9,756.1 L1159.5,755.2 L1160,754.2 L1160.6,753.3 L1161.3,752.4 L1161.9,751.5 L1162.5,750.6 L1163.1,749.7 L1163.8,748.9 L1164.1,747.6 L1164.4,746.3 L1164.7,745.1 L1165.1,743.8 L1165.5,742.5 L1165.9,741.2 L1166.3,739.8 L1166.8,738.5 L1167.3,737.2 L1167.8,735.9 L1168.3,734.5 L1168.9,733.2 L1169.5,731.8 L1170.7,731.5 L1171.8,731.2 L1172.9,730.9 L1174,730.7 L1175.1,730.5 L1176.2,730.3 L1177.3,730.2 L1178.3,730.1 L1179.4,730 L1180.4,730 L1181.4,730 L1182.4,730 L1183.4,730 L1184.2,729.5 L1185,729 L1185.9,728.5 L1186.7,728 L1187.6,727.5 L1188.4,727 L1189.2,726.6 L1190.1,726.1 L1190.9,725.7 L1191.8,725.3 L1192.6,724.9 L1193.5,724.6 L1194.3,724.2 L1195.2,723.9 L1196,723.6 L1196.9,723.3 L1197.7,723 L1198.6,722.7 L1199.4,722.5 L1200.3,722.2 L1201.1,722 L1202,721.8 L1202.8,721.7 L1203.7,721.5 L1204.5,721.4 L1205.3,721.2 L1206.2,721.1 L1207,721 L1207.8,721 L1208.6,720.9 L1209.4,720.9 L1210.4,720.1 L1211.5,719.4 L1212.5,718.7 L1213.5,718 L1214.6,717.4 L1215.7,716.7 L1216.7,716.1 L1217.8,715.5 L1218.9,714.9 L1220.1,714.4 L1221.2,713.8 L1222.3,713.3 L1223.5,712.8 L1224,713.8 L1224.5,714.8 L1225,715.7 L1225.5,716.7 L1225.9,717.7 L1226.3,718.8 L1226.7,719.8 L1227,720.8 L1227.4,721.9 L1227.7,722.9Z" fill="#fff" stroke="#222" stroke-width="1.5" stroke-linejoin="round"/>
<path d="M1232.7,725.9 L1232.9,727 L1233.2,728.1 L1233.4,729.1 L1234,729.6 L1234.6,730 L1235.2,730.5 L1235.8,731 L1236.4,731.5 L1236.9,732 L1237.5,732.5 L1238,733 L1238.6,733.6 L1239.1,734.2 L1239.6,734.8 L1240.1,735.4 L1240.5,736 L1241,736.6 L1241.5,737.3 L1241.9,737.9 L1242.3,738.6 L1242.8,739.3 L1243.2,740 L1243.5,740.7 L1243.9,741.4 L1244.3,742.1 L1244.6,742.9 L1245,743.6 L1245.3,744.4 L1245.6,745.2 L1245.9,746 L1246.2,746.8 L1246.4,747.6 L1246.7,748.5 L1246.9,749.3 L1247.2,750.1 L1247.4,751 L1247.6,751.9 L1248.3,752.4 L1249.1,752.9 L1249.8,753.5 L1250.6,754.1 L1251.3,754.7 L1252,755.4 L1252.7,756.1 L1253.4,756.8 L1254.1,757.6 L1254.7,758.4 L1255.4,759.2 L1256,760 L1256.6,760.9 L1256,762.3 L1255.3,763.6 L1254.7,764.9 L1254,766.2 L1253.4,767.5 L1252.7,768.7 L1252,770 L1251.2,771.2 L1250.5,772.4 L1249.8,773.5 L1249,774.7 L1248.3,775.8 L1247.5,776.9 L1247.3,777.9 L1247.1,778.9 L1246.8,779.9 L1246.6,781 L1246.3,782 L1246.1,783 L1245.8,784 L1245.5,785.1 L1245.2,786.1 L1244.8,787.1 L1244.5,788.1 L1244.1,789.1 L1243.8,790.2 L1243.4,791.2 L1243,792.2 L1242.6,793.2 L1242.1,794.2 L1241.7,795.2 L1241.3,796.2 L1240.8,797.2 L1240.3,798.2 L1239.8,799.2 L1239.3,800.1 L1238.8,801.1 L1238.3,802.1 L1237.8,803 L1237.2,804 L1236.7,804.9 L1236.1,805.9 L1235.5,806.8 L1235,807.8 L1234.4,808.7 L1233.7,809.6 L1233.1,810.5 L1232.5,811.4 L1231.9,812.3 L1231.2,813.1 L1230.5,814 L1229.9,814.9 L1229.2,815.7 L1228.5,816.6 L1227.8,817.4 L1227.1,818.2 L1226.4,819 L1225.7,819.8 L1225,820.6 L1224.2,821.4 L1223.5,822.1 L1222.7,822.9 L1222,823.6 L1221.2,824.3 L1220.4,825 L1219.7,825.7 L1218.9,826.4 L1218.1,827.1 L1217.3,827.8 L1216.5,828.4 L1215.7,829 L1214.9,829.6 L1214.1,830.2 L1213.3,830.8 L1212.4,831.4 L1211.6,832 L1210.8,832.5 L1210,833 L1209.1,833.5 L1208.3,834 L1207.4,834.5 L1206.6,835 L1205.8,835.4 L1204.9,835.9 L1204.1,836.3 L1203.2,836.7 L1202.4,837.1 L1201.5,837.4 L1200.7,837.8 L1199.8,838.1 L1199,838.4 L1198.1,838.7 L1197.3,839 L1196.4,839.3 L1195.6,839.5 L1194.7,839.8 L1193.9,840 L1193,840.2 L1192.2,840.3 L1191.3,840.5 L1190.5,840.6 L1189.7,840.8 L1188.8,840.9 L1188,841 L1187.2,841 L1186.4,841.1 L1185.6,841.1 L1184.7,841.1 L1183.9,841.1 L1183.1,841.1 L1182.3,841.1 L1181.5,841 L1180.8,841 L1180,840.9 L1179.2,840.8 L1178.4,840.6 L1177.7,840.5 L1176.6,841 L1175.6,841.6 L1174.5,842.1 L1173.5,842.6 L1172.4,843 L1171.3,843.5 L1170.2,843.9 L1169.1,844.3 L1168,844.6 L1166.9,845 L1165.7,845.3 L1164.6,845.5 L1163.5,845.8 L1163.1,844.7 L1162.8,843.6 L1162.5,842.4 L1162.2,841.3 L1162,840.1 L1161.7,839 L1161.6,837.8 L1161.4,836.7 L1161.2,835.5 L1161.1,834.3 L1161,833.2 L1161,832 L1160.9,830.8 L1160.4,830.2 L1159.9,829.6 L1159.5,829 L1159,828.4 L1158.5,827.7 L1158.1,827.1 L1157.7,826.4 L1157.2,825.7 L1156.8,825 L1156.5,824.3 L1156.1,823.6 L1155.7,822.9 L1155.4,822.1 L1155,821.4 L1154.7,820.6 L1154.4,819.8 L1154.1,819 L1153.8,818.2 L1153.6,817.4 L1153.3,816.5 L1153.1,815.7 L1152.8,814.9 L1152.6,814 L1152.4,813.1 L1152.3,812.3 L1152.1,811.4 L1151.9,810.5 L1151.8,809.6 L1151.7,808.7 L1151.6,807.7 L1151.5,806.8 L1150.8,806.2 L1150.1,805.5 L1149.5,804.8 L1148.8,804 L1148.2,803.3 L1147.6,802.5 L1147,801.6 L1146.5,800.8 L1145.9,799.9 L1145.4,799 L1144.9,798 L1144.4,797.1 L1143.9,796.1 L1144.6,794.8 L1145.3,793.5 L1146.1,792.2 L1146.9,791 L1147.6,789.8 L1148.4,788.6 L1149.2,787.4 L1150,786.3 L1150.9,785.2 L1151.7,784.1 L1152.5,783 L1153.4,782 L1154.2,781 L1154.5,779.9 L1154.8,778.9 L1155.2,777.9 L1155.5,776.9 L1155.9,775.9 L1156.2,774.8 L1156.6,773.8 L1157,772.8 L1157.4,771.8 L1157.9,770.8 L1158.3,769.8 L1158.7,768.8 L1159.2,767.8 L1159.7,766.8 L1160.2,765.8 L1160.7,764.9 L1161.2,763.9 L1161.7,762.9 L1162.2,762 L1162.8,761 L1163.3,760.1 L1163.9,759.1 L1164.5,758.2 L1165,757.2 L1165.6,756.3 L1166.3,755.4 L1166.9,754.5 L1167.5,753.6 L1168.1,752.7 L1168.8,751.9 L1169.1,750.6 L1169.4,749.3 L1169.7,748.1 L1170.1,746.8 L1170.5,745.5 L1170.9,744.2 L1171.3,742.8 L1171.8,741.5 L1172.3,740.2 L1172.8,738.9 L1173.3,737.5 L1173.9,736.2 L1174.5,734.8 L1175.7,734.5 L1176.8,734.2 L1177.9,733.9 L1179,733.7 L1180.1,733.5 L1181.2,733.3 L1182.3,733.2 L1183.3,733.1 L1184.4,733 L1185.4,733 L1186.4,733 L1187.4,733 L1188.4,733 L1189.2,732.5 L1190,732 L1190.9,731.5 L1191.7,731 L1192.6,730.5 L1193.4,730 L1194.2,729.6 L1195.1,729.1 L1195.9,728.7 L1196.8,728.3 L1197.6,727.9 L1198.5,727.6 L1199.3,727.2 L1200.2,726.9 L1201,726.6 L1201.9,726.3 L1202.7,726 L1203.6,725.7 L1204.4,725.5 L1205.3,725.2 L1206.1,725 L1207,724.8 L1207.8,724.7 L1208.7,724.5 L1209.5,724.4 L1210.3,724.2 L1211.2,724.1 L1212,724 L1212.8,724 L1213.6,723.9 L1214.4,723.9 L1215.4,723.1 L1216.5,722.4 L1217.5,721.7 L1218.5,721 L1219.6,720.4 L1220.7,719.7 L1221.7,719.1 L1222.8,718.5 L1223.9,717.9 L1225.1,717.4 L1226.2,716.8 L1227.3,716.3 L1228.5,715.8 L1229,716.8 L1229.5,717.8 L1230,718.7 L1230.5,719.7 L1230.9,720.7 L1231.3,721.8 L1231.7,722.8 L1232,723.8 L1232.4,724.9 L1232.7,725.9Z" fill="#fff" stroke="#222" stroke-width="1.6" stroke-linejoin="round"/>
<ellipse cx="1200" cy="782.5" rx="59.8" ry="40.9" transform="rotate(-60 1200 782.5)" fill="none" stroke="#222" stroke-width="1.0" />
<ellipse cx="1205" cy="785.5" rx="50.4" ry="34.4" transform="rotate(-60 1205 785.5)" fill="#fff" stroke="#222" stroke-width="1.3" />
<ellipse cx="1207" cy="787" rx="46.6" ry="31.8" transform="rotate(-60 1207 787)" fill="none" stroke="#222" stroke-width="1.0" />
<path d="M1192,819.7 L1190.9,819 L1189.8,818.2 L1188.8,817.3 L1187.9,816.4 L1187,815.4 L1186.2,814.3 L1185.4,813.1 L1184.8,811.9 L1184.1,810.6 L1183.6,809.2 L1183.1,807.8 L1182.7,806.4 L1182.4,804.9 L1182.1,803.3 L1182,801.7 L1181.9,800.1 L1181.8,798.4 L1181.9,796.7 L1182,795 L1182.2,793.3 L1182.5,791.5 L1182.9,789.8 L1183.3,788 L1183.8,786.2 L1184.4,784.5 L1185.1,782.8 L1185.8,781 L1186.6,779.3 L1187.4,777.6 L1188.3,776 L1189.3,774.4 L1190.3,772.8 L1191.4,771.3 L1192.6,769.8 L1193.7,768.4 L1195,767 L1196.2,765.7 L1197.5,764.4 L1198.9,763.2 L1200.2,762.1 L1201.6,761 L1203.1,760.1 L1204.5,759.2 L1206,758.3 L1207.4,757.6 L1208.9,757 L1210.4,756.4 L1211.8,755.9 L1213.3,755.5 L1214.8,755.2 L1216.2,755 L1217.6,754.9 L1219,754.9 L1220.4,755 L1221.8,755.2 L1223.1,755.4 L1224.4,755.8 L1225.6,756.2 L1226.8,756.7 L1228,757.3 L1236,762.3 L1236,762.3 L1237.1,763 L1238.2,763.8 L1239.2,764.7 L1240.1,765.6 L1241,766.6 L1241.8,767.7 L1242.6,768.9 L1243.2,770.1 L1243.9,771.4 L1244.4,772.8 L1244.9,774.2 L1245.3,775.6 L1245.6,777.1 L1245.9,778.7 L1246,780.3 L1246.1,781.9 L1246.2,783.6 L1246.1,785.3 L1246,787 L1245.8,788.7 L1245.5,790.5 L1245.1,792.2 L1244.7,794 L1244.2,795.8 L1243.6,797.5 L1242.9,799.2 L1242.2,801 L1241.4,802.7 L1240.6,804.4 L1239.7,806 L1238.7,807.6 L1237.7,809.2 L1236.6,810.7 L1235.4,812.2 L1234.3,813.6 L1233,815 L1231.8,816.3 L1230.5,817.6 L1229.1,818.8 L1227.8,819.9 L1226.4,821 L1224.9,821.9 L1223.5,822.8 L1222,823.7 L1220.6,824.4 L1219.1,825 L1217.6,825.6 L1216.2,826.1 L1214.7,826.5 L1213.2,826.8 L1211.8,827 L1210.4,827.1 L1209,827.1 L1207.6,827 L1206.2,826.8 L1204.9,826.6 L1203.6,826.2 L1202.4,825.8 L1201.2,825.3 L1200,824.7 Z" fill="#fff" stroke="#222" stroke-width="1.3" stroke-linejoin="round"/>
<path d="M1203,821.7 L1202,821.1 L1201.1,820.4 L1200.1,819.6 L1199.3,818.8 L1198.5,817.9 L1197.8,816.9 L1197.1,815.8 L1196.5,814.7 L1195.9,813.6 L1195.4,812.4 L1195,811.1 L1194.6,809.8 L1194.3,808.5 L1194.1,807.1 L1193.9,805.6 L1193.8,804.2 L1193.8,802.7 L1193.8,801.2 L1193.9,799.7 L1194.1,798.1 L1194.4,796.6 L1194.7,795 L1195.1,793.4 L1195.5,791.9 L1196,790.3 L1196.6,788.8 L1197.3,787.2 L1197.9,785.7 L1198.7,784.2 L1199.5,782.8 L1200.4,781.3 L1201.3,779.9 L1202.3,778.6 L1203.3,777.2 L1204.3,776 L1205.4,774.7 L1206.5,773.6 L1207.7,772.5 L1208.9,771.4 L1210.1,770.4 L1211.4,769.5 L1212.6,768.6 L1213.9,767.8 L1215.2,767.1 L1216.5,766.4 L1217.9,765.9 L1219.2,765.4 L1220.5,765 L1221.8,764.6 L1223.1,764.4 L1224.4,764.2 L1225.7,764.1 L1227,764.1 L1228.2,764.2 L1229.4,764.3 L1230.6,764.6 L1231.8,764.9 L1232.9,765.3 L1234,765.7 L1235,766.3 L1310,811.3 L1310,811.3 L1311,811.9 L1311.9,812.6 L1312.9,813.4 L1313.7,814.2 L1314.5,815.1 L1315.2,816.1 L1315.9,817.2 L1316.5,818.3 L1317.1,819.4 L1317.6,820.6 L1318,821.9 L1318.4,823.2 L1318.7,824.5 L1318.9,825.9 L1319.1,827.4 L1319.2,828.8 L1319.2,830.3 L1319.2,831.8 L1319.1,833.3 L1318.9,834.9 L1318.6,836.4 L1318.3,838 L1317.9,839.6 L1317.5,841.1 L1317,842.7 L1316.4,844.2 L1315.7,845.8 L1315.1,847.3 L1314.3,848.8 L1313.5,850.2 L1312.6,851.7 L1311.7,853.1 L1310.7,854.4 L1309.7,855.8 L1308.7,857 L1307.6,858.3 L1306.5,859.4 L1305.3,860.5 L1304.1,861.6 L1302.9,862.6 L1301.6,863.5 L1300.4,864.4 L1299.1,865.2 L1297.8,865.9 L1296.5,866.6 L1295.1,867.1 L1293.8,867.6 L1292.5,868 L1291.2,868.4 L1289.9,868.6 L1288.6,868.8 L1287.3,868.9 L1286,868.9 L1284.8,868.8 L1283.6,868.7 L1282.4,868.4 L1281.2,868.1 L1280.1,867.7 L1279,867.3 L1278,866.7 Z" fill="#fff" stroke="#222" stroke-width="1.5" stroke-linejoin="round"/>
<ellipse cx="1176.5" cy="738.5" rx="2.6" ry="2" transform="rotate(-50 1176.5 738.5)" fill="#fff" stroke="#222" stroke-width="1.2" />
<line x1="1172.1" y1="749.1" x2="1185.4" y2="736.3" stroke="#222" stroke-width="1.2" />
<ellipse cx="1226.3" cy="721" rx="2.6" ry="2" transform="rotate(-50 1226.3 721)" fill="#fff" stroke="#222" stroke-width="1.2" />
<line x1="1217.3" y1="725.1" x2="1230.2" y2="728.7" stroke="#222" stroke-width="1.2" />
<ellipse cx="1252.2" cy="762.6" rx="2.6" ry="2" transform="rotate(-50 1252.2 762.6)" fill="#fff" stroke="#222" stroke-width="1.2" />
<line x1="1247.2" y1="756" x2="1247.2" y2="773" stroke="#222" stroke-width="1.2" />
<ellipse cx="1166.3" cy="840.9" rx="2.6" ry="2" transform="rotate(-50 1166.3 840.9)" fill="#fff" stroke="#222" stroke-width="1.2" />
<line x1="1175.2" y1="838.6" x2="1163.8" y2="832" stroke="#222" stroke-width="1.2" />
<ellipse cx="1148.2" cy="795" rx="2.6" ry="2" transform="rotate(-50 1148.2 795)" fill="#fff" stroke="#222" stroke-width="1.2" />
<line x1="1152.2" y1="802.6" x2="1154.1" y2="785" stroke="#222" stroke-width="1.2" />
<ellipse cx="1164.1" cy="770.6" rx="2.4" ry="1.9" transform="rotate(-50 1164.1 770.6)" fill="#fff" stroke="#222" stroke-width="1.0" />
<ellipse cx="1160.2" cy="781.2" rx="2.4" ry="1.9" transform="rotate(-50 1160.2 781.2)" fill="#fff" stroke="#222" stroke-width="1.0" />
<ellipse cx="1192.5" cy="833" rx="2.4" ry="1.9" transform="rotate(-50 1192.5 833)" fill="#fff" stroke="#222" stroke-width="1.0" />
<ellipse cx="1207.5" cy="732" rx="2.4" ry="1.9" transform="rotate(-50 1207.5 732)" fill="#fff" stroke="#222" stroke-width="1.0" />
<path d="M1338.3,762.8 L1338.7,763.8 L1339.1,764.9 L1339.4,766.1 L1339.6,767.4 L1339.8,768.8 L1339.9,770.3 L1339.9,771.8 L1339.9,773.3 L1339.8,774.8 L1339.7,776.3 L1339.6,777.8 L1339.5,779.2 L1339.4,780.7 L1339.4,782 L1339.3,783.3 L1339.3,784.5 L1339.4,785.6 L1339.5,786.6 L1339.7,787.5 L1339.9,788.4 L1340.3,789.1 L1340.6,789.8 L1341,790.6 L1341.3,791.3 L1341.7,792 L1342,792.8 L1342.3,793.6 L1342.6,794.4 L1342.9,795.2 L1343.2,796 L1343.6,796.7 L1344,797.3 L1344.6,797.9 L1345.3,798.4 L1346,798.9 L1346.8,799.4 L1347.6,799.9 L1348.5,800.3 L1349.4,800.8 L1350.4,801.3 L1351.3,801.8 L1352.2,802.4 L1353.2,803 L1354.1,803.7 L1354.9,804.4 L1355.7,805.2 L1356.4,806 L1357,806.9 L1357.5,807.9 L1357.9,809 L1358.2,810.1 L1358.4,811.3 L1358.4,812.5 L1358.3,813.8 L1358.1,815.2 L1357.8,816.6 L1357.4,818 L1356.8,819.4 L1356.2,820.8 L1355.4,822.3 L1354.6,823.7 L1353.6,825.2 L1352.6,826.6 L1351.6,828 L1350.5,829.3 L1349.4,830.6 L1348.3,831.9 L1347.1,833.2 L1346,834.4 L1344.9,835.6 L1343.9,836.8 L1342.9,837.9 L1341.9,839 L1341,840.1 L1340.2,841.1 L1339.5,842.2 L1338.8,843.2 L1338.3,844.3 L1337.8,845.3 L1337.3,846.4 L1336.8,847.4 L1336.4,848.5 L1335.9,849.6 L1335.3,850.6 L1334.8,851.6 L1334.3,852.7 L1333.8,853.7 L1333.3,854.8 L1333,856 L1332.6,857.2 L1332.4,858.4 L1332.1,859.7 L1331.9,861 L1331.7,862.4 L1331.6,863.8 L1331.4,865.3 L1331.2,866.8 L1331,868.4 L1330.8,870 L1330.5,871.6 L1330.2,873.2 L1329.8,874.8 L1329.4,876.4 L1328.9,878 L1328.3,879.5 L1327.7,881 L1327,882.4 L1326.2,883.8 L1325.4,885.1 L1324.5,886.3 L1323.5,887.3 L1322.5,888.3 L1321.5,889.2 L1320.4,890 L1319.2,890.7 L1318,891.2 L1316.9,891.6 L1315.6,892 L1314.4,892.2 L1313.2,892.3 L1312,892.4 L1310.8,892.4 L1309.7,892.3 L1308.5,892.2 L1307.4,892.1 L1306.3,891.9 L1305.2,891.7 L1304.2,891.6 L1303.2,891.4 L1302.2,891.3 L1301.3,891.3 L1300.4,891.3 L1299.5,891.4 L1298.6,891.6 L1297.7,891.9 L1296.9,892.3 L1296,892.7 L1295.1,893.2 L1294.3,893.6 L1293.4,894 L1292.6,894.3 L1291.7,894.7 L1290.8,895 L1290,895.4 L1289.1,895.9 L1288.2,896.5 L1287.3,897.2 L1286.3,898 L1285.4,898.9 L1284.4,899.8 L1283.3,900.9 L1282.2,902 L1281.1,903.1 L1280,904.3 L1278.8,905.5 L1277.6,906.6 L1276.4,907.8 L1275.2,908.9 L1273.9,909.9 L1272.7,910.9 L1271.4,911.7 L1270.2,912.5 L1269,913.1 L1267.9,913.6 L1266.7,913.9 L1265.6,914.1 L1264.6,914.2 L1263.6,914.1 L1262.7,913.8 L1261.9,913.4 L1261.1,912.8 L1260.5,912.1 L1259.8,911.3 L1259.3,910.3 L1258.8,909.2 L1258.4,908.1 L1258.1,906.8 L1257.9,905.5 L1257.7,904.1 L1257.5,902.7 L1257.4,901.3 L1257.3,899.9 L1257.2,898.4 L1257.1,897.1 L1257.1,895.7 L1257,894.5 L1256.9,893.3 L1256.7,892.2 L1256.5,891.1 L1256.3,890.2 L1256,889.4 L1255.6,888.7 L1255.2,888 L1254.7,887.4 L1254.2,886.8 L1253.8,886.2 L1253.3,885.6 L1252.9,884.9 L1252.5,884.3 L1252.1,883.6 L1251.7,882.9 L1251.4,882.2 L1251,881.4 L1250.6,880.8 L1250.1,880.1 L1249.6,879.6 L1248.9,879.1 L1248.2,878.7 L1247.4,878.3 L1246.5,878 L1245.6,877.7 L1244.7,877.4 L1243.7,877 L1242.6,876.7 L1241.6,876.3 L1240.6,876 L1239.6,875.5 L1238.6,875 L1237.7,874.4 L1236.8,873.8 L1236,873.1 L1235.3,872.3 L1234.6,871.4 L1234.1,870.5 L1233.7,869.5 L1233.4,868.4 L1233.2,867.2 L1233.2,865.9 L1233.3,864.6 L1233.5,863.3 L1233.8,861.9 L1234.3,860.5 L1234.8,859 L1235.5,857.5 L1236.2,856 L1237.1,854.5 L1238,853 L1238.9,851.6 L1239.9,850.1 L1241,848.7 L1242,847.3 L1243.1,846 L1244.1,844.6 L1245.2,843.4 L1246.2,842.1 L1247.1,840.9 L1248,839.7 L1248.8,838.6 L1249.5,837.5 L1250.2,836.4 L1250.8,835.3 L1251.3,834.2 L1251.7,833.1 L1252.1,832 L1252.5,831 L1252.9,829.9 L1253.3,828.8 L1253.8,827.8 L1254.2,826.7 L1254.7,825.6 L1255.2,824.6 L1255.6,823.5 L1256.1,822.4 L1256.7,821.4 L1257.2,820.4 L1257.7,819.3 L1258.3,818.3 L1258.8,817.2 L1259.4,816.2 L1259.9,815.2 L1260.4,814.1 L1260.8,813 L1261.2,811.8 L1261.5,810.5 L1261.8,809.2 L1262.1,807.9 L1262.3,806.5 L1262.6,805 L1262.8,803.5 L1263,802 L1263.3,800.4 L1263.6,798.8 L1264,797.2 L1264.3,795.6 L1264.8,794 L1265.3,792.4 L1265.8,790.8 L1266.4,789.3 L1267.1,787.8 L1267.9,786.4 L1268.7,785 L1269.5,783.8 L1270.5,782.6 L1271.5,781.6 L1272.5,780.7 L1273.6,779.8 L1274.7,779.1 L1275.8,778.5 L1277,778.1 L1278.2,777.7 L1279.4,777.4 L1280.6,777.3 L1281.7,777.2 L1282.9,777.3 L1284.1,777.3 L1285.2,777.5 L1286.3,777.7 L1287.4,777.9 L1288.5,778.2 L1289.5,778.4 L1290.5,778.7 L1291.5,778.9 L1292.4,779.1 L1293.4,779.2 L1294.3,779.2 L1295.1,779.1 L1296,779 L1296.9,778.8 L1297.7,778.4 L1298.6,778 L1299.4,777.7 L1300.3,777.3 L1301.2,777 L1302,776.7 L1302.9,776.4 L1303.7,776.1 L1304.6,775.9 L1305.4,775.6 L1306.2,775.4 L1307.1,775.2 L1307.9,775 L1308.8,774.8 L1309.6,774.4 L1310.5,774 L1311.5,773.4 L1312.5,772.8 L1313.5,772 L1314.5,771.2 L1315.6,770.3 L1316.8,769.3 L1317.9,768.3 L1319.1,767.3 L1320.4,766.3 L1321.6,765.3 L1322.9,764.3 L1324.2,763.4 L1325.5,762.6 L1326.7,761.8 L1328,761.1 L1329.2,760.6 L1330.4,760.2 L1331.5,759.9 L1332.6,759.7 L1333.7,759.7 L1334.6,759.8 L1335.5,760.1 L1336.3,760.6 L1337.1,761.2 L1337.7,761.9 L1338.3,762.8Z" fill="#fff" stroke="#222" stroke-width="1.6" />
<path d="M1344.3,766.3 L1344.7,767.3 L1345.1,768.4 L1345.4,769.6 L1345.6,770.9 L1345.8,772.3 L1345.9,773.8 L1345.9,775.3 L1345.9,776.8 L1345.8,778.3 L1345.7,779.8 L1345.6,781.3 L1345.5,782.7 L1345.4,784.2 L1345.4,785.5 L1345.3,786.8 L1345.3,788 L1345.4,789.1 L1345.5,790.1 L1345.7,791 L1345.9,791.9 L1346.3,792.6 L1346.6,793.3 L1347,794.1 L1347.3,794.8 L1347.7,795.5 L1348,796.3 L1348.3,797.1 L1348.6,797.9 L1348.9,798.7 L1349.2,799.5 L1349.6,800.2 L1350,800.8 L1350.6,801.4 L1351.3,801.9 L1352,802.4 L1352.8,802.9 L1353.6,803.4 L1354.5,803.8 L1355.4,804.3 L1356.4,804.8 L1357.3,805.3 L1358.2,805.9 L1359.2,806.5 L1360.1,807.2 L1360.9,807.9 L1361.7,808.7 L1362.4,809.5 L1363,810.4 L1363.5,811.4 L1363.9,812.5 L1364.2,813.6 L1364.4,814.8 L1364.4,816 L1364.3,817.3 L1364.1,818.7 L1363.8,820.1 L1363.4,821.5 L1362.8,822.9 L1362.2,824.3 L1361.4,825.8 L1360.6,827.2 L1359.6,828.7 L1358.6,830.1 L1357.6,831.5 L1356.5,832.8 L1355.4,834.1 L1354.3,835.4 L1353.1,836.7 L1352,837.9 L1350.9,839.1 L1349.9,840.3 L1348.9,841.4 L1347.9,842.5 L1347,843.6 L1346.2,844.6 L1345.5,845.7 L1344.8,846.7 L1344.3,847.8 L1343.8,848.8 L1343.3,849.9 L1342.8,850.9 L1342.4,852 L1341.9,853.1 L1341.3,854.1 L1340.8,855.1 L1340.3,856.2 L1339.8,857.2 L1339.3,858.3 L1339,859.5 L1338.6,860.7 L1338.4,861.9 L1338.1,863.2 L1337.9,864.5 L1337.7,865.9 L1337.6,867.3 L1337.4,868.8 L1337.2,870.3 L1337,871.9 L1336.8,873.5 L1336.5,875.1 L1336.2,876.7 L1335.8,878.3 L1335.4,879.9 L1334.9,881.5 L1334.3,883 L1333.7,884.5 L1333,885.9 L1332.2,887.3 L1331.4,888.6 L1330.5,889.8 L1329.5,890.8 L1328.5,891.8 L1327.5,892.7 L1326.4,893.5 L1325.2,894.2 L1324,894.7 L1322.9,895.1 L1321.6,895.5 L1320.4,895.7 L1319.2,895.8 L1318,895.9 L1316.8,895.9 L1315.7,895.8 L1314.5,895.7 L1313.4,895.6 L1312.3,895.4 L1311.2,895.2 L1310.2,895.1 L1309.2,894.9 L1308.2,894.8 L1307.3,894.8 L1306.4,894.8 L1305.5,894.9 L1304.6,895.1 L1303.7,895.4 L1302.9,895.8 L1302,896.2 L1301.1,896.7 L1300.3,897.1 L1299.4,897.5 L1298.6,897.8 L1297.7,898.2 L1296.8,898.5 L1296,898.9 L1295.1,899.4 L1294.2,900 L1293.3,900.7 L1292.3,901.5 L1291.4,902.4 L1290.4,903.3 L1289.3,904.4 L1288.2,905.5 L1287.1,906.6 L1286,907.8 L1284.8,909 L1283.6,910.1 L1282.4,911.3 L1281.2,912.4 L1279.9,913.4 L1278.7,914.4 L1277.4,915.2 L1276.2,916 L1275,916.6 L1273.9,917.1 L1272.7,917.4 L1271.6,917.6 L1270.6,917.7 L1269.6,917.6 L1268.7,917.3 L1267.9,916.9 L1267.1,916.3 L1266.5,915.6 L1265.8,914.8 L1265.3,913.8 L1264.8,912.7 L1264.4,911.6 L1264.1,910.3 L1263.9,909 L1263.7,907.6 L1263.5,906.2 L1263.4,904.8 L1263.3,903.4 L1263.2,901.9 L1263.1,900.6 L1263.1,899.2 L1263,898 L1262.9,896.8 L1262.7,895.7 L1262.5,894.6 L1262.3,893.7 L1262,892.9 L1261.6,892.2 L1261.2,891.5 L1260.7,890.9 L1260.2,890.3 L1259.8,889.7 L1259.3,889.1 L1258.9,888.4 L1258.5,887.8 L1258.1,887.1 L1257.7,886.4 L1257.4,885.7 L1257,884.9 L1256.6,884.3 L1256.1,883.6 L1255.6,883.1 L1254.9,882.6 L1254.2,882.2 L1253.4,881.8 L1252.5,881.5 L1251.6,881.2 L1250.7,880.9 L1249.7,880.5 L1248.6,880.2 L1247.6,879.8 L1246.6,879.5 L1245.6,879 L1244.6,878.5 L1243.7,877.9 L1242.8,877.3 L1242,876.6 L1241.3,875.8 L1240.6,874.9 L1240.1,874 L1239.7,873 L1239.4,871.9 L1239.2,870.7 L1239.2,869.4 L1239.3,868.1 L1239.5,866.8 L1239.8,865.4 L1240.3,864 L1240.8,862.5 L1241.5,861 L1242.2,859.5 L1243.1,858 L1244,856.5 L1244.9,855.1 L1245.9,853.6 L1247,852.2 L1248,850.8 L1249.1,849.5 L1250.1,848.1 L1251.2,846.9 L1252.2,845.6 L1253.1,844.4 L1254,843.2 L1254.8,842.1 L1255.5,841 L1256.2,839.9 L1256.8,838.8 L1257.3,837.7 L1257.7,836.6 L1258.1,835.5 L1258.5,834.5 L1258.9,833.4 L1259.3,832.3 L1259.8,831.3 L1260.2,830.2 L1260.7,829.1 L1261.2,828.1 L1261.6,827 L1262.1,825.9 L1262.7,824.9 L1263.2,823.9 L1263.7,822.8 L1264.3,821.8 L1264.8,820.7 L1265.4,819.7 L1265.9,818.7 L1266.4,817.6 L1266.8,816.5 L1267.2,815.3 L1267.5,814 L1267.8,812.7 L1268.1,811.4 L1268.3,810 L1268.6,808.5 L1268.8,807 L1269,805.5 L1269.3,803.9 L1269.6,802.3 L1270,800.7 L1270.3,799.1 L1270.8,797.5 L1271.3,795.9 L1271.8,794.3 L1272.4,792.8 L1273.1,791.3 L1273.9,789.9 L1274.7,788.5 L1275.5,787.3 L1276.5,786.1 L1277.5,785.1 L1278.5,784.2 L1279.6,783.3 L1280.7,782.6 L1281.8,782 L1283,781.6 L1284.2,781.2 L1285.4,780.9 L1286.6,780.8 L1287.7,780.7 L1288.9,780.8 L1290.1,780.8 L1291.2,781 L1292.3,781.2 L1293.4,781.4 L1294.5,781.7 L1295.5,781.9 L1296.5,782.2 L1297.5,782.4 L1298.4,782.6 L1299.4,782.7 L1300.3,782.7 L1301.1,782.6 L1302,782.5 L1302.9,782.3 L1303.7,781.9 L1304.6,781.5 L1305.4,781.2 L1306.3,780.8 L1307.2,780.5 L1308,780.2 L1308.9,779.9 L1309.7,779.6 L1310.6,779.4 L1311.4,779.1 L1312.2,778.9 L1313.1,778.7 L1313.9,778.5 L1314.8,778.3 L1315.6,777.9 L1316.5,777.5 L1317.5,776.9 L1318.5,776.3 L1319.5,775.5 L1320.5,774.7 L1321.6,773.8 L1322.8,772.8 L1323.9,771.8 L1325.1,770.8 L1326.4,769.8 L1327.6,768.8 L1328.9,767.8 L1330.2,766.9 L1331.5,766.1 L1332.7,765.3 L1334,764.6 L1335.2,764.1 L1336.4,763.7 L1337.5,763.4 L1338.6,763.2 L1339.7,763.2 L1340.6,763.3 L1341.5,763.6 L1342.3,764.1 L1343.1,764.7 L1343.7,765.4 L1344.3,766.3Z" fill="#fff" stroke="#222" stroke-width="1.0" />
<path d="M1350.3,769.8 L1350.7,770.8 L1351.1,771.9 L1351.4,773.1 L1351.6,774.4 L1351.8,775.8 L1351.9,777.3 L1351.9,778.8 L1351.9,780.3 L1351.8,781.8 L1351.7,783.3 L1351.6,784.8 L1351.5,786.2 L1351.4,787.7 L1351.4,789 L1351.3,790.3 L1351.3,791.5 L1351.4,792.6 L1351.5,793.6 L1351.7,794.5 L1351.9,795.4 L1352.3,796.1 L1352.6,796.8 L1353,797.6 L1353.3,798.3 L1353.7,799 L1354,799.8 L1354.3,800.6 L1354.6,801.4 L1354.9,802.2 L1355.2,803 L1355.6,803.7 L1356,804.3 L1356.6,804.9 L1357.3,805.4 L1358,805.9 L1358.8,806.4 L1359.6,806.9 L1360.5,807.3 L1361.4,807.8 L1362.4,808.3 L1363.3,808.8 L1364.2,809.4 L1365.2,810 L1366.1,810.7 L1366.9,811.4 L1367.7,812.2 L1368.4,813 L1369,813.9 L1369.5,814.9 L1369.9,816 L1370.2,817.1 L1370.4,818.3 L1370.4,819.5 L1370.3,820.8 L1370.1,822.2 L1369.8,823.6 L1369.4,825 L1368.8,826.4 L1368.2,827.8 L1367.4,829.3 L1366.6,830.7 L1365.6,832.2 L1364.6,833.6 L1363.6,835 L1362.5,836.3 L1361.4,837.6 L1360.3,838.9 L1359.1,840.2 L1358,841.4 L1356.9,842.6 L1355.9,843.8 L1354.9,844.9 L1353.9,846 L1353,847.1 L1352.2,848.1 L1351.5,849.2 L1350.8,850.2 L1350.3,851.3 L1349.8,852.3 L1349.3,853.4 L1348.8,854.4 L1348.4,855.5 L1347.9,856.6 L1347.3,857.6 L1346.8,858.6 L1346.3,859.7 L1345.8,860.7 L1345.3,861.8 L1345,863 L1344.6,864.2 L1344.4,865.4 L1344.1,866.7 L1343.9,868 L1343.7,869.4 L1343.6,870.8 L1343.4,872.3 L1343.2,873.8 L1343,875.4 L1342.8,877 L1342.5,878.6 L1342.2,880.2 L1341.8,881.8 L1341.4,883.4 L1340.9,885 L1340.3,886.5 L1339.7,888 L1339,889.4 L1338.2,890.8 L1337.4,892.1 L1336.5,893.3 L1335.5,894.3 L1334.5,895.3 L1333.5,896.2 L1332.4,897 L1331.2,897.7 L1330,898.2 L1328.9,898.6 L1327.6,899 L1326.4,899.2 L1325.2,899.3 L1324,899.4 L1322.8,899.4 L1321.7,899.3 L1320.5,899.2 L1319.4,899.1 L1318.3,898.9 L1317.2,898.7 L1316.2,898.6 L1315.2,898.4 L1314.2,898.3 L1313.3,898.3 L1312.4,898.3 L1311.5,898.4 L1310.6,898.6 L1309.7,898.9 L1308.9,899.3 L1308,899.7 L1307.1,900.2 L1306.3,900.6 L1305.4,901 L1304.6,901.3 L1303.7,901.7 L1302.8,902 L1302,902.4 L1301.1,902.9 L1300.2,903.5 L1299.3,904.2 L1298.3,905 L1297.4,905.9 L1296.4,906.8 L1295.3,907.9 L1294.2,909 L1293.1,910.1 L1292,911.3 L1290.8,912.5 L1289.6,913.6 L1288.4,914.8 L1287.2,915.9 L1285.9,916.9 L1284.7,917.9 L1283.4,918.7 L1282.2,919.5 L1281,920.1 L1279.9,920.6 L1278.7,920.9 L1277.6,921.1 L1276.6,921.2 L1275.6,921.1 L1274.7,920.8 L1273.9,920.4 L1273.1,919.8 L1272.5,919.1 L1271.8,918.3 L1271.3,917.3 L1270.8,916.2 L1270.4,915.1 L1270.1,913.8 L1269.9,912.5 L1269.7,911.1 L1269.5,909.7 L1269.4,908.3 L1269.3,906.9 L1269.2,905.4 L1269.1,904.1 L1269.1,902.7 L1269,901.5 L1268.9,900.3 L1268.7,899.2 L1268.5,898.1 L1268.3,897.2 L1268,896.4 L1267.6,895.7 L1267.2,895 L1266.7,894.4 L1266.2,893.8 L1265.8,893.2 L1265.3,892.6 L1264.9,891.9 L1264.5,891.3 L1264.1,890.6 L1263.7,889.9 L1263.4,889.2 L1263,888.4 L1262.6,887.8 L1262.1,887.1 L1261.6,886.6 L1260.9,886.1 L1260.2,885.7 L1259.4,885.3 L1258.5,885 L1257.6,884.7 L1256.7,884.4 L1255.7,884 L1254.6,883.7 L1253.6,883.3 L1252.6,883 L1251.6,882.5 L1250.6,882 L1249.7,881.4 L1248.8,880.8 L1248,880.1 L1247.3,879.3 L1246.6,878.4 L1246.1,877.5 L1245.7,876.5 L1245.4,875.4 L1245.2,874.2 L1245.2,872.9 L1245.3,871.6 L1245.5,870.3 L1245.8,868.9 L1246.3,867.5 L1246.8,866 L1247.5,864.5 L1248.2,863 L1249.1,861.5 L1250,860 L1250.9,858.6 L1251.9,857.1 L1253,855.7 L1254,854.3 L1255.1,853 L1256.1,851.6 L1257.2,850.4 L1258.2,849.1 L1259.1,847.9 L1260,846.7 L1260.8,845.6 L1261.5,844.5 L1262.2,843.4 L1262.8,842.3 L1263.3,841.2 L1263.7,840.1 L1264.1,839 L1264.5,838 L1264.9,836.9 L1265.3,835.8 L1265.8,834.8 L1266.2,833.7 L1266.7,832.6 L1267.2,831.6 L1267.6,830.5 L1268.1,829.4 L1268.7,828.4 L1269.2,827.4 L1269.7,826.3 L1270.3,825.3 L1270.8,824.2 L1271.4,823.2 L1271.9,822.2 L1272.4,821.1 L1272.8,820 L1273.2,818.8 L1273.5,817.5 L1273.8,816.2 L1274.1,814.9 L1274.3,813.5 L1274.6,812 L1274.8,810.5 L1275,809 L1275.3,807.4 L1275.6,805.8 L1276,804.2 L1276.3,802.6 L1276.8,801 L1277.3,799.4 L1277.8,797.8 L1278.4,796.3 L1279.1,794.8 L1279.9,793.4 L1280.7,792 L1281.5,790.8 L1282.5,789.6 L1283.5,788.6 L1284.5,787.7 L1285.6,786.8 L1286.7,786.1 L1287.8,785.5 L1289,785.1 L1290.2,784.7 L1291.4,784.4 L1292.6,784.3 L1293.7,784.2 L1294.9,784.3 L1296.1,784.3 L1297.2,784.5 L1298.3,784.7 L1299.4,784.9 L1300.5,785.2 L1301.5,785.4 L1302.5,785.7 L1303.5,785.9 L1304.4,786.1 L1305.4,786.2 L1306.3,786.2 L1307.1,786.1 L1308,786 L1308.9,785.8 L1309.7,785.4 L1310.6,785 L1311.4,784.7 L1312.3,784.3 L1313.2,784 L1314,783.7 L1314.9,783.4 L1315.7,783.1 L1316.6,782.9 L1317.4,782.6 L1318.2,782.4 L1319.1,782.2 L1319.9,782 L1320.8,781.8 L1321.6,781.4 L1322.5,781 L1323.5,780.4 L1324.5,779.8 L1325.5,779 L1326.5,778.2 L1327.6,777.3 L1328.8,776.3 L1329.9,775.3 L1331.1,774.3 L1332.4,773.3 L1333.6,772.3 L1334.9,771.3 L1336.2,770.4 L1337.5,769.6 L1338.7,768.8 L1340,768.1 L1341.2,767.6 L1342.4,767.2 L1343.5,766.9 L1344.6,766.7 L1345.7,766.7 L1346.6,766.8 L1347.5,767.1 L1348.3,767.6 L1349.1,768.2 L1349.7,768.9 L1350.3,769.8Z" fill="#fff" stroke="#222" stroke-width="1.7" />
<ellipse cx="1342.9" cy="776.1" rx="3.6" ry="2.8" transform="rotate(-55 1342.9 776.1)" fill="#fff" stroke="#222" stroke-width="1.4" />
<ellipse cx="1363" cy="823.4" rx="3.6" ry="2.8" transform="rotate(-55 1363 823.4)" fill="#fff" stroke="#222" stroke-width="1.4" />
<ellipse cx="1332.3" cy="888.3" rx="3.6" ry="2.8" transform="rotate(-55 1332.3 888.3)" fill="#fff" stroke="#222" stroke-width="1.4" />
<ellipse cx="1279.5" cy="911.9" rx="3.6" ry="2.8" transform="rotate(-55 1279.5 911.9)" fill="#fff" stroke="#222" stroke-width="1.4" />
<ellipse cx="1252.6" cy="869.4" rx="3.6" ry="2.8" transform="rotate(-55 1252.6 869.4)" fill="#fff" stroke="#222" stroke-width="1.4" />
<ellipse cx="1286.3" cy="795" rx="3.6" ry="2.8" transform="rotate(-55 1286.3 795)" fill="#fff" stroke="#222" stroke-width="1.4" />
<ellipse cx="1309" cy="843.5" rx="64" ry="39" transform="rotate(-60 1309 843.5)" fill="none" stroke="#222" stroke-width="1.8" />
<ellipse cx="1310" cy="844.2" rx="58" ry="35.5" transform="rotate(-60 1310 844.2)" fill="none" stroke="#222" stroke-width="1.2" />
<g transform="translate(1338.2 810.3) rotate(-30)"><rect x="-6" y="-4" width="12" height="8" rx="2" fill="#fff" stroke="#222" stroke-width="1.2"/><circle cx="0" cy="0" r="2.2" fill="none" stroke="#222" stroke-width="1"/></g>
<g transform="translate(1341 835.4) rotate(-30)"><rect x="-6" y="-4" width="12" height="8" rx="2" fill="#fff" stroke="#222" stroke-width="1.2"/><circle cx="0" cy="0" r="2.2" fill="none" stroke="#222" stroke-width="1"/></g>
<g transform="translate(1277.8 875.7) rotate(-30)"><rect x="-6" y="-4" width="12" height="8" rx="2" fill="#fff" stroke="#222" stroke-width="1.2"/><circle cx="0" cy="0" r="2.2" fill="none" stroke="#222" stroke-width="1"/></g>
<g transform="translate(1275 850.6) rotate(-30)"><rect x="-6" y="-4" width="12" height="8" rx="2" fill="#fff" stroke="#222" stroke-width="1.2"/><circle cx="0" cy="0" r="2.2" fill="none" stroke="#222" stroke-width="1"/></g>
<g transform="translate(1320 794) rotate(-25)"><path d="M-6,-4 L5,-5 L7,3 L-4,5 Z" fill="#fff" stroke="#222" stroke-width="1.4"/><circle cx="0.5" cy="0" r="2" fill="none" stroke="#222" stroke-width="1.1"/></g>
<g transform="translate(1331 806) rotate(20)"><path d="M-6,-4 L5,-5 L7,3 L-4,5 Z" fill="#fff" stroke="#222" stroke-width="1.4"/><circle cx="0.5" cy="0" r="2" fill="none" stroke="#222" stroke-width="1.1"/></g>
<g transform="translate(1336 818) rotate(-10)"><path d="M-6,-4 L5,-5 L7,3 L-4,5 Z" fill="#fff" stroke="#222" stroke-width="1.4"/><circle cx="0.5" cy="0" r="2" fill="none" stroke="#222" stroke-width="1.1"/></g>
<g transform="translate(1274 869) rotate(30)"><path d="M-6,-4 L5,-5 L7,3 L-4,5 Z" fill="#fff" stroke="#222" stroke-width="1.4"/><circle cx="0.5" cy="0" r="2" fill="none" stroke="#222" stroke-width="1.1"/></g>
<g transform="translate(1288 877) rotate(-20)"><path d="M-6,-4 L5,-5 L7,3 L-4,5 Z" fill="#fff" stroke="#222" stroke-width="1.4"/><circle cx="0.5" cy="0" r="2" fill="none" stroke="#222" stroke-width="1.1"/></g>
<g transform="translate(1301 880) rotate(10)"><path d="M-6,-4 L5,-5 L7,3 L-4,5 Z" fill="#fff" stroke="#222" stroke-width="1.4"/><circle cx="0.5" cy="0" r="2" fill="none" stroke="#222" stroke-width="1.1"/></g>
<path d="M1291,867 L1290.2,866.5 L1289.5,865.9 L1288.7,865.3 L1288.1,864.5 L1287.5,863.8 L1286.9,862.9 L1286.4,862 L1286,861.1 L1285.6,860.1 L1285.2,859 L1284.9,857.9 L1284.7,856.7 L1284.5,855.5 L1284.4,854.3 L1284.4,853 L1284.4,851.7 L1284.4,850.4 L1284.6,849 L1284.8,847.6 L1285,846.2 L1285.3,844.8 L1285.7,843.3 L1286.1,841.9 L1286.5,840.5 L1287.1,839 L1287.6,837.6 L1288.3,836.2 L1288.9,834.8 L1289.6,833.4 L1290.4,832 L1291.2,830.7 L1292.1,829.3 L1292.9,828 L1293.9,826.8 L1294.8,825.6 L1295.8,824.4 L1296.8,823.3 L1297.9,822.2 L1298.9,821.2 L1300,820.2 L1301.1,819.3 L1302.2,818.4 L1303.3,817.7 L1304.5,816.9 L1305.6,816.3 L1306.7,815.7 L1307.8,815.1 L1309,814.7 L1310.1,814.3 L1311.2,814 L1312.3,813.8 L1313.4,813.6 L1314.4,813.5 L1315.4,813.5 L1316.5,813.6 L1317.4,813.7 L1318.4,813.9 L1319.3,814.2 L1320.2,814.6 L1321,815 L1327,818 L1327,818 L1327.8,818.5 L1328.5,819.1 L1329.3,819.7 L1329.9,820.5 L1330.5,821.2 L1331.1,822.1 L1331.6,823 L1332,823.9 L1332.4,824.9 L1332.8,826 L1333.1,827.1 L1333.3,828.3 L1333.5,829.5 L1333.6,830.7 L1333.6,832 L1333.6,833.3 L1333.6,834.6 L1333.4,836 L1333.2,837.4 L1333,838.8 L1332.7,840.2 L1332.3,841.7 L1331.9,843.1 L1331.5,844.5 L1330.9,846 L1330.4,847.4 L1329.7,848.8 L1329.1,850.2 L1328.4,851.6 L1327.6,853 L1326.8,854.3 L1325.9,855.7 L1325.1,857 L1324.1,858.2 L1323.2,859.4 L1322.2,860.6 L1321.2,861.7 L1320.1,862.8 L1319.1,863.8 L1318,864.8 L1316.9,865.7 L1315.8,866.6 L1314.7,867.3 L1313.5,868.1 L1312.4,868.7 L1311.3,869.3 L1310.2,869.9 L1309,870.3 L1307.9,870.7 L1306.8,871 L1305.7,871.2 L1304.6,871.4 L1303.6,871.5 L1302.6,871.5 L1301.5,871.4 L1300.6,871.3 L1299.6,871.1 L1298.7,870.8 L1297.8,870.4 L1297,870 Z" fill="#fff" stroke="#222" stroke-width="1.6" stroke-linejoin="round"/>
<ellipse cx="1312" cy="844" rx="30" ry="18" transform="rotate(-60 1312 844)" fill="#fff" stroke="#222" stroke-width="1.6" />
<ellipse cx="1312" cy="844" rx="26" ry="15.6" transform="rotate(-60 1312 844)" fill="none" stroke="#222" stroke-width="1.0" />
<ellipse cx="1312" cy="844" rx="22.5" ry="13.5" transform="rotate(-60 1312 844)" fill="none" stroke="#222" stroke-width="1.0" />
<ellipse cx="1313" cy="845" rx="19" ry="11.4" transform="rotate(-60 1313 845)" fill="#fff" stroke="#222" stroke-width="1.5" />
<line x1="1313" y1="847" x2="1485" y2="946" stroke="#222" stroke-width="1.3" stroke-dasharray="22 4 4 4"/>
<path d="M1356.7,895.4 L1356.1,895.1 L1355.5,894.7 L1355,894.2 L1354.5,893.7 L1354,893.2 L1353.6,892.6 L1353.2,891.9 L1352.8,891.2 L1352.5,890.5 L1352.2,889.7 L1352,888.9 L1351.8,888.1 L1351.6,887.2 L1351.5,886.3 L1351.5,885.4 L1351.4,884.4 L1351.4,883.4 L1351.5,882.4 L1351.6,881.4 L1351.7,880.3 L1351.9,879.3 L1352.2,878.2 L1352.4,877.2 L1352.7,876.1 L1353.1,875 L1353.5,874 L1353.9,872.9 L1354.3,871.9 L1354.8,870.8 L1355.3,869.8 L1355.9,868.8 L1356.5,867.8 L1357.1,866.8 L1357.7,865.9 L1358.4,865 L1359.1,864.1 L1359.8,863.3 L1360.6,862.4 L1361.3,861.7 L1362.1,860.9 L1362.9,860.2 L1363.6,859.6 L1364.4,859 L1365.2,858.4 L1366.1,857.9 L1366.9,857.4 L1367.7,857 L1368.5,856.6 L1369.3,856.3 L1370.1,856.1 L1370.9,855.9 L1371.7,855.7 L1372.5,855.6 L1373.2,855.6 L1374,855.6 L1374.7,855.7 L1375.4,855.8 L1376.1,856 L1376.7,856.3 L1377.3,856.6 L1389.3,863.6 L1389.3,863.6 L1389.9,863.9 L1390.5,864.3 L1391,864.8 L1391.5,865.3 L1392,865.8 L1392.4,866.4 L1392.8,867.1 L1393.2,867.8 L1393.5,868.5 L1393.8,869.3 L1394,870.1 L1394.2,870.9 L1394.4,871.8 L1394.5,872.7 L1394.5,873.6 L1394.6,874.6 L1394.6,875.6 L1394.5,876.6 L1394.4,877.6 L1394.3,878.7 L1394.1,879.7 L1393.8,880.8 L1393.6,881.8 L1393.3,882.9 L1392.9,884 L1392.5,885 L1392.1,886.1 L1391.7,887.1 L1391.2,888.2 L1390.7,889.2 L1390.1,890.2 L1389.5,891.2 L1388.9,892.2 L1388.3,893.1 L1387.6,894 L1386.9,894.9 L1386.2,895.7 L1385.4,896.6 L1384.7,897.3 L1383.9,898.1 L1383.1,898.8 L1382.4,899.4 L1381.6,900 L1380.8,900.6 L1379.9,901.1 L1379.1,901.6 L1378.3,902 L1377.5,902.4 L1376.7,902.7 L1375.9,902.9 L1375.1,903.1 L1374.3,903.3 L1373.5,903.4 L1372.8,903.4 L1372,903.4 L1371.3,903.3 L1370.6,903.2 L1369.9,903 L1369.3,902.7 L1368.7,902.4 Z" fill="#fff" stroke="#222" stroke-width="1.6" stroke-linejoin="round"/>
<ellipse cx="1379" cy="883" rx="22" ry="13.2" transform="rotate(-62 1379 883)" fill="#fff" stroke="#222" stroke-width="1.6" />
<ellipse cx="1379" cy="883" rx="19.8" ry="11.9" transform="rotate(-62 1379 883)" fill="none" stroke="#222" stroke-width="1.0" />
<ellipse cx="1379" cy="883" rx="17.2" ry="10.3" transform="rotate(-62 1379 883)" fill="none" stroke="#222" stroke-width="1.0" />
<circle cx="1386.4" cy="869" r="1.3" fill="#333"/>
<circle cx="1389.3" cy="872.3" r="1.3" fill="#333"/>
<circle cx="1390.2" cy="877.8" r="1.3" fill="#333"/>
<circle cx="1388.8" cy="884.2" r="1.3" fill="#333"/>
<circle cx="1385.5" cy="890.5" r="1.3" fill="#333"/>
<circle cx="1380.9" cy="895.2" r="1.3" fill="#333"/>
<circle cx="1375.9" cy="897.5" r="1.3" fill="#333"/>
<circle cx="1371.6" cy="897" r="1.3" fill="#333"/>
<circle cx="1368.7" cy="893.7" r="1.3" fill="#333"/>
<circle cx="1367.8" cy="888.2" r="1.3" fill="#333"/>
<circle cx="1369.2" cy="881.8" r="1.3" fill="#333"/>
<circle cx="1372.5" cy="875.5" r="1.3" fill="#333"/>
<circle cx="1377.1" cy="870.8" r="1.3" fill="#333"/>
<circle cx="1382.1" cy="868.5" r="1.3" fill="#333"/>
<ellipse cx="1379" cy="883" rx="13.6" ry="8.2" transform="rotate(-62 1379 883)" fill="none" stroke="#222" stroke-width="1.2" />
<ellipse cx="1379" cy="883" rx="11.4" ry="6.9" transform="rotate(-62 1379 883)" fill="none" stroke="#222" stroke-width="1.0" />
<ellipse cx="1379.5" cy="883.3" rx="9.2" ry="5.5" transform="rotate(-62 1379.5 883.3)" fill="#fff" stroke="#222" stroke-width="1.3" />
<path d="M1395.7,918.1 L1395.1,917.7 L1394.5,917.3 L1393.9,916.8 L1393.4,916.3 L1392.9,915.7 L1392.5,915.1 L1392.1,914.4 L1391.7,913.7 L1391.3,913 L1391.1,912.1 L1390.8,911.3 L1390.6,910.4 L1390.4,909.5 L1390.3,908.6 L1390.2,907.6 L1390.2,906.6 L1390.2,905.5 L1390.3,904.5 L1390.4,903.4 L1390.5,902.3 L1390.7,901.2 L1391,900.1 L1391.3,899 L1391.6,897.9 L1391.9,896.8 L1392.3,895.7 L1392.8,894.6 L1393.3,893.5 L1393.8,892.4 L1394.3,891.3 L1394.9,890.3 L1395.5,889.2 L1396.2,888.2 L1396.8,887.2 L1397.5,886.3 L1398.2,885.4 L1399,884.5 L1399.8,883.6 L1400.5,882.8 L1401.3,882 L1402.2,881.3 L1403,880.6 L1403.8,880 L1404.7,879.4 L1405.5,878.9 L1406.4,878.4 L1407.2,877.9 L1408.1,877.6 L1408.9,877.2 L1409.8,877 L1410.6,876.8 L1411.4,876.6 L1412.2,876.5 L1413,876.5 L1413.8,876.5 L1414.5,876.6 L1415.3,876.7 L1416,876.9 L1416.6,877.2 L1417.3,877.5 L1420.8,879.7 L1420.8,879.7 L1421.4,880.1 L1422,880.5 L1422.6,881 L1423.1,881.5 L1423.6,882.1 L1424,882.7 L1424.4,883.4 L1424.8,884.1 L1425.2,884.8 L1425.4,885.7 L1425.7,886.5 L1425.9,887.4 L1426.1,888.3 L1426.2,889.2 L1426.3,890.2 L1426.3,891.2 L1426.3,892.3 L1426.2,893.3 L1426.1,894.4 L1426,895.5 L1425.8,896.6 L1425.5,897.7 L1425.2,898.8 L1424.9,899.9 L1424.6,901 L1424.2,902.1 L1423.7,903.2 L1423.2,904.3 L1422.7,905.4 L1422.2,906.5 L1421.6,907.5 L1421,908.6 L1420.3,909.6 L1419.7,910.6 L1419,911.5 L1418.3,912.4 L1417.5,913.3 L1416.7,914.2 L1416,915 L1415.2,915.8 L1414.3,916.5 L1413.5,917.2 L1412.7,917.8 L1411.8,918.4 L1411,918.9 L1410.1,919.4 L1409.3,919.9 L1408.4,920.2 L1407.6,920.6 L1406.7,920.8 L1405.9,921 L1405.1,921.2 L1404.3,921.3 L1403.5,921.3 L1402.7,921.3 L1402,921.2 L1401.2,921.1 L1400.5,920.9 L1399.9,920.6 L1399.2,920.3 Z" fill="#8a8a8a" stroke="#222" stroke-width="1.8" stroke-linejoin="round"/>
<ellipse cx="1410" cy="900" rx="23" ry="13.8" transform="rotate(-62 1410 900)" fill="#8a8a8a" stroke="#222" stroke-width="1.8" />
<ellipse cx="1410" cy="900" rx="22.3" ry="13.4" transform="rotate(-62 1410 900)" fill="#9c9c9c" stroke="#333" stroke-width="1.0" />
<ellipse cx="1410.6" cy="900.4" rx="16.6" ry="9.9" transform="rotate(-62 1410.6 900.4)" fill="#fff" stroke="#222" stroke-width="2.0" />
<path d="M1400.3,912.5 L1400,912 L1399.8,911.5 L1399.5,910.9 L1399.3,910.3 L1399.2,909.7 L1399.1,909 L1399,908.3 L1398.9,907.6 L1398.9,906.9 L1398.9,906.1 L1398.9,905.4 L1399,904.6 L1399.1,903.8 L1399.2,903 L1399.4,902.2 L1399.6,901.4 L1399.8,900.6 L1400.1,899.7 L1400.4,898.9 L1400.7,898.1 L1401.1,897.3 L1401.4,896.5 L1401.8,895.7 L1402.3,895 L1402.7,894.2 L1403.2,893.5 L1403.7,892.8 L1404.2,892.1 L1404.7,891.4 L1405.3,890.7 L1405.8,890.1 L1406.4,889.5 L1407,889 L1407.6,888.4 L1408.2,887.9 L1408.8,887.5 L1409.4,887.1 L1410,886.7 L1410.6,886.3 L1411.3,886 L1411.9,885.8 L1412.5,885.5 L1413.1,885.4 L1413.7,885.2 L1414.3,885.1 L1414.9,885.1" fill="none" stroke="#333" stroke-width="3.0" />
<g transform="translate(1210.5 925)"><path d="M-9,-4 L-5,-9 L3,-9.5 L5,-4 L5,5 L1,9.5 L-6,9 L-9,4 Z" fill="#fff" stroke="#222" stroke-width="1.5"/><ellipse cx="4.5" cy="0" rx="5.5" ry="9" transform="rotate(-10 4.5 0)" fill="#fff" stroke="#222" stroke-width="1.6"/><ellipse cx="5" cy="0.5" rx="2.6" ry="4.4" transform="rotate(-10 5 0.5)" fill="#fff" stroke="#222" stroke-width="1.2"/></g>
<line x1="1214" y1="927" x2="1229.4" y2="935.1" stroke="#222" stroke-width="1.2" />
<line x1="1229.4" y1="935.1" x2="1256" y2="906" stroke="#222" stroke-width="1.2" stroke-dasharray="10 4 3 4"/>
<path d="M1535.4,853 L1535.9,853.3 L1536.4,853.6 L1536.9,854 L1537.3,854.3 L1537.8,854.6 L1538.3,855 L1538.7,855.3 L1539.2,855.7 L1539.7,856 L1540.1,856.4 L1540.5,856.8 L1541,857.2 L1541.4,857.5 L1541.9,857.9 L1542.3,858.3 L1542.7,858.8 L1543.1,859.2 L1543.5,859.6 L1543.9,860 L1544.3,860.4 L1544.7,860.9 L1545.1,861.3 L1545.5,861.8 L1545.9,862.2 L1546.3,862.7 L1546.6,863.2 L1547,863.6 L1547.4,864.1 L1547.7,864.6 L1548.1,865.1 L1548.4,865.6 L1548.8,866.1 L1549.1,866.6 L1549.4,867.1 L1549.8,867.6 L1550.1,868.2 L1550.4,868.7 L1550.7,869.2 L1551,869.8 L1551.3,870.3 L1551.6,870.9 L1551.9,871.5 L1552.2,872 L1552.5,872.6 L1552.7,873.2 L1553,873.7 L1553.3,874.3 L1553.5,874.9 L1553.8,875.5 L1554,876.1 L1554.2,876.7 L1554.5,877.3 L1554.7,877.9 L1554.9,878.6 L1555.1,879.2 L1555.4,879.8 L1555.6,880.5 L1555.8,881.1 L1556,881.7 L1556.1,882.4 L1556.3,883 L1556.5,883.7 L1556.7,884.4 L1556.8,885 L1557,885.7 L1557.1,886.4 L1557.3,887 L1557.4,887.7 L1557.6,888.4 L1557.7,889.1 L1557.8,889.8 L1557.9,890.5 L1558,891.2 L1558.2,891.9 L1558.3,892.6 L1558.3,893.3 L1558.4,894 L1558.5,894.8 L1558.6,895.5 L1558.7,896.2 L1558.7,897 L1558.8,897.7 L1558.8,898.4 L1558.9,899.2 L1558.9,899.9 L1559,900.7 L1559,901.4 L1559,902.2 L1559,902.9 L1559,903.7 L1559,904.4 L1559,905.2 L1559,906 L1559,906.7 L1559,907.5 L1559,908.3 L1558.9,909.1 L1558.9,909.9 L1558.8,910.6 L1558.8,911.4 L1558.7,912.2 L1558.7,913 L1558.6,913.8 L1558.5,914.6 L1558.5,915.4 L1558.4,916.2 L1558.3,917 L1558.2,917.8 L1558.1,918.6 L1558,919.4 L1557.9,920.2 L1557.7,921 L1557.6,921.8 L1557.5,922.6 L1557.3,923.4 L1557.2,924.3 L1557,925.1 L1556.9,925.9 L1556.7,926.7 L1556.5,927.5 L1556.4,928.3 L1556.2,929.2 L1556,930 L1555.8,930.8 L1555.6,931.6 L1555.4,932.5 L1555.2,933.3 L1555,934.1 L1554.8,934.9 L1554.5,935.8 L1554.3,936.6 L1554.1,937.4 L1553.8,938.3 L1553.6,939.1 L1553.3,939.9 L1553.1,940.7 L1552.8,941.6 L1552.5,942.4 L1552.3,943.2 L1552,944 L1551.7,944.9 L1551.4,945.7 L1551.1,946.5 L1550.8,947.4 L1550.5,948.2 L1550.2,949 L1549.9,949.8 L1549.5,950.7 L1549.2,951.5 L1548.9,952.3 L1548.5,953.1 L1548.2,954 L1547.8,954.8 L1547.5,955.6 L1547.1,956.4 L1546.8,957.2 L1546.4,958 L1546,958.9 L1545.6,959.7 L1545.2,960.5 L1544.9,961.3 L1544.5,962.1 L1544.1,962.9 L1543.6,963.7 L1543.2,964.5 L1542.8,965.3 L1542.4,966.1 L1542,966.9 L1541.5,967.7 L1541.1,968.5 L1540.7,969.3 L1540.2,970.1 L1539.8,970.9 L1539.3,971.7 L1538.9,972.5 L1538.4,973.2 L1537.9,974 L1537.5,974.8 L1537,975.6 L1536.5,976.3 L1536,977.1 L1535.6,977.9 L1535.1,978.6 L1534.6,979.4 L1534.1,980.1 L1533.6,980.9 L1533.1,981.7 L1532.5,982.4 L1532,983.1 L1531.5,983.9 L1531,984.6 L1530.5,985.4 L1529.9,986.1 L1529.4,986.8 L1528.9,987.5 L1528.3,988.3 L1527.8,989 L1527.2,989.7 L1526.7,990.4 L1526.1,991.1 L1525.5,991.8 L1525,992.5 L1524.4,993.2 L1523.8,993.9 L1523.3,994.6 L1522.7,995.3 L1522.1,996 L1521.5,996.6 L1520.9,997.3 L1520.3,998 L1519.8,998.6 L1519.2,999.3 L1518.6,999.9 L1518,1000.6 L1517.4,1001.2 L1516.7,1001.9 L1516.1,1002.5 L1515.5,1003.1 L1514.9,1003.8 L1514.3,1004.4 L1513.7,1005 L1513,1005.6 L1512.4,1006.2 L1511.8,1006.8 L1511.2,1007.4 L1510.5,1008 L1509.9,1008.6 L1509.2,1009.2 L1508.6,1009.7 L1508,1010.3 L1507.3,1010.9 L1506.7,1011.4 L1506,1012 L1505.4,1012.5 L1504.7,1013.1 L1504.1,1013.6 L1503.4,1014.2 L1502.8,1014.7 L1502.1,1015.2 L1501.4,1015.7 L1500.8,1016.2 L1500.1,1016.7 L1499.4,1017.2 L1498.8,1017.7 L1498.1,1018.2 L1497.4,1018.7 L1496.8,1019.2 L1496.1,1019.6 L1495.4,1020.1 L1494.7,1020.6 L1494.1,1021 L1493.4,1021.5 L1492.7,1021.9 L1492,1022.3 L1491.4,1022.8 L1490.7,1023.2 L1490,1023.6 L1489.3,1024 L1488.6,1024.4 L1487.9,1024.8 L1487.3,1025.2 L1486.6,1025.6 L1485.9,1026 L1485.2,1026.3 L1484.5,1026.7 L1483.8,1027 L1483.1,1027.4 L1482.5,1027.7 L1481.8,1028.1 L1481.1,1028.4 L1480.4,1028.7 L1479.7,1029 L1479,1029.4 L1478.3,1029.7 L1477.7,1030 L1477,1030.3 L1476.3,1030.5 L1475.6,1030.8 L1474.9,1031.1 L1474.2,1031.3 L1473.5,1031.6 L1472.9,1031.9 L1472.2,1032.1 L1471.5,1032.3 L1470.8,1032.6 L1470.1,1032.8 L1469.4,1033 L1468.8,1033.2 L1468.1,1033.4 L1467.4,1033.6 L1466.7,1033.8 L1466.1,1034 L1465.4,1034.1 L1464.7,1034.3 L1464,1034.5 L1463.4,1034.6 L1462.7,1034.8 L1462,1034.9 L1461.4,1035 L1460.7,1035.1 L1460,1035.3 L1459.4,1035.4 L1458.7,1035.5 L1458,1035.6 L1457.4,1035.7 L1456.7,1035.7 L1456.1,1035.8 L1455.4,1035.9 L1454.8,1035.9 L1454.1,1036 L1453.5,1036 L1452.8,1036.1 L1452.2,1036.1 L1451.5,1036.1 L1450.9,1036.1 L1450.3,1036.1 L1449.6,1036.1 L1449,1036.1 L1448.4,1036.1 L1447.7,1036.1 L1447.1,1036.1 L1446.5,1036 L1445.9,1036 L1445.3,1035.9 L1444.6,1035.9 L1444,1035.8 L1443.4,1035.7 L1442.8,1035.7 L1442.2,1035.6 L1441.6,1035.5 L1441,1035.4 L1440.4,1035.3 L1439.8,1035.2 L1439.2,1035 L1438.7,1034.9 L1438.1,1034.8 L1437.5,1034.6 L1436.9,1034.5 L1436.4,1034.3 L1435.8,1034.2 L1435.2,1034 L1434.7,1033.8 L1434.1,1033.6 L1433.5,1033.4 L1433,1033.2 L1432.5,1033 L1431.9,1032.8 L1431.4,1032.6 L1430.8,1032.4 L1430.3,1032.1 L1429.8,1031.9 L1429.2,1031.6 L1428.7,1031.4 L1428.2,1031.1 L1427.7,1030.8 L1427.2,1030.6 L1426.7,1030.3 L1426.2,1030 L1425.7,1029.7 L1425.2,1029.4 L1424.7,1029.1 L1424.2,1028.8 L1423.7,1028.4 L1423.3,1028.1 L1422.8,1027.8 L1422.3,1027.4 L1421.9,1027.1 L1421.4,1026.7 L1420.9,1026.4 L1420.5,1026 L1420.1,1025.6 L1419.6,1025.2 L1419.2,1024.9 L1418.7,1024.5 L1418.3,1024.1 L1417.9,1023.6 L1417.5,1023.2 L1417.1,1022.8 L1416.7,1022.4 L1416.3,1022 L1415.9,1021.5 L1415.5,1021.1 L1415.1,1020.6 L1414.7,1020.2 L1414.3,1019.7 L1414,1019.2 L1413.6,1018.8 L1413.2,1018.3 L1412.9,1017.8 L1412.5,1017.3 L1412.2,1016.8 L1411.8,1016.3 L1411.5,1015.8 L1411.2,1015.3 L1410.8,1014.8 L1410.5,1014.2 L1410.2,1013.7 L1409.9,1013.2 L1409.6,1012.6 L1409.3,1012.1 L1409,1011.5 L1408.7,1010.9 L1408.4,1010.4 L1408.1,1009.8 L1407.9,1009.2 L1407.6,1008.7 L1407.3,1008.1 L1407.1,1007.5 L1406.8,1006.9 L1406.6,1006.3 L1406.4,1005.7 L1406.1,1005.1 L1405.9,1004.5 L1405.7,1003.8 L1405.5,1003.2 L1405.2,1002.6 L1405,1001.9 L1404.8,1001.3 L1404.6,1000.7 L1404.5,1000 L1404.3,999.4 L1404.1,998.7 L1403.9,998 L1403.8,997.4 L1403.6,996.7 L1403.5,996 L1403.3,995.4 L1403.2,994.7 L1403,994 L1402.9,993.3 L1402.8,992.6 L1402.7,991.9 L1402.6,991.2 L1402.4,990.5 L1402.3,989.8 L1402.3,989.1 L1402.2,988.4 L1402.1,987.6 L1402,986.9 L1401.9,986.2 L1401.9,985.4 L1401.8,984.7 L1401.8,984 L1401.7,983.2 L1401.7,982.5 L1401.6,981.7 L1401.6,981 L1401.6,980.2 L1401.6,979.5 L1401.6,978.7 L1401.6,978 L1401.6,977.2 L1401.6,976.4 L1401.6,975.7 L1401.6,974.9 L1401.6,974.1 L1401.7,973.3 L1401.7,972.5 L1401.8,971.8 L1401.8,971 L1401.9,970.2 L1401.9,969.4 L1402,968.6 L1402.1,967.8 L1402.1,967 L1402.2,966.2 L1402.3,965.4 L1402.4,964.6 L1402.5,963.8 L1402.6,963 L1402.7,962.2 L1402.9,961.4 L1403,960.6 L1403.1,959.8 L1403.3,959 L1403.4,958.1 L1403.6,957.3 L1403.7,956.5 L1403.9,955.7 L1404.1,954.9 L1404.2,954.1 L1404.4,953.2 L1404.6,952.4 L1404.8,951.6 L1405,950.8 L1405.2,949.9 L1405.4,949.1 L1405.6,948.3 L1405.8,947.5 L1406.1,946.6 L1406.3,945.8 L1406.5,945 L1406.8,944.1 L1407,943.3 L1407.3,942.5 L1407.5,941.7 L1407.8,940.8 L1408.1,940 L1408.3,939.2 L1408.6,938.4 L1408.9,937.5 L1409.2,936.7 L1409.5,935.9 L1409.8,935 L1410.1,934.2 L1410.4,933.4 L1410.7,932.6 L1411.1,931.7 L1411.4,930.9 L1411.7,930.1 L1412.1,929.3 L1412.4,928.4 L1412.8,927.6 L1413.1,926.8 L1413.5,926 L1413.8,925.2 L1414.2,924.4 L1414.6,923.5 L1415,922.7 L1415.4,921.9 L1415.7,921.1 L1416.1,920.3 L1416.5,919.5 L1417,918.7 L1417.4,917.9 L1417.8,917.1 L1418.2,916.3 L1418.6,915.5 L1419.1,914.7 L1419.5,913.9 L1419.9,913.1 L1420.4,912.3 L1420.8,911.5 L1421.3,910.7 L1421.7,909.9 L1422.2,909.2 L1422.7,908.4 L1423.1,907.6 L1423.6,906.8 L1424.1,906.1 L1424.6,905.3 L1425,904.5 L1425.5,903.8 L1426,903 L1426.5,902.3 L1427,901.5 L1427.5,900.7 L1428.1,900 L1428.6,899.3 L1429.1,898.5 L1429.6,897.8 L1430.1,897 L1430.7,896.3 L1431.2,895.6 L1431.7,894.9 L1432.3,894.1 L1432.8,893.4 L1433.4,892.7 L1433.9,892 L1434.5,891.3 L1435.1,890.6 L1435.6,889.9 L1436.2,889.2 L1436.8,888.5 L1437.3,887.8 L1437.9,887.1 L1438.5,886.4 L1439.1,885.8 L1439.7,885.1 L1440.3,884.4 L1440.8,883.8 L1441.4,883.1 L1442,882.5 L1442.6,881.8 L1443.2,881.2 L1443.9,880.5 L1444.5,879.9 L1445.1,879.3 L1445.7,878.6 L1446.3,878 L1446.9,877.4 L1447.6,876.8 L1448.2,876.2 L1448.8,875.6 L1449.4,875 L1450.1,874.4 L1450.7,873.8 L1451.4,873.2 L1452,872.7 L1452.6,872.1 L1453.3,871.5 L1453.9,871 L1454.6,870.4 L1455.2,869.9 L1455.9,869.3 L1456.5,868.8 L1457.2,868.2 L1457.8,867.7 L1458.5,867.2 L1459.2,866.7 L1459.8,866.2 L1460.5,865.7 L1461.2,865.2 L1461.8,864.7 L1462.5,864.2 L1463.2,863.7 L1463.8,863.2 L1464.5,862.8 L1465.2,862.3 L1465.9,861.8 L1466.5,861.4 L1467.2,860.9 L1467.9,860.5 L1468.6,860.1 L1469.2,859.6 L1469.9,859.2 L1470.6,858.8 L1471.3,858.4 L1472,858 L1472.7,857.6 L1473.3,857.2 L1474,856.8 L1474.7,856.4 L1475.4,856.1 L1476.1,855.7 L1476.8,855.4 L1477.5,855 L1478.1,854.7 L1478.8,854.3 L1479.5,854 L1480.2,853.7 L1480.9,853.4 L1481.6,853 L1482.3,852.7 L1482.9,852.4 L1483.6,852.1 L1484.3,851.9 L1485,851.6 L1485.7,851.3 L1486.4,851.1 L1487.1,850.8 L1487.7,850.5 L1488.4,850.3 L1489.1,850.1 L1489.8,849.8 L1490.5,849.6 L1491.2,849.4 L1491.8,849.2 L1492.5,849 L1493.2,848.8 L1493.9,848.6 L1494.5,848.4 L1495.2,848.3 L1495.9,848.1 L1496.6,847.9 L1497.2,847.8 L1497.9,847.6 L1498.6,847.5 L1499.2,847.4 L1499.9,847.3 L1500.6,847.1 L1501.2,847 L1501.9,846.9 L1502.6,846.8 L1503.2,846.7 L1503.9,846.7 L1504.5,846.6 L1505.2,846.5 L1505.8,846.5 L1506.5,846.4 L1507.1,846.4 L1507.8,846.3 L1508.4,846.3 L1509.1,846.3 L1509.7,846.3 L1510.3,846.3 L1511,846.3 L1511.6,846.3 L1512.2,846.3 L1512.9,846.3 L1513.5,846.3 L1514.1,846.4 L1514.7,846.4 L1515.3,846.5 L1516,846.5 L1516.6,846.6 L1517.2,846.7 L1517.8,846.7 L1518.4,846.8 L1519,846.9 L1519.6,847 L1520.2,847.1 L1520.8,847.2 L1521.4,847.4 L1521.9,847.5 L1522.5,847.6 L1523.1,847.8 L1523.7,847.9 L1524.2,848.1 L1524.8,848.2 L1525.4,848.4 L1525.9,848.6 L1526.5,848.8 L1527.1,849 L1527.6,849.2 L1528.1,849.4 L1528.7,849.6 L1529.2,849.8 L1529.8,850 L1530.3,850.3 L1530.8,850.5 L1531.4,850.8 L1531.9,851 L1532.4,851.3 L1532.9,851.6 L1533.4,851.8 L1533.9,852.1 L1534.4,852.4 L1534.9,852.7 L1535.4,853Z" fill="#fff" stroke="#222" stroke-width="1.2" />
<circle cx="1537.5" cy="857.2" r="3.2" fill="#fff" stroke="#1a1a1a" stroke-width="2.0"/>
<circle cx="1542.5" cy="860.9" r="3.2" fill="#fff" stroke="#1a1a1a" stroke-width="2.0"/>
<circle cx="1546.9" cy="865.2" r="3.2" fill="#fff" stroke="#1a1a1a" stroke-width="2.0"/>
<circle cx="1550.8" cy="870.3" r="3.2" fill="#fff" stroke="#1a1a1a" stroke-width="2.0"/>
<circle cx="1554.1" cy="876.1" r="3.2" fill="#fff" stroke="#1a1a1a" stroke-width="2.0"/>
<circle cx="1556.7" cy="882.5" r="3.2" fill="#fff" stroke="#1a1a1a" stroke-width="2.0"/>
<circle cx="1558.6" cy="889.4" r="3.2" fill="#fff" stroke="#1a1a1a" stroke-width="2.0"/>
<circle cx="1559.9" cy="896.8" r="3.2" fill="#fff" stroke="#1a1a1a" stroke-width="2.0"/>
<circle cx="1560.5" cy="904.6" r="3.2" fill="#fff" stroke="#1a1a1a" stroke-width="2.0"/>
<circle cx="1560.4" cy="912.8" r="3.2" fill="#fff" stroke="#1a1a1a" stroke-width="2.0"/>
<circle cx="1559.6" cy="921.2" r="3.2" fill="#fff" stroke="#1a1a1a" stroke-width="2.0"/>
<circle cx="1558.1" cy="929.9" r="3.2" fill="#fff" stroke="#1a1a1a" stroke-width="2.0"/>
<circle cx="1556" cy="938.6" r="3.2" fill="#fff" stroke="#1a1a1a" stroke-width="2.0"/>
<circle cx="1553.2" cy="947.4" r="3.2" fill="#fff" stroke="#1a1a1a" stroke-width="2.0"/>
<circle cx="1549.7" cy="956.2" r="3.2" fill="#fff" stroke="#1a1a1a" stroke-width="2.0"/>
<circle cx="1545.7" cy="964.9" r="3.2" fill="#fff" stroke="#1a1a1a" stroke-width="2.0"/>
<circle cx="1541.1" cy="973.3" r="3.2" fill="#fff" stroke="#1a1a1a" stroke-width="2.0"/>
<circle cx="1536" cy="981.5" r="3.2" fill="#fff" stroke="#1a1a1a" stroke-width="2.0"/>
<circle cx="1530.4" cy="989.3" r="3.2" fill="#fff" stroke="#1a1a1a" stroke-width="2.0"/>
<circle cx="1524.4" cy="996.8" r="3.2" fill="#fff" stroke="#1a1a1a" stroke-width="2.0"/>
<circle cx="1518" cy="1003.7" r="3.2" fill="#fff" stroke="#1a1a1a" stroke-width="2.0"/>
<circle cx="1511.3" cy="1010.1" r="3.2" fill="#fff" stroke="#1a1a1a" stroke-width="2.0"/>
<circle cx="1504.4" cy="1015.9" r="3.2" fill="#fff" stroke="#1a1a1a" stroke-width="2.0"/>
<circle cx="1497.3" cy="1021" r="3.2" fill="#fff" stroke="#1a1a1a" stroke-width="2.0"/>
<circle cx="1490" cy="1025.4" r="3.2" fill="#fff" stroke="#1a1a1a" stroke-width="2.0"/>
<circle cx="1482.7" cy="1029.1" r="3.2" fill="#fff" stroke="#1a1a1a" stroke-width="2.0"/>
<circle cx="1475.4" cy="1032" r="3.2" fill="#fff" stroke="#1a1a1a" stroke-width="2.0"/>
<circle cx="1468.2" cy="1034.1" r="3.2" fill="#fff" stroke="#1a1a1a" stroke-width="2.0"/>
<circle cx="1461.2" cy="1035.3" r="3.2" fill="#fff" stroke="#1a1a1a" stroke-width="2.0"/>
<circle cx="1454.3" cy="1035.8" r="3.2" fill="#fff" stroke="#1a1a1a" stroke-width="2.0"/>
<circle cx="1447.7" cy="1035.4" r="3.2" fill="#fff" stroke="#1a1a1a" stroke-width="2.0"/>
<circle cx="1441.4" cy="1034.1" r="3.2" fill="#fff" stroke="#1a1a1a" stroke-width="2.0"/>
<circle cx="1435.5" cy="1032.1" r="3.2" fill="#fff" stroke="#1a1a1a" stroke-width="2.0"/>
<circle cx="1430.1" cy="1029.2" r="3.2" fill="#fff" stroke="#1a1a1a" stroke-width="2.0"/>
<circle cx="1425.1" cy="1025.5" r="3.2" fill="#fff" stroke="#1a1a1a" stroke-width="2.0"/>
<circle cx="1420.7" cy="1021.2" r="3.2" fill="#fff" stroke="#1a1a1a" stroke-width="2.0"/>
<circle cx="1416.8" cy="1016.1" r="3.2" fill="#fff" stroke="#1a1a1a" stroke-width="2.0"/>
<circle cx="1413.5" cy="1010.3" r="3.2" fill="#fff" stroke="#1a1a1a" stroke-width="2.0"/>
<circle cx="1410.9" cy="1003.9" r="3.2" fill="#fff" stroke="#1a1a1a" stroke-width="2.0"/>
<circle cx="1409" cy="997" r="3.2" fill="#fff" stroke="#1a1a1a" stroke-width="2.0"/>
<circle cx="1407.7" cy="989.6" r="3.2" fill="#fff" stroke="#1a1a1a" stroke-width="2.0"/>
<circle cx="1407.1" cy="981.8" r="3.2" fill="#fff" stroke="#1a1a1a" stroke-width="2.0"/>
<circle cx="1407.2" cy="973.6" r="3.2" fill="#fff" stroke="#1a1a1a" stroke-width="2.0"/>
<circle cx="1408" cy="965.2" r="3.2" fill="#fff" stroke="#1a1a1a" stroke-width="2.0"/>
<circle cx="1409.5" cy="956.5" r="3.2" fill="#fff" stroke="#1a1a1a" stroke-width="2.0"/>
<circle cx="1411.6" cy="947.8" r="3.2" fill="#fff" stroke="#1a1a1a" stroke-width="2.0"/>
<circle cx="1414.4" cy="939" r="3.2" fill="#fff" stroke="#1a1a1a" stroke-width="2.0"/>
<circle cx="1417.9" cy="930.2" r="3.2" fill="#fff" stroke="#1a1a1a" stroke-width="2.0"/>
<circle cx="1421.9" cy="921.5" r="3.2" fill="#fff" stroke="#1a1a1a" stroke-width="2.0"/>
<circle cx="1426.5" cy="913.1" r="3.2" fill="#fff" stroke="#1a1a1a" stroke-width="2.0"/>
<circle cx="1431.6" cy="904.9" r="3.2" fill="#fff" stroke="#1a1a1a" stroke-width="2.0"/>
<circle cx="1437.2" cy="897.1" r="3.2" fill="#fff" stroke="#1a1a1a" stroke-width="2.0"/>
<circle cx="1443.2" cy="889.6" r="3.2" fill="#fff" stroke="#1a1a1a" stroke-width="2.0"/>
<circle cx="1449.6" cy="882.7" r="3.2" fill="#fff" stroke="#1a1a1a" stroke-width="2.0"/>
<circle cx="1456.3" cy="876.3" r="3.2" fill="#fff" stroke="#1a1a1a" stroke-width="2.0"/>
<circle cx="1463.2" cy="870.5" r="3.2" fill="#fff" stroke="#1a1a1a" stroke-width="2.0"/>
<circle cx="1470.3" cy="865.4" r="3.2" fill="#fff" stroke="#1a1a1a" stroke-width="2.0"/>
<circle cx="1477.6" cy="861" r="3.2" fill="#fff" stroke="#1a1a1a" stroke-width="2.0"/>
<circle cx="1484.9" cy="857.3" r="3.2" fill="#fff" stroke="#1a1a1a" stroke-width="2.0"/>
<circle cx="1492.2" cy="854.4" r="3.2" fill="#fff" stroke="#1a1a1a" stroke-width="2.0"/>
<circle cx="1499.4" cy="852.3" r="3.2" fill="#fff" stroke="#1a1a1a" stroke-width="2.0"/>
<circle cx="1506.4" cy="851.1" r="3.2" fill="#fff" stroke="#1a1a1a" stroke-width="2.0"/>
<circle cx="1513.3" cy="850.6" r="3.2" fill="#fff" stroke="#1a1a1a" stroke-width="2.0"/>
<circle cx="1519.9" cy="851" r="3.2" fill="#fff" stroke="#1a1a1a" stroke-width="2.0"/>
<circle cx="1526.2" cy="852.3" r="3.2" fill="#fff" stroke="#1a1a1a" stroke-width="2.0"/>
<circle cx="1532.1" cy="854.3" r="3.2" fill="#fff" stroke="#1a1a1a" stroke-width="2.0"/>
<path d="M1536.4,859 L1536.9,859.3 L1537.4,859.6 L1537.8,859.9 L1538.3,860.2 L1538.7,860.5 L1539.2,860.8 L1539.6,861.2 L1540,861.5 L1540.5,861.9 L1540.9,862.2 L1541.3,862.6 L1541.8,862.9 L1542.2,863.3 L1542.6,863.7 L1543,864.1 L1543.4,864.5 L1543.8,864.9 L1544.2,865.3 L1544.6,865.7 L1545,866.1 L1545.3,866.5 L1545.7,866.9 L1546.1,867.4 L1546.4,867.8 L1546.8,868.2 L1547.2,868.7 L1547.5,869.1 L1547.9,869.6 L1548.2,870.1 L1548.5,870.5 L1548.9,871 L1549.2,871.5 L1549.5,872 L1549.8,872.5 L1550.1,873 L1550.4,873.5 L1550.7,874 L1551,874.5 L1551.3,875 L1551.6,875.5 L1551.9,876.1 L1552.2,876.6 L1552.4,877.1 L1552.7,877.7 L1553,878.2 L1553.2,878.8 L1553.5,879.3 L1553.7,879.9 L1554,880.5 L1554.2,881 L1554.4,881.6 L1554.6,882.2 L1554.9,882.8 L1555.1,883.4 L1555.3,884 L1555.5,884.6 L1555.7,885.2 L1555.9,885.8 L1556,886.4 L1556.2,887 L1556.4,887.7 L1556.6,888.3 L1556.7,888.9 L1556.9,889.6 L1557,890.2 L1557.2,890.8 L1557.3,891.5 L1557.5,892.1 L1557.6,892.8 L1557.7,893.4 L1557.8,894.1 L1557.9,894.8 L1558,895.5 L1558.1,896.1 L1558.2,896.8 L1558.3,897.5 L1558.4,898.2 L1558.5,898.9 L1558.6,899.5 L1558.6,900.2 L1558.7,900.9 L1558.7,901.6 L1558.8,902.3 L1558.8,903.1 L1558.9,903.8 L1558.9,904.5 L1558.9,905.2 L1559,905.9 L1559,906.6 L1559,907.4 L1559,908.1 L1559,908.8 L1559,909.6 L1559,910.3 L1558.9,911 L1558.9,911.8 L1558.9,912.5 L1558.9,913.3 L1558.8,914 L1558.8,914.8 L1558.7,915.5 L1558.7,916.3 L1558.6,917 L1558.5,917.8 L1558.4,918.5 L1558.4,919.3 L1558.3,920.1 L1558.2,920.8 L1558.1,921.6 L1558,922.4 L1557.9,923.1 L1557.7,923.9 L1557.6,924.7 L1557.5,925.5 L1557.4,926.2 L1557.2,927 L1557.1,927.8 L1556.9,928.6 L1556.8,929.4 L1556.6,930.1 L1556.5,930.9 L1556.3,931.7 L1556.1,932.5 L1555.9,933.3 L1555.7,934.1 L1555.5,934.9 L1555.3,935.6 L1555.1,936.4 L1554.9,937.2 L1554.7,938 L1554.5,938.8 L1554.3,939.6 L1554,940.4 L1553.8,941.2 L1553.5,942 L1553.3,942.8 L1553,943.5 L1552.8,944.3 L1552.5,945.1 L1552.3,945.9 L1552,946.7 L1551.7,947.5 L1551.4,948.3 L1551.1,949.1 L1550.8,949.9 L1550.5,950.7 L1550.2,951.4 L1549.9,952.2 L1549.6,953 L1549.3,953.8 L1549,954.6 L1548.6,955.4 L1548.3,956.2 L1548,956.9 L1547.6,957.7 L1547.3,958.5 L1546.9,959.3 L1546.6,960.1 L1546.2,960.8 L1545.8,961.6 L1545.4,962.4 L1545.1,963.2 L1544.7,963.9 L1544.3,964.7 L1543.9,965.5 L1543.5,966.2 L1543.1,967 L1542.7,967.8 L1542.3,968.5 L1541.9,969.3 L1541.5,970 L1541,970.8 L1540.6,971.5 L1540.2,972.3 L1539.7,973 L1539.3,973.8 L1538.9,974.5 L1538.4,975.3 L1538,976 L1537.5,976.8 L1537,977.5 L1536.6,978.2 L1536.1,978.9 L1535.6,979.7 L1535.1,980.4 L1534.7,981.1 L1534.2,981.8 L1533.7,982.5 L1533.2,983.3 L1532.7,984 L1532.2,984.7 L1531.7,985.4 L1531.2,986.1 L1530.7,986.8 L1530.2,987.5 L1529.6,988.1 L1529.1,988.8 L1528.6,989.5 L1528.1,990.2 L1527.5,990.9 L1527,991.5 L1526.5,992.2 L1525.9,992.9 L1525.4,993.5 L1524.8,994.2 L1524.3,994.8 L1523.7,995.5 L1523.2,996.1 L1522.6,996.8 L1522,997.4 L1521.5,998 L1520.9,998.7 L1520.3,999.3 L1519.8,999.9 L1519.2,1000.5 L1518.6,1001.1 L1518,1001.7 L1517.4,1002.3 L1516.8,1002.9 L1516.3,1003.5 L1515.7,1004.1 L1515.1,1004.7 L1514.5,1005.3 L1513.9,1005.9 L1513.3,1006.4 L1512.7,1007 L1512.1,1007.6 L1511.4,1008.1 L1510.8,1008.7 L1510.2,1009.2 L1509.6,1009.7 L1509,1010.3 L1508.4,1010.8 L1507.7,1011.3 L1507.1,1011.9 L1506.5,1012.4 L1505.9,1012.9 L1505.2,1013.4 L1504.6,1013.9 L1504,1014.4 L1503.4,1014.9 L1502.7,1015.3 L1502.1,1015.8 L1501.4,1016.3 L1500.8,1016.8 L1500.2,1017.2 L1499.5,1017.7 L1498.9,1018.1 L1498.2,1018.6 L1497.6,1019 L1497,1019.4 L1496.3,1019.9 L1495.7,1020.3 L1495,1020.7 L1494.4,1021.1 L1493.7,1021.5 L1493.1,1021.9 L1492.4,1022.3 L1491.8,1022.7 L1491.1,1023 L1490.4,1023.4 L1489.8,1023.8 L1489.1,1024.1 L1488.5,1024.5 L1487.8,1024.8 L1487.2,1025.2 L1486.5,1025.5 L1485.9,1025.8 L1485.2,1026.2 L1484.6,1026.5 L1483.9,1026.8 L1483.2,1027.1 L1482.6,1027.4 L1481.9,1027.7 L1481.3,1028 L1480.6,1028.2 L1480,1028.5 L1479.3,1028.8 L1478.7,1029 L1478,1029.3 L1477.3,1029.5 L1476.7,1029.8 L1476,1030 L1475.4,1030.2 L1474.7,1030.4 L1474.1,1030.7 L1473.4,1030.9 L1472.8,1031.1 L1472.1,1031.3 L1471.5,1031.4 L1470.8,1031.6 L1470.2,1031.8 L1469.5,1032 L1468.9,1032.1 L1468.3,1032.3 L1467.6,1032.4 L1467,1032.5 L1466.3,1032.7 L1465.7,1032.8 L1465.1,1032.9 L1464.4,1033 L1463.8,1033.1 L1463.2,1033.2 L1462.5,1033.3 L1461.9,1033.4 L1461.3,1033.5 L1460.7,1033.5 L1460,1033.6 L1459.4,1033.7 L1458.8,1033.7 L1458.2,1033.8 L1457.6,1033.8 L1456.9,1033.8 L1456.3,1033.8 L1455.7,1033.9 L1455.1,1033.9 L1454.5,1033.9 L1453.9,1033.9 L1453.3,1033.8 L1452.7,1033.8 L1452.1,1033.8 L1451.5,1033.8 L1450.9,1033.7 L1450.3,1033.7 L1449.8,1033.6 L1449.2,1033.6 L1448.6,1033.5 L1448,1033.4 L1447.4,1033.3 L1446.9,1033.2 L1446.3,1033.1 L1445.7,1033 L1445.2,1032.9 L1444.6,1032.8 L1444,1032.7 L1443.5,1032.6 L1442.9,1032.4 L1442.4,1032.3 L1441.8,1032.1 L1441.3,1032 L1440.8,1031.8 L1440.2,1031.6 L1439.7,1031.5 L1439.2,1031.3 L1438.6,1031.1 L1438.1,1030.9 L1437.6,1030.7 L1437.1,1030.5 L1436.6,1030.3 L1436,1030 L1435.5,1029.8 L1435,1029.6 L1434.5,1029.3 L1434.1,1029.1 L1433.6,1028.8 L1433.1,1028.5 L1432.6,1028.3 L1432.1,1028 L1431.6,1027.7 L1431.2,1027.4 L1430.7,1027.1 L1430.2,1026.8 L1429.8,1026.5 L1429.3,1026.2 L1428.9,1025.9 L1428.4,1025.6 L1428,1025.2 L1427.6,1024.9 L1427.1,1024.5 L1426.7,1024.2 L1426.3,1023.8 L1425.8,1023.5 L1425.4,1023.1 L1425,1022.7 L1424.6,1022.3 L1424.2,1021.9 L1423.8,1021.5 L1423.4,1021.1 L1423,1020.7 L1422.6,1020.3 L1422.3,1019.9 L1421.9,1019.5 L1421.5,1019 L1421.2,1018.6 L1420.8,1018.2 L1420.4,1017.7 L1420.1,1017.3 L1419.7,1016.8 L1419.4,1016.3 L1419.1,1015.9 L1418.7,1015.4 L1418.4,1014.9 L1418.1,1014.4 L1417.8,1013.9 L1417.5,1013.4 L1417.2,1012.9 L1416.9,1012.4 L1416.6,1011.9 L1416.3,1011.4 L1416,1010.9 L1415.7,1010.3 L1415.4,1009.8 L1415.2,1009.3 L1414.9,1008.7 L1414.6,1008.2 L1414.4,1007.6 L1414.1,1007.1 L1413.9,1006.5 L1413.6,1005.9 L1413.4,1005.4 L1413.2,1004.8 L1413,1004.2 L1412.7,1003.6 L1412.5,1003 L1412.3,1002.4 L1412.1,1001.8 L1411.9,1001.2 L1411.7,1000.6 L1411.6,1000 L1411.4,999.4 L1411.2,998.7 L1411,998.1 L1410.9,997.5 L1410.7,996.8 L1410.6,996.2 L1410.4,995.6 L1410.3,994.9 L1410.1,994.3 L1410,993.6 L1409.9,993 L1409.8,992.3 L1409.7,991.6 L1409.6,990.9 L1409.5,990.3 L1409.4,989.6 L1409.3,988.9 L1409.2,988.2 L1409.1,987.5 L1409,986.9 L1409,986.2 L1408.9,985.5 L1408.9,984.8 L1408.8,984.1 L1408.8,983.3 L1408.7,982.6 L1408.7,981.9 L1408.7,981.2 L1408.6,980.5 L1408.6,979.8 L1408.6,979 L1408.6,978.3 L1408.6,977.6 L1408.6,976.8 L1408.6,976.1 L1408.7,975.4 L1408.7,974.6 L1408.7,973.9 L1408.7,973.1 L1408.8,972.4 L1408.8,971.6 L1408.9,970.9 L1408.9,970.1 L1409,969.4 L1409.1,968.6 L1409.2,967.9 L1409.2,967.1 L1409.3,966.3 L1409.4,965.6 L1409.5,964.8 L1409.6,964 L1409.7,963.3 L1409.9,962.5 L1410,961.7 L1410.1,960.9 L1410.2,960.2 L1410.4,959.4 L1410.5,958.6 L1410.7,957.8 L1410.8,957 L1411,956.3 L1411.1,955.5 L1411.3,954.7 L1411.5,953.9 L1411.7,953.1 L1411.9,952.3 L1412.1,951.5 L1412.3,950.8 L1412.5,950 L1412.7,949.2 L1412.9,948.4 L1413.1,947.6 L1413.3,946.8 L1413.6,946 L1413.8,945.2 L1414.1,944.4 L1414.3,943.6 L1414.6,942.9 L1414.8,942.1 L1415.1,941.3 L1415.3,940.5 L1415.6,939.7 L1415.9,938.9 L1416.2,938.1 L1416.5,937.3 L1416.8,936.5 L1417.1,935.7 L1417.4,935 L1417.7,934.2 L1418,933.4 L1418.3,932.6 L1418.6,931.8 L1419,931 L1419.3,930.2 L1419.6,929.5 L1420,928.7 L1420.3,927.9 L1420.7,927.1 L1421,926.3 L1421.4,925.6 L1421.8,924.8 L1422.2,924 L1422.5,923.2 L1422.9,922.5 L1423.3,921.7 L1423.7,920.9 L1424.1,920.2 L1424.5,919.4 L1424.9,918.6 L1425.3,917.9 L1425.7,917.1 L1426.1,916.4 L1426.6,915.6 L1427,914.9 L1427.4,914.1 L1427.9,913.4 L1428.3,912.6 L1428.7,911.9 L1429.2,911.1 L1429.6,910.4 L1430.1,909.6 L1430.6,908.9 L1431,908.2 L1431.5,907.5 L1432,906.7 L1432.5,906 L1432.9,905.3 L1433.4,904.6 L1433.9,903.9 L1434.4,903.1 L1434.9,902.4 L1435.4,901.7 L1435.9,901 L1436.4,900.3 L1436.9,899.6 L1437.4,898.9 L1438,898.3 L1438.5,897.6 L1439,896.9 L1439.5,896.2 L1440.1,895.5 L1440.6,894.9 L1441.1,894.2 L1441.7,893.5 L1442.2,892.9 L1442.8,892.2 L1443.3,891.6 L1443.9,890.9 L1444.4,890.3 L1445,889.6 L1445.6,889 L1446.1,888.4 L1446.7,887.7 L1447.3,887.1 L1447.8,886.5 L1448.4,885.9 L1449,885.3 L1449.6,884.7 L1450.2,884.1 L1450.8,883.5 L1451.3,882.9 L1451.9,882.3 L1452.5,881.7 L1453.1,881.1 L1453.7,880.5 L1454.3,880 L1454.9,879.4 L1455.5,878.8 L1456.2,878.3 L1456.8,877.7 L1457.4,877.2 L1458,876.7 L1458.6,876.1 L1459.2,875.6 L1459.9,875.1 L1460.5,874.5 L1461.1,874 L1461.7,873.5 L1462.4,873 L1463,872.5 L1463.6,872 L1464.2,871.5 L1464.9,871.1 L1465.5,870.6 L1466.2,870.1 L1466.8,869.6 L1467.4,869.2 L1468.1,868.7 L1468.7,868.3 L1469.4,867.8 L1470,867.4 L1470.6,867 L1471.3,866.5 L1471.9,866.1 L1472.6,865.7 L1473.2,865.3 L1473.9,864.9 L1474.5,864.5 L1475.2,864.1 L1475.8,863.7 L1476.5,863.4 L1477.2,863 L1477.8,862.6 L1478.5,862.3 L1479.1,861.9 L1479.8,861.6 L1480.4,861.2 L1481.1,860.9 L1481.7,860.6 L1482.4,860.2 L1483,859.9 L1483.7,859.6 L1484.4,859.3 L1485,859 L1485.7,858.7 L1486.3,858.4 L1487,858.2 L1487.6,857.9 L1488.3,857.6 L1488.9,857.4 L1489.6,857.1 L1490.3,856.9 L1490.9,856.6 L1491.6,856.4 L1492.2,856.2 L1492.9,856 L1493.5,855.7 L1494.2,855.5 L1494.8,855.3 L1495.5,855.1 L1496.1,855 L1496.8,854.8 L1497.4,854.6 L1498.1,854.4 L1498.7,854.3 L1499.3,854.1 L1500,854 L1500.6,853.9 L1501.3,853.7 L1501.9,853.6 L1502.5,853.5 L1503.2,853.4 L1503.8,853.3 L1504.4,853.2 L1505.1,853.1 L1505.7,853 L1506.3,852.9 L1506.9,852.9 L1507.6,852.8 L1508.2,852.7 L1508.8,852.7 L1509.4,852.6 L1510,852.6 L1510.7,852.6 L1511.3,852.6 L1511.9,852.5 L1512.5,852.5 L1513.1,852.5 L1513.7,852.5 L1514.3,852.6 L1514.9,852.6 L1515.5,852.6 L1516.1,852.6 L1516.7,852.7 L1517.3,852.7 L1517.8,852.8 L1518.4,852.8 L1519,852.9 L1519.6,853 L1520.2,853.1 L1520.7,853.2 L1521.3,853.3 L1521.9,853.4 L1522.4,853.5 L1523,853.6 L1523.6,853.7 L1524.1,853.8 L1524.7,854 L1525.2,854.1 L1525.8,854.3 L1526.3,854.4 L1526.8,854.6 L1527.4,854.8 L1527.9,854.9 L1528.4,855.1 L1529,855.3 L1529.5,855.5 L1530,855.7 L1530.5,855.9 L1531,856.1 L1531.6,856.4 L1532.1,856.6 L1532.6,856.8 L1533.1,857.1 L1533.5,857.3 L1534,857.6 L1534.5,857.9 L1535,858.1 L1535.5,858.4 L1536,858.7 L1536.4,859Z" fill="#fff" stroke="#333" stroke-width="1.0" />
<ellipse cx="1483.8" cy="943.2" rx="97.2" ry="62" transform="rotate(-58 1483.8 943.2)" fill="none" stroke="#444" stroke-width="0.9" />
<ellipse cx="1487" cy="944" rx="55.4" ry="37.9" transform="rotate(-61 1487 944)" fill="#fff" stroke="#222" stroke-width="1.8" />
<ellipse cx="1488.5" cy="945" rx="52.5" ry="36" transform="rotate(-61 1488.5 945)" fill="none" stroke="#444" stroke-width="0.9" />
<path d="M1530.4,870.5 L1532.8,872.3 L1535.1,874.3 L1537.3,876.5 L1539.3,879 L1541.1,881.6 L1542.7,884.4 L1544.2,887.4 L1545.5,890.5 L1546.6,893.8 L1547.5,897.3 L1548.2,900.9 L1548.7,904.7 L1534.9,908.8 L1534.4,906.6 L1533.9,904.4 L1533.2,902.3 L1532.4,900.2 L1531.6,898.3 L1530.7,896.4 L1529.6,894.7 L1528.5,893 L1527.3,891.4 L1526.1,889.9 L1524.7,888.5 L1523.3,887.2Z" fill="#fff" stroke="#222" stroke-width="1.6" stroke-linejoin="round"/>
<path d="M1527.5,882.7 L1529.2,884.3 L1530.8,886.1 L1532.3,888 L1533.7,890 L1534.9,892.2 L1536.1,894.5 L1537.1,896.9 L1538,899.4 L1538.7,902 L1539.3,904.7" fill="none" stroke="#333" stroke-width="1.0" />
<ellipse cx="1538" cy="922.7" rx="5" ry="4" transform="rotate(-55 1538 922.7)" fill="#fff" stroke="#222" stroke-width="1.3" />
<ellipse cx="1539.2" cy="923.5" rx="2.8" ry="2.1" transform="rotate(-55 1539.2 923.5)" fill="none" stroke="#333" stroke-width="0.8" />
<path d="M1546.8,933.2 L1545.7,937.5 L1544.5,941.9 L1543.1,946.3 L1541.4,950.6 L1539.7,954.9 L1537.7,959.2 L1535.6,963.4 L1533.3,967.6 L1530.9,971.7 L1528.3,975.7 L1525.6,979.6 L1522.7,983.5 L1517.6,971.4 L1519.3,968.9 L1520.9,966.4 L1522.5,963.8 L1523.9,961.2 L1525.3,958.6 L1526.7,955.9 L1527.9,953.2 L1529.1,950.5 L1530.1,947.8 L1531.1,945.1 L1532,942.3 L1532.8,939.6Z" fill="#fff" stroke="#222" stroke-width="1.6" stroke-linejoin="round"/>
<path d="M1536.9,940.5 L1535.9,943.8 L1534.7,947.2 L1533.5,950.5 L1532.1,953.8 L1530.6,957.1 L1528.9,960.3 L1527.2,963.5 L1525.4,966.7 L1523.4,969.8 L1521.4,972.9" fill="none" stroke="#333" stroke-width="1.0" />
<ellipse cx="1507.2" cy="986.8" rx="5" ry="4" transform="rotate(-55 1507.2 986.8)" fill="#fff" stroke="#222" stroke-width="1.3" />
<ellipse cx="1508.4" cy="987.6" rx="2.8" ry="2.1" transform="rotate(-55 1508.4 987.6)" fill="none" stroke="#333" stroke-width="0.8" />
<path d="M1500.2,1005.9 L1496.7,1008.4 L1493.2,1010.8 L1489.6,1012.9 L1486,1014.8 L1482.4,1016.5 L1478.8,1018 L1475.2,1019.3 L1471.6,1020.3 L1468.1,1021.1 L1464.6,1021.6 L1461.2,1021.9 L1457.8,1022 L1466.5,1005.8 L1468.7,1005.5 L1470.9,1005.2 L1473.1,1004.8 L1475.3,1004.2 L1477.5,1003.5 L1479.8,1002.7 L1482.1,1001.8 L1484.3,1000.8 L1486.6,999.6 L1488.8,998.4 L1491.1,997 L1493.3,995.6Z" fill="#fff" stroke="#222" stroke-width="1.6" stroke-linejoin="round"/>
<path d="M1493.2,1001 L1490.5,1002.7 L1487.7,1004.3 L1485,1005.7 L1482.2,1007 L1479.4,1008.1 L1476.7,1009.1 L1473.9,1009.9 L1471.2,1010.5 L1468.5,1011 L1465.9,1011.4" fill="none" stroke="#333" stroke-width="1.0" />
<ellipse cx="1453.1" cy="1007.3" rx="5" ry="4" transform="rotate(-55 1453.1 1007.3)" fill="#fff" stroke="#222" stroke-width="1.3" />
<ellipse cx="1454.3" cy="1008.1" rx="2.8" ry="2.1" transform="rotate(-55 1454.3 1008.1)" fill="none" stroke="#333" stroke-width="0.8" />
<path d="M1437.2,1015.9 L1434.8,1014.1 L1432.5,1012.1 L1430.3,1009.9 L1428.3,1007.4 L1426.5,1004.8 L1424.9,1002 L1423.4,999 L1422.1,995.9 L1421,992.6 L1420.1,989.1 L1419.4,985.5 L1418.9,981.7 L1432.7,977.6 L1433.2,979.8 L1433.7,982 L1434.4,984.1 L1435.2,986.2 L1436,988.1 L1436.9,990 L1438,991.7 L1439.1,993.4 L1440.3,995 L1441.5,996.5 L1442.9,997.9 L1444.3,999.2Z" fill="#fff" stroke="#222" stroke-width="1.6" stroke-linejoin="round"/>
<path d="M1440.1,1003.7 L1438.4,1002.1 L1436.8,1000.3 L1435.3,998.4 L1433.9,996.4 L1432.7,994.2 L1431.5,991.9 L1430.5,989.5 L1429.6,987 L1428.9,984.4 L1428.3,981.7" fill="none" stroke="#333" stroke-width="1.0" />
<ellipse cx="1429.6" cy="963.7" rx="5" ry="4" transform="rotate(-55 1429.6 963.7)" fill="#fff" stroke="#222" stroke-width="1.3" />
<ellipse cx="1430.8" cy="964.5" rx="2.8" ry="2.1" transform="rotate(-55 1430.8 964.5)" fill="none" stroke="#333" stroke-width="0.8" />
<path d="M1420.8,953.2 L1421.9,948.9 L1423.1,944.5 L1424.5,940.1 L1426.2,935.8 L1427.9,931.5 L1429.9,927.2 L1432,923 L1434.3,918.8 L1436.7,914.7 L1439.3,910.7 L1442,906.8 L1444.9,902.9 L1450,915 L1448.3,917.5 L1446.7,920 L1445.1,922.6 L1443.7,925.2 L1442.3,927.8 L1440.9,930.5 L1439.7,933.2 L1438.5,935.9 L1437.5,938.6 L1436.5,941.3 L1435.6,944.1 L1434.8,946.8Z" fill="#fff" stroke="#222" stroke-width="1.6" stroke-linejoin="round"/>
<path d="M1430.7,945.9 L1431.7,942.6 L1432.9,939.2 L1434.1,935.9 L1435.5,932.6 L1437,929.3 L1438.7,926.1 L1440.4,922.9 L1442.2,919.7 L1444.2,916.6 L1446.2,913.5" fill="none" stroke="#333" stroke-width="1.0" />
<ellipse cx="1460.4" cy="899.6" rx="5" ry="4" transform="rotate(-55 1460.4 899.6)" fill="#fff" stroke="#222" stroke-width="1.3" />
<ellipse cx="1461.6" cy="900.4" rx="2.8" ry="2.1" transform="rotate(-55 1461.6 900.4)" fill="none" stroke="#333" stroke-width="0.8" />
<path d="M1467.4,880.5 L1470.9,878 L1474.4,875.6 L1478,873.5 L1481.6,871.6 L1485.2,869.9 L1488.8,868.4 L1492.4,867.1 L1496,866.1 L1499.5,865.3 L1503,864.8 L1506.4,864.5 L1509.8,864.4 L1501.1,880.6 L1498.9,880.9 L1496.7,881.2 L1494.5,881.6 L1492.3,882.2 L1490.1,882.9 L1487.8,883.7 L1485.5,884.6 L1483.3,885.6 L1481,886.8 L1478.8,888 L1476.5,889.4 L1474.3,890.8Z" fill="#fff" stroke="#222" stroke-width="1.6" stroke-linejoin="round"/>
<path d="M1474.4,885.4 L1477.1,883.7 L1479.9,882.1 L1482.6,880.7 L1485.4,879.4 L1488.2,878.3 L1490.9,877.3 L1493.7,876.5 L1496.4,875.9 L1499.1,875.4 L1501.7,875" fill="none" stroke="#333" stroke-width="1.0" />
<ellipse cx="1514.5" cy="879.1" rx="5" ry="4" transform="rotate(-55 1514.5 879.1)" fill="#fff" stroke="#222" stroke-width="1.3" />
<ellipse cx="1515.7" cy="879.9" rx="2.8" ry="2.1" transform="rotate(-55 1515.7 879.9)" fill="none" stroke="#333" stroke-width="0.8" />
<line x1="1486" y1="946" x2="1553" y2="982" stroke="#222" stroke-width="1.3" stroke-dasharray="22 4 4 4"/>
<line x1="1452.4" y1="1007.9" x2="1513" y2="1040" stroke="#222" stroke-width="1.2" stroke-dasharray="14 4 3 4"/>
<g transform="translate(1521 1046) rotate(30)"><rect x="-10" y="-3.6" width="12" height="7.2" rx="1.5" fill="#fff" stroke="#222" stroke-width="1.2"/><line x1="-7" y1="-3.5" x2="-7" y2="3.5" stroke="#222" stroke-width="0.8"/><line x1="-4" y1="-3.5" x2="-4" y2="3.5" stroke="#222" stroke-width="0.8"/><line x1="-1" y1="-3.5" x2="-1" y2="3.5" stroke="#222" stroke-width="0.8"/><path d="M2,-4 L7,-8.5 L7,8.5 L2,4 Z" fill="#fff" stroke="#222" stroke-width="1.2"/><ellipse cx="8" cy="0" rx="4.5" ry="9" fill="#fff" stroke="#222" stroke-width="1.6"/><ellipse cx="8.5" cy="0" rx="2" ry="3.6" fill="#fff" stroke="#222" stroke-width="1.1"/></g>
<path d="M1552.1,993 L1551.8,992.8 L1551.5,992.6 L1551.2,992.4 L1550.9,992.1 L1550.6,991.7 L1550.4,991.4 L1550.1,991 L1549.9,990.7 L1549.8,990.2 L1549.6,989.8 L1549.5,989.3 L1549.4,988.9 L1549.3,988.4 L1549.2,987.8 L1549.2,987.3 L1549.2,986.8 L1549.2,986.2 L1549.2,985.6 L1549.3,985.1 L1549.3,984.5 L1549.4,983.9 L1549.6,983.3 L1549.7,982.7 L1549.9,982.1 L1550.1,981.5 L1550.3,980.9 L1550.5,980.2 L1550.8,979.7 L1551.1,979.1 L1551.4,978.5 L1551.7,977.9 L1552,977.3 L1552.4,976.8 L1552.7,976.3 L1553.1,975.7 L1553.5,975.2 L1553.9,974.8 L1554.3,974.3 L1554.8,973.9 L1555.2,973.4 L1555.6,973 L1556.1,972.7 L1556.5,972.3 L1557,972 L1557.5,971.7 L1557.9,971.4 L1558.4,971.2 L1558.9,971 L1559.3,970.8 L1559.8,970.7 L1560.2,970.6 L1560.7,970.5 L1561.1,970.4 L1561.5,970.4 L1562,970.4 L1562.4,970.5 L1562.8,970.5 L1563.1,970.7 L1563.5,970.8 L1563.9,971 L1574.9,978 L1574.9,978 L1575.2,978.2 L1575.5,978.4 L1575.8,978.6 L1576.1,978.9 L1576.4,979.3 L1576.6,979.6 L1576.9,980 L1577.1,980.3 L1577.2,980.8 L1577.4,981.2 L1577.5,981.7 L1577.6,982.1 L1577.7,982.6 L1577.8,983.2 L1577.8,983.7 L1577.8,984.2 L1577.8,984.8 L1577.8,985.4 L1577.7,985.9 L1577.7,986.5 L1577.6,987.1 L1577.4,987.7 L1577.3,988.3 L1577.1,988.9 L1576.9,989.5 L1576.7,990.1 L1576.5,990.8 L1576.2,991.3 L1575.9,991.9 L1575.6,992.5 L1575.3,993.1 L1575,993.7 L1574.6,994.2 L1574.3,994.7 L1573.9,995.3 L1573.5,995.8 L1573.1,996.2 L1572.7,996.7 L1572.2,997.1 L1571.8,997.6 L1571.4,998 L1570.9,998.3 L1570.5,998.7 L1570,999 L1569.5,999.3 L1569.1,999.6 L1568.6,999.8 L1568.1,1000 L1567.7,1000.2 L1567.2,1000.3 L1566.8,1000.4 L1566.3,1000.5 L1565.9,1000.6 L1565.5,1000.6 L1565,1000.6 L1564.6,1000.5 L1564.2,1000.5 L1563.9,1000.3 L1563.5,1000.2 L1563.1,1000 Z" fill="#fff" stroke="#222" stroke-width="1.5" stroke-linejoin="round"/>
<ellipse cx="1569" cy="989" rx="12.5" ry="7.5" transform="rotate(-62 1569 989)" fill="#fff" stroke="#222" stroke-width="1.5" />
<ellipse cx="1569" cy="989" rx="12.5" ry="7.5" transform="rotate(-62 1569 989)" fill="#fff" stroke="#222" stroke-width="1.0" />
<path d="M1559.1,1004.8 L1558.5,1004.4 L1557.9,1004 L1557.4,1003.6 L1556.8,1003.1 L1556.3,1002.6 L1555.9,1002 L1555.5,1001.4 L1555.1,1000.8 L1554.7,1000.1 L1554.4,999.4 L1554.1,998.7 L1553.9,997.9 L1553.7,997.1 L1553.5,996.3 L1553.4,995.4 L1553.3,994.6 L1553.3,993.7 L1553.3,992.8 L1553.3,991.9 L1553.4,991 L1553.5,990.1 L1553.6,989.1 L1553.8,988.2 L1554.1,987.2 L1554.3,986.3 L1554.7,985.4 L1555,984.5 L1555.4,983.5 L1555.8,982.6 L1556.3,981.8 L1556.7,980.9 L1557.3,980 L1557.8,979.2 L1558.4,978.4 L1559,977.6 L1559.6,976.9 L1560.2,976.2 L1560.9,975.5 L1561.6,974.8 L1562.3,974.2 L1563,973.6 L1563.7,973.1 L1564.5,972.6 L1565.2,972.1 L1566,971.7 L1566.8,971.4 L1567.5,971 L1568.3,970.8 L1569.1,970.5 L1569.9,970.3 L1570.6,970.2 L1571.4,970.1 L1572.1,970.1 L1572.9,970.1 L1573.6,970.2 L1574.3,970.3 L1575,970.5 L1575.6,970.7 L1576.3,970.9 L1576.9,971.2 L1604.4,988.2 L1604.4,988.2 L1605,988.6 L1605.6,989 L1606.1,989.4 L1606.7,989.9 L1607.2,990.4 L1607.6,991 L1608,991.6 L1608.4,992.2 L1608.8,992.9 L1609.1,993.6 L1609.4,994.3 L1609.6,995.1 L1609.8,995.9 L1610,996.7 L1610.1,997.6 L1610.2,998.4 L1610.2,999.3 L1610.2,1000.2 L1610.2,1001.1 L1610.1,1002 L1610,1002.9 L1609.9,1003.9 L1609.7,1004.8 L1609.4,1005.8 L1609.2,1006.7 L1608.8,1007.6 L1608.5,1008.5 L1608.1,1009.5 L1607.7,1010.4 L1607.2,1011.2 L1606.8,1012.1 L1606.2,1013 L1605.7,1013.8 L1605.1,1014.6 L1604.5,1015.4 L1603.9,1016.1 L1603.3,1016.8 L1602.6,1017.5 L1601.9,1018.2 L1601.2,1018.8 L1600.5,1019.4 L1599.8,1019.9 L1599,1020.4 L1598.3,1020.9 L1597.5,1021.3 L1596.7,1021.6 L1596,1022 L1595.2,1022.2 L1594.4,1022.5 L1593.6,1022.7 L1592.9,1022.8 L1592.1,1022.9 L1591.4,1022.9 L1590.6,1022.9 L1589.9,1022.8 L1589.2,1022.7 L1588.5,1022.5 L1587.9,1022.3 L1587.2,1022.1 L1586.6,1021.8 Z" fill="#fff" stroke="#222" stroke-width="1.6" stroke-linejoin="round"/>
<ellipse cx="1595.5" cy="1005" rx="19" ry="13.3" transform="rotate(-62 1595.5 1005)" fill="#fff" stroke="#222" stroke-width="1.6" />
<ellipse cx="1594" cy="1006" rx="5.8" ry="4.2" transform="rotate(-62 1594 1006)" fill="#fff" stroke="#222" stroke-width="1.3" />
<line x1="1597" y1="1008" x2="1612" y2="1016.5" stroke="#222" stroke-width="1.3" />
<path d="M1644.3,1025.3 L1836.9,1137.6 L1828.4,1152.3 L1635.8,1040Z" fill="#fff" stroke="#1e1e1e" stroke-width="1.7" />
<path d="M1620.8,1012.1 L1645.8,1026.7 L1637.7,1040.5 L1612.7,1025.9Z" fill="#fff" stroke="#222" stroke-width="1.5" />
<ellipse cx="1616.7" cy="1019" rx="3.5" ry="8" transform="rotate(30.3 1616.7 1019)" fill="#fff" stroke="#222" stroke-width="1.5" />
<path d="M1624.2,1014.1 Q1618,1019.8 1616.2,1027.9" fill="none" stroke="#222" stroke-width="1.0"/>
<path d="M1627,1015.7 Q1620.8,1021.4 1618.9,1029.5" fill="none" stroke="#222" stroke-width="1.0"/>
<path d="M1629.7,1017.3 Q1623.6,1023 1621.7,1031.2" fill="none" stroke="#222" stroke-width="1.0"/>
<path d="M1632.5,1019 Q1626.3,1024.6 1624.4,1032.8" fill="none" stroke="#222" stroke-width="1.0"/>
<path d="M1635.3,1020.6 Q1629.1,1026.2 1627.2,1034.4" fill="none" stroke="#222" stroke-width="1.0"/>
<path d="M1638,1022.2 Q1631.8,1027.8 1630,1036" fill="none" stroke="#222" stroke-width="1.0"/>
<path d="M1640.8,1023.8 Q1634.6,1029.4 1632.7,1037.6" fill="none" stroke="#222" stroke-width="1.0"/>
<path d="M1643.6,1025.4 Q1637.4,1031.1 1635.5,1039.2" fill="none" stroke="#222" stroke-width="1.0"/>
<ellipse cx="1640.9" cy="1033.1" rx="2.5" ry="8.2" transform="rotate(30.3 1640.9 1033.1)" fill="none" stroke="#222" stroke-width="1.2" />
<ellipse cx="1837.5" cy="1150" rx="8" ry="15.5" transform="rotate(30.3 1837.5 1150)" fill="#fff" stroke="#1e1e1e" stroke-width="1.8"/>
<path d="M1836,1143 L1842.5,1138.5 L1851,1141 L1856,1150 L1853,1161 L1846,1166 L1838,1163 Z" fill="#fff" stroke="#1e1e1e" stroke-width="1.5"/>
<path d="M1842.5,1138.5 L1847,1146 L1853,1143 M1847,1146 L1843,1157 L1838,1163 M1843,1157 L1846,1166" fill="none" stroke="#222" stroke-width="1.0"/>
<g transform="translate(1532.6 806.9) rotate(-18.7)"><path d="M-2.8,-4 A4,4 0 0 0 -2.8,4 Q0,2.6 2.8,4 A4,4 0 0 0 2.8,-4 Q0,-2.6 -2.8,-4 Z" fill="#fff" stroke="#1e1e1e" stroke-width="1.6"/><circle cx="-2.8" cy="0" r="1.3" fill="#222"/><circle cx="2.8" cy="0" r="1.3" fill="#222"/></g>
<g transform="translate(1545.3 802.6) rotate(-18.7)"><path d="M-2.8,-4 A4,4 0 0 0 -2.8,4 Q0,2.6 2.8,4 A4,4 0 0 0 2.8,-4 Q0,-2.6 -2.8,-4 Z" fill="#fff" stroke="#1e1e1e" stroke-width="1.6"/><circle cx="-2.8" cy="0" r="1.3" fill="#222"/><circle cx="2.8" cy="0" r="1.3" fill="#222"/></g>
<g transform="translate(1557.9 798.3) rotate(-18.7)"><path d="M-2.8,-4 A4,4 0 0 0 -2.8,4 Q0,2.6 2.8,4 A4,4 0 0 0 2.8,-4 Q0,-2.6 -2.8,-4 Z" fill="#fff" stroke="#1e1e1e" stroke-width="1.6"/><circle cx="-2.8" cy="0" r="1.3" fill="#222"/><circle cx="2.8" cy="0" r="1.3" fill="#222"/></g>
<g transform="translate(1570.6 794) rotate(-18.7)"><path d="M-2.8,-4 A4,4 0 0 0 -2.8,4 Q0,2.6 2.8,4 A4,4 0 0 0 2.8,-4 Q0,-2.6 -2.8,-4 Z" fill="#fff" stroke="#1e1e1e" stroke-width="1.6"/><circle cx="-2.8" cy="0" r="1.3" fill="#222"/><circle cx="2.8" cy="0" r="1.3" fill="#222"/></g>
<g transform="translate(1583.3 789.8) rotate(-18.7)"><path d="M-2.8,-4 A4,4 0 0 0 -2.8,4 Q0,2.6 2.8,4 A4,4 0 0 0 2.8,-4 Q0,-2.6 -2.8,-4 Z" fill="#fff" stroke="#1e1e1e" stroke-width="1.6"/><circle cx="-2.8" cy="0" r="1.3" fill="#222"/><circle cx="2.8" cy="0" r="1.3" fill="#222"/></g>
<g transform="translate(1595.9 785.5) rotate(-18.7)"><path d="M-2.8,-4 A4,4 0 0 0 -2.8,4 Q0,2.6 2.8,4 A4,4 0 0 0 2.8,-4 Q0,-2.6 -2.8,-4 Z" fill="#fff" stroke="#1e1e1e" stroke-width="1.6"/><circle cx="-2.8" cy="0" r="1.3" fill="#222"/><circle cx="2.8" cy="0" r="1.3" fill="#222"/></g>
<g transform="translate(1608.6 781.2) rotate(-18.7)"><path d="M-2.8,-4 A4,4 0 0 0 -2.8,4 Q0,2.6 2.8,4 A4,4 0 0 0 2.8,-4 Q0,-2.6 -2.8,-4 Z" fill="#fff" stroke="#1e1e1e" stroke-width="1.6"/><circle cx="-2.8" cy="0" r="1.3" fill="#222"/><circle cx="2.8" cy="0" r="1.3" fill="#222"/></g>
<rect x="1522" y="806.5" width="4" height="7" fill="#333" transform="rotate(-18.7 1524 810)"/>
<rect x="1534.6" y="802.8" width="4" height="7" fill="#333" transform="rotate(-18.7 1536.6 806.3)"/>
<rect x="1547.1" y="799.1" width="4" height="7" fill="#333" transform="rotate(-18.7 1549.1 802.6)"/>
<rect x="1559.7" y="795.4" width="4" height="7" fill="#333" transform="rotate(-18.7 1561.7 798.9)"/>
<rect x="1572.3" y="791.6" width="4" height="7" fill="#333" transform="rotate(-18.7 1574.3 795.1)"/>
<rect x="1584.9" y="787.9" width="4" height="7" fill="#333" transform="rotate(-18.7 1586.9 791.4)"/>
<rect x="1597.4" y="784.2" width="4" height="7" fill="#333" transform="rotate(-18.7 1599.4 787.7)"/>
<rect x="1610" y="780.5" width="4" height="7" fill="#333" transform="rotate(-18.7 1612 784)"/>
<g transform="translate(1521.7 814.8) rotate(-18.7)"><path d="M-2.6,-4.4 A4.4,4.4 0 0 0 -2.6,4.4 Q0,3 2.6,4.4 A4.4,4.4 0 0 0 2.6,-4.4 Q0,-3 -2.6,-4.4 Z" fill="#fff" stroke="#1e1e1e" stroke-width="1.6"/><circle cx="-2.6" cy="0" r="1.3" fill="#222"/><circle cx="2.6" cy="0" r="1.3" fill="#222"/></g>
<g transform="translate(1534.8 811.1) rotate(-18.7)"><path d="M-2.6,-4.4 A4.4,4.4 0 0 0 -2.6,4.4 Q0,3 2.6,4.4 A4.4,4.4 0 0 0 2.6,-4.4 Q0,-3 -2.6,-4.4 Z" fill="#fff" stroke="#1e1e1e" stroke-width="1.6"/><circle cx="-2.6" cy="0" r="1.3" fill="#222"/><circle cx="2.6" cy="0" r="1.3" fill="#222"/></g>
<g transform="translate(1548 807.4) rotate(-18.7)"><path d="M-2.6,-4.4 A4.4,4.4 0 0 0 -2.6,4.4 Q0,3 2.6,4.4 A4.4,4.4 0 0 0 2.6,-4.4 Q0,-3 -2.6,-4.4 Z" fill="#fff" stroke="#1e1e1e" stroke-width="1.6"/><circle cx="-2.6" cy="0" r="1.3" fill="#222"/><circle cx="2.6" cy="0" r="1.3" fill="#222"/></g>
<g transform="translate(1561.1 803.7) rotate(-18.7)"><path d="M-2.6,-4.4 A4.4,4.4 0 0 0 -2.6,4.4 Q0,3 2.6,4.4 A4.4,4.4 0 0 0 2.6,-4.4 Q0,-3 -2.6,-4.4 Z" fill="#fff" stroke="#1e1e1e" stroke-width="1.6"/><circle cx="-2.6" cy="0" r="1.3" fill="#222"/><circle cx="2.6" cy="0" r="1.3" fill="#222"/></g>
<g transform="translate(1574.2 800.1) rotate(-18.7)"><path d="M-2.6,-4.4 A4.4,4.4 0 0 0 -2.6,4.4 Q0,3 2.6,4.4 A4.4,4.4 0 0 0 2.6,-4.4 Q0,-3 -2.6,-4.4 Z" fill="#fff" stroke="#1e1e1e" stroke-width="1.6"/><circle cx="-2.6" cy="0" r="1.3" fill="#222"/><circle cx="2.6" cy="0" r="1.3" fill="#222"/></g>
<g transform="translate(1587.3 796.4) rotate(-18.7)"><path d="M-2.6,-4.4 A4.4,4.4 0 0 0 -2.6,4.4 Q0,3 2.6,4.4 A4.4,4.4 0 0 0 2.6,-4.4 Q0,-3 -2.6,-4.4 Z" fill="#fff" stroke="#1e1e1e" stroke-width="1.6"/><circle cx="-2.6" cy="0" r="1.3" fill="#222"/><circle cx="2.6" cy="0" r="1.3" fill="#222"/></g>
<g transform="translate(1600.5 792.7) rotate(-18.7)"><path d="M-2.6,-4.4 A4.4,4.4 0 0 0 -2.6,4.4 Q0,3 2.6,4.4 A4.4,4.4 0 0 0 2.6,-4.4 Q0,-3 -2.6,-4.4 Z" fill="#fff" stroke="#1e1e1e" stroke-width="1.6"/><circle cx="-2.6" cy="0" r="1.3" fill="#222"/><circle cx="2.6" cy="0" r="1.3" fill="#222"/></g>
<g transform="translate(1613.6 789) rotate(-18.7)"><path d="M-2.6,-4.4 A4.4,4.4 0 0 0 -2.6,4.4 Q0,3 2.6,4.4 A4.4,4.4 0 0 0 2.6,-4.4 Q0,-3 -2.6,-4.4 Z" fill="#fff" stroke="#1e1e1e" stroke-width="1.6"/><circle cx="-2.6" cy="0" r="1.3" fill="#222"/><circle cx="2.6" cy="0" r="1.3" fill="#222"/></g>
<g transform="translate(1617 784) rotate(25)"><path d="M-2.5,-4 A4,4 0 0 0 -2.5,4 Q0,2.6 2.5,4 A4,4 0 0 0 2.5,-4 Q0,-2.6 -2.5,-4 Z" fill="#fff" stroke="#1e1e1e" stroke-width="1.6"/><circle cx="-2.5" cy="0" r="1.3" fill="#222"/><circle cx="2.5" cy="0" r="1.3" fill="#222"/></g>
<g transform="translate(1622 796) rotate(68)"><path d="M-2.3,-4.2 A4.2,4.2 0 0 0 -2.3,4.2 Q0,2.8 2.3,4.2 A4.2,4.2 0 0 0 2.3,-4.2 Q0,-2.8 -2.3,-4.2 Z" fill="#fff" stroke="#1e1e1e" stroke-width="1.6"/><circle cx="-2.3" cy="0" r="1.3" fill="#222"/><circle cx="2.3" cy="0" r="1.3" fill="#222"/></g>
<g transform="translate(1627 800) rotate(68)"><path d="M-2,-4 A4,4 0 0 0 -2,4 Q0,2.6 2,4 A4,4 0 0 0 2,-4 Q0,-2.6 -2,-4 Z" fill="#fff" stroke="#1e1e1e" stroke-width="1.6"/><circle cx="-2" cy="0" r="1.3" fill="#222"/><circle cx="2" cy="0" r="1.3" fill="#222"/></g>
<g id="wm" style="mix-blend-mode:multiply">
<path d="M500.5,365 Q500.5,357 508,357 L584,357 L584,379.5 L525.6,379.5 L525.6,469.7 L579,469.7 L579,491.5 L525.6,491.5 L525.6,585 L586,585 L586,608 L508,608 Q500.5,608 500.5,600 Z" fill="#e4e4e4"/>
<path d="M614,421 L633,421 L656,585 L677,421 L693,421 L666,606 L645,606 Z" fill="#e4e4e4"/>
<rect x="724.8" y="428.8" width="62.5" height="169.5" rx="12" fill="none" stroke="#e4e4e4" stroke-width="15.5"/>
<rect x="826" y="421" width="16" height="185" rx="0" fill="#e4e4e4"/>
<rect x="826" y="590" width="62" height="16" rx="0" fill="#e4e4e4"/>
<path d="M907,421 L922.5,421 L922.5,583 Q922.5,591 930,591 L962,591 Q969,591 969,583 L969,421 L985,421 L985,590 Q985,606 969,606 L923,606 Q907,606 907,590 Z" fill="#e4e4e4"/>
<rect x="1008" y="421" width="69" height="15" rx="0" fill="#e4e4e4"/>
<rect x="1032" y="421" width="16" height="185.5" rx="0" fill="#e4e4e4"/>
<rect x="1097" y="421" width="17" height="185" rx="0" fill="#e4e4e4"/>
<path d="M1147,372 Q1147,357 1162,357 L1242,357 Q1257,357 1257,372 L1257,595 Q1257,605 1250,612 Q1257,620 1257,630 L1257,844 Q1257,854 1247,854 L1147,854 Z M1173,380 L1173,605 L1231,605 L1231,380 Z M1173,624.5 L1173,829 L1231,829 L1231,624.5 Z" fill="#e4e4e4"/>
<path d="M1297,422 L1316,422 L1356,570 L1356,422 L1375,422 L1375,607 L1356,607 L1316,459 L1316,607 L1297,607 Z" fill="#e4e4e4"/>
<rect x="1298" y="665" width="17" height="186" rx="0" fill="#e4e4e4"/>
<rect x="1345" y="665" width="16" height="186" rx="0" fill="#e4e4e4"/>
<path d="M1361,740 L1405,665 L1424,665 L1361,770 Z" fill="#e4e4e4"/>
<path d="M1366,752 L1378,737 L1428,851 L1409,851 Z" fill="#e4e4e4"/>
<rect x="1439" y="665" width="15" height="186" rx="0" fill="#e4e4e4"/>
<rect x="1439" y="665" width="58" height="16" rx="0" fill="#e4e4e4"/>
<rect x="1439" y="750" width="57" height="15" rx="0" fill="#e4e4e4"/>
<rect x="1439" y="836" width="61" height="15" rx="0" fill="#e4e4e4"/>
<text x="679" y="673" font-family="Liberation Serif" font-style="italic" font-weight="bold" font-size="58" fill="#f8dbdb" textLength="410" lengthAdjust="spacingAndGlyphs" transform="rotate(-2 880 660)">ride the power</text>
</g>
<defs><filter id="sh" x="-5%" y="-30%" width="110%" height="160%"><feDropShadow dx="1.2" dy="3.2" stdDeviation="2.2" flood-color="#000" flood-opacity="0.33"/></filter><linearGradient id="lg" x1="0" y1="0" x2="1" y2="0"><stop offset="0" stop-color="#e0e0e0"/><stop offset="1" stop-color="#f7f7f7"/></linearGradient></defs>
<rect x="17" y="-10" width="570" height="113" fill="#fdfdfd" filter="url(#sh)"/>
<polygon points="17,0 46,24 46,80 17,103" fill="url(#lg)"/>
<polygon points="46,24 562,24 562,80 46,80" fill="#f9f9f9"/>
<polygon points="17,103 46,80 562,80 587,103" fill="#fbfbfb"/>
<text x="32.6" y="56.3" textLength="476.8" lengthAdjust="spacingAndGlyphs" font-family="Liberation Sans" font-size="35.6" fill="#0d0d0d" stroke="#0d0d0d" stroke-width="1.3">REAR WHEEL WITHOUT TYRE</text></svg></div></body></html>
